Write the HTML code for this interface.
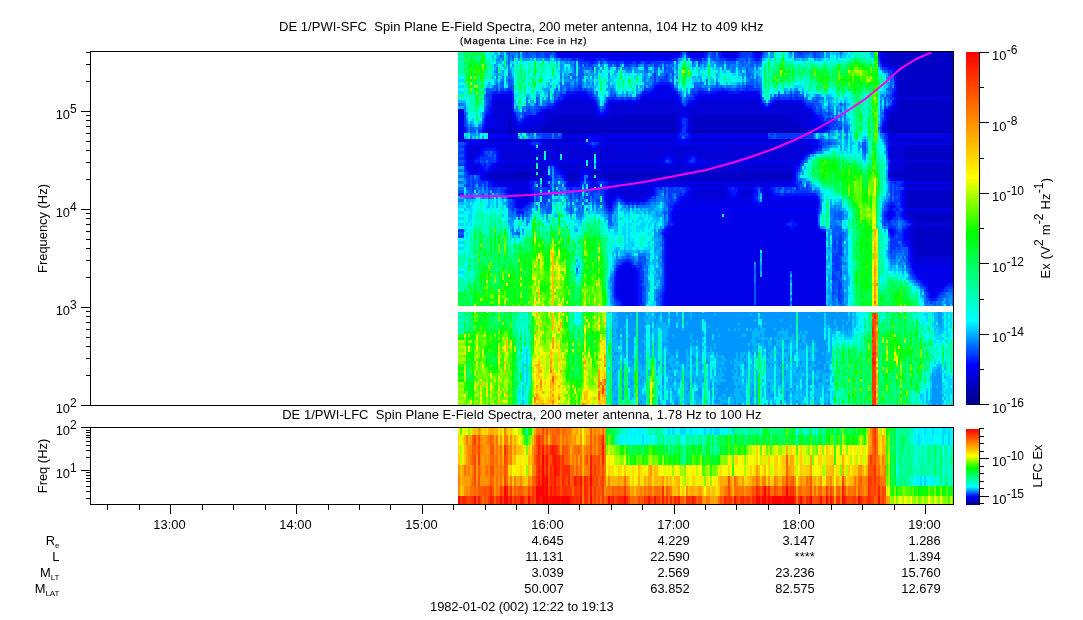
<!DOCTYPE html>
<html><head><meta charset="utf-8"><title>DE 1/PWI-SFC Spin Plane E-Field Spectra</title>
<style>
html,body{margin:0;padding:0;background:#fff;}
body{width:1083px;height:620px;overflow:hidden;}
svg{display:block;position:absolute;left:0;top:0;}
text{font-family:"Liberation Sans",sans-serif;fill:#000;}
</style></head><body>
<svg width="1083" height="620" viewBox="0 0 1083 620">
<rect width="1083" height="620" fill="#fff"/>
<g shape-rendering="crispEdges" fill="none">
<path stroke="#0000b4" stroke-width="1" d="M952.5 130v3"/>
<path stroke="#0000b4" stroke-width="2" d="M509 130v3M511 130v3M513 130v3M517 175v3M519 172v6M521 172v6M523 172v6M525 172v6M527 172v6M529 175v3M543 130v3M545 130v3M547 130v3M549 130v3M551 130v3M553 130v3M555 130v3M557 130v3M559 130v3M561 130v3M563 130v3M565 130v3M567 130v3M569 130v3M571 130v3M573 130v3M575 130v3M577 130v3M579 130v3M581 130v3M583 130v3M585 130v3M587 130v3M589 130v3M591 130v3M593 130v3M595 130v3M597 130v3M599 130v3M601 130v3M603 130v3M605 130v3M607 130v3M609 130v3M611 130v3M613 130v3M615 130v3M617 130v3M619 130v3M621 130v3M623 130v3M625 130v3M627 130v3M629 130v3M631 130v3M633 130v3M635 130v3M637 130v3M639 130v3M641 130v3M643 130v3M645 130v3M647 130v3M649 130v3M651 130v3M653 130v3M655 130v3M657 130v3M659 130v3M661 130v3M663 130v3M665 130v3M667 130v3M669 130v3M671 130v3M673 130v3M675 130v3M693 130v3M695 130v3M697 130v3M699 130v3M701 130v3M703 130v3M705 130v3M707 130v3M709 130v3M711 130v3M713 130v3M715 130v3M717 130v3M719 130v3M721 130v3M723 130v3M725 130v3M727 130v3M729 130v3M731 130v3M733 130v3M735 130v3M737 130v3M739 130v3M741 130v3M743 130v3M745 130v3M747 130v3M749 130v3M751 130v3M753 130v3M755 130v3M757 130v3M759 130v3M761 130v3M763 130v3M765 130v3M767 130v3M769 130v3M771 130v3M773 130v3M775 130v3M777 130v3M779 130v3M781 130v3M783 130v3M785 130v3M787 130v3M789 130v3M791 130v3M793 130v3M795 130v3M797 130v3M799 130v3M801 130v3M891 130v3M893 130v3M895 130v3M897 130v3M899 130v3M901 130v3M903 130v3M905 130v3M907 130v3M909 130v3M911 130v3M913 130v3M915 130v3M917 130v3M919 130v3M921 130v3M923 130v3M925 130v3M927 130v3M929 130v3M931 130v3M933 130v3M935 130v3M937 130v3M939 130v3M941 130v3M943 130v3M945 130v3M947 130v3M949 130v3M951 130v3"/>
<path stroke="#0000c6" stroke-width="1" d="M952.5 52v45M952.5 100v30M952.5 139v3M952.5 145v15M952.5 163v18M952.5 184v3M952.5 190v18M952.5 211v12M952.5 226v30"/>
<path stroke="#0000c6" stroke-width="2" d="M487 130v3M487 175v3M489 130v3M489 175v3M491 130v3M491 175v3M493 130v3M493 172v6M495 130v3M495 172v9M497 130v3M497 172v9M499 130v3M499 172v9M501 130v3M501 172v9M503 130v3M503 172v9M505 130v3M505 172v9M507 130v3M507 172v9M509 118v12M509 172v9M511 115v15M511 139v3M511 172v9M513 127v3M513 172v9M515 130v3M515 172v9M517 130v3M517 172v3M517 178v3M519 130v3M519 178v3M521 130v3M521 178v3M523 130v3M523 178v3M525 130v3M525 178v3M527 130v3M527 178v3M529 130v3M529 172v3M529 178v3M531 130v3M531 172v6M533 130v3M533 172v6M535 130v3M535 172v6M537 130v3M537 175v3M539 130v3M539 172v6M541 127v6M541 172v6M543 127v3M543 172v9M545 124v6M547 124v6M549 121v9M551 115v15M551 139v3M553 115v15M553 139v3M555 115v15M555 139v3M557 115v15M557 139v3M559 115v15M559 139v3M561 115v15M561 139v3M563 115v15M563 139v3M565 115v15M565 139v3M567 115v15M567 139v3M569 115v15M569 139v3M569 172v9M571 115v15M571 139v3M571 172v9M573 115v15M573 139v3M573 172v9M575 115v15M575 139v3M575 172v9M577 115v15M577 139v3M577 172v9M579 115v15M581 115v15M583 115v15M585 115v15M587 115v15M589 115v15M591 115v15M593 115v15M593 172v9M595 118v12M595 172v3M595 178v3M597 118v12M597 172v6M599 118v12M599 172v6M601 118v12M601 172v6M603 118v12M603 172v6M605 118v12M605 172v6M607 118v12M607 172v6M609 118v12M609 172v9M611 115v15M611 172v9M613 115v15M613 172v9M615 115v15M615 172v9M617 115v15M617 172v9M619 115v15M619 172v9M621 115v15M621 172v9M623 115v15M623 172v9M625 115v15M625 172v9M627 115v15M627 172v9M629 115v15M629 172v9M631 115v15M631 172v9M633 115v15M633 172v9M635 115v15M635 172v9M637 115v15M637 172v9M639 115v15M639 172v9M641 115v15M641 172v9M643 115v15M643 172v9M645 115v15M645 172v9M647 115v15M647 172v9M649 115v15M649 172v9M651 115v15M651 172v9M653 115v15M653 172v9M655 115v15M655 172v9M657 115v15M657 172v9M659 115v15M659 172v9M661 115v15M661 172v9M663 115v15M663 172v9M665 115v15M665 172v9M667 115v15M667 172v9M669 115v15M669 172v9M671 115v15M671 172v9M673 115v15M673 172v9M675 115v15M675 172v9M677 118v9M677 130v3M677 172v9M679 172v9M681 172v9M683 172v9M685 172v9M687 172v9M689 172v9M691 130v3M691 172v9M693 115v15M693 172v9M695 115v15M695 172v9M697 115v15M697 172v9M699 115v15M699 172v9M701 115v15M701 172v9M703 115v15M703 172v9M705 115v15M705 172v9M707 115v15M707 172v9M709 115v15M709 172v9M711 115v15M711 172v9M713 115v15M713 172v9M715 115v15M715 172v9M717 115v15M717 172v9M719 115v15M719 172v9M721 115v15M721 172v9M723 115v15M723 172v9M725 115v15M725 172v9M727 115v15M727 172v9M729 115v15M729 172v9M731 115v15M731 172v9M733 115v15M733 172v9M735 115v15M735 172v9M737 115v15M737 172v9M739 115v15M739 172v9M741 115v15M741 172v9M743 115v15M743 172v9M745 115v15M745 172v9M747 115v15M747 172v9M749 115v15M749 172v9M751 115v15M751 172v9M753 115v15M753 172v9M755 115v15M755 172v9M757 115v15M757 172v9M759 115v15M759 172v9M761 115v15M761 172v9M763 115v15M763 172v9M765 115v15M765 172v9M767 115v15M767 172v9M769 115v15M769 172v9M771 115v15M771 172v9M773 115v15M773 172v9M775 115v15M775 172v9M777 115v15M777 172v9M779 115v15M779 172v9M781 115v15M781 172v9M783 115v15M783 172v9M785 115v15M785 172v9M787 115v15M787 172v9M789 115v15M789 172v9M791 115v15M791 172v9M793 115v15M795 121v9M797 124v6M799 124v6M801 127v3M803 127v6M805 130v3M807 130v3M809 130v3M889 124v9M891 52v12M891 112v18M891 172v6M893 52v12M893 112v18M893 172v6M895 52v12M895 112v18M895 172v6M897 52v12M897 112v18M897 172v6M899 52v45M899 100v30M899 172v6M901 52v45M901 100v30M901 172v6M903 52v45M903 100v30M903 139v3M903 172v6M905 52v45M905 100v30M905 139v3M905 145v15M905 163v18M907 52v45M907 100v30M907 139v3M907 145v15M907 163v18M907 184v3M907 190v18M907 211v6M909 52v45M909 100v30M909 139v3M909 145v15M909 163v18M909 184v3M909 190v18M909 211v6M911 52v45M911 100v30M911 139v3M911 145v15M911 163v18M911 184v3M911 190v18M911 211v6M913 52v45M913 100v30M913 139v3M913 145v15M913 163v18M913 184v3M913 190v18M913 211v6M915 52v45M915 100v30M915 139v3M915 145v15M915 163v18M915 184v3M915 190v18M915 211v12M915 226v21M917 52v45M917 100v30M917 139v3M917 145v15M917 163v18M917 184v3M917 190v18M917 211v12M917 226v30M919 52v45M919 100v30M919 139v3M919 145v15M919 163v18M919 184v3M919 190v18M919 211v12M919 226v30M921 52v45M921 100v30M921 139v3M921 145v15M921 163v18M921 184v3M921 190v18M921 211v12M921 226v30M923 52v45M923 100v30M923 139v3M923 145v15M923 163v18M923 184v3M923 190v18M923 211v12M923 226v30M925 52v45M925 100v30M925 139v3M925 145v15M925 163v18M925 184v3M925 190v18M925 211v12M925 226v30M927 52v45M927 100v30M927 139v3M927 145v15M927 163v18M927 184v3M927 190v18M927 211v12M927 226v30M929 52v45M929 100v30M929 139v3M929 145v15M929 163v18M929 184v3M929 190v18M929 211v12M929 226v30M931 52v45M931 100v30M931 139v3M931 145v15M931 163v18M931 184v3M931 190v18M931 211v12M931 226v30M933 52v45M933 100v30M933 139v3M933 145v15M933 163v18M933 184v3M933 190v18M933 211v12M933 226v30M935 52v45M935 100v30M935 139v3M935 145v15M935 163v18M935 184v3M935 190v18M935 211v12M935 226v30M937 52v45M937 100v30M937 139v3M937 145v15M937 163v18M937 184v3M937 190v18M937 211v12M937 226v30M939 52v45M939 100v30M939 139v3M939 145v15M939 163v18M939 184v3M939 190v18M939 211v12M939 226v30M941 52v45M941 100v30M941 139v3M941 145v15M941 163v18M941 184v3M941 190v18M941 211v12M941 226v30M943 52v45M943 100v30M943 139v3M943 145v15M943 163v18M943 184v3M943 190v18M943 211v12M943 226v30M945 52v45M945 100v30M945 139v3M945 145v15M945 163v18M945 184v3M945 190v18M945 211v12M945 226v30M947 52v45M947 100v30M947 139v3M947 145v15M947 163v18M947 184v3M947 190v18M947 211v12M947 226v30M949 52v45M949 100v30M949 139v3M949 145v15M949 163v18M949 184v3M949 190v18M949 211v12M949 226v30M951 52v45M951 100v30M951 139v3M951 145v15M951 163v18M951 184v3M951 190v18M951 211v12M951 226v30"/>
<path stroke="#0000d7" stroke-width="1" d="M952.5 97v3M952.5 160v3M952.5 223v3M952.5 256v9"/>
<path stroke="#0000d7" stroke-width="2" d="M459 109v9M459 133v9M461 109v9M461 133v9M463 109v9M463 133v9M469 145v15M471 145v15M471 163v6M473 145v9M473 166v3M475 145v9M475 166v3M477 145v9M477 166v3M479 145v6M481 145v3M485 130v3M485 139v3M485 175v3M487 127v3M487 139v3M487 172v3M489 127v3M489 139v3M489 172v3M491 127v3M491 139v3M491 172v3M491 178v3M493 127v3M493 139v3M493 178v3M495 100v21M495 127v3M495 139v3M495 166v6M497 100v21M497 127v3M497 139v3M497 166v6M499 100v21M499 127v3M499 139v3M499 166v6M501 100v21M501 127v3M501 139v3M501 145v3M501 163v9M503 100v30M503 139v3M503 145v15M503 163v9M505 100v30M505 139v3M505 145v15M505 163v9M507 100v30M507 139v3M507 145v15M507 163v9M507 184v3M509 100v18M509 139v3M509 145v15M509 163v9M509 184v3M511 100v15M511 133v3M511 145v15M511 163v9M511 184v3M511 190v3M513 118v9M513 139v3M513 145v15M513 163v9M513 184v3M513 190v3M515 124v6M515 139v3M515 145v15M515 163v9M515 184v3M515 190v3M517 127v3M517 139v3M517 145v15M517 163v9M517 184v3M517 190v6M519 127v3M519 139v3M519 145v15M519 163v9M519 184v3M519 190v9M521 127v3M521 139v3M521 145v15M521 163v9M521 184v3M521 190v9M523 127v3M523 139v3M523 145v15M523 163v9M523 184v3M523 190v9M525 127v3M525 139v3M525 145v15M525 163v9M525 184v3M525 190v9M527 127v3M527 139v3M527 145v15M527 163v9M527 184v3M527 190v9M529 127v3M529 139v3M529 145v15M529 163v9M531 127v3M531 148v12M531 163v9M531 178v3M533 127v3M533 151v9M533 163v9M533 178v3M535 127v3M535 151v9M535 163v9M537 121v9M537 151v6M537 169v3M539 121v9M539 151v9M539 163v9M539 178v3M541 121v6M541 148v12M541 163v9M543 121v6M543 139v3M543 145v15M543 163v9M545 112v12M545 139v3M545 145v6M545 163v18M547 112v12M547 139v3M547 145v15M549 112v9M549 139v3M549 145v15M551 112v3M551 145v15M553 112v3M553 145v15M555 109v6M555 145v15M557 109v6M557 145v15M559 106v9M559 145v15M559 163v3M561 103v12M561 145v9M561 163v6M563 103v12M563 133v3M563 145v15M563 163v6M565 103v12M565 133v3M565 145v15M565 163v6M567 100v15M567 133v3M567 145v15M567 163v18M569 100v15M569 133v3M569 145v15M569 163v9M571 100v15M571 133v3M571 145v15M571 163v9M573 100v15M573 133v3M573 145v15M573 163v9M575 100v15M575 133v3M575 145v15M575 163v9M577 100v15M577 133v3M577 145v15M577 163v9M579 100v15M579 139v3M579 145v15M579 163v18M581 100v15M581 139v3M581 145v15M581 163v6M583 100v15M583 139v3M583 145v15M583 163v6M585 100v15M585 139v3M585 145v15M585 163v6M587 100v15M587 148v12M587 166v3M589 103v12M589 151v9M589 163v6M591 103v12M591 151v9M591 163v12M593 103v12M593 151v9M593 163v9M595 112v6M595 151v3M595 169v3M597 115v3M597 151v9M597 163v9M597 178v3M599 148v12M599 163v9M599 178v3M601 139v3M601 145v15M601 163v9M603 139v3M603 145v15M603 163v9M605 139v3M605 145v15M605 163v9M605 178v3M607 115v3M607 139v3M607 145v15M607 163v9M607 178v3M609 112v6M609 139v3M609 145v15M609 163v9M611 103v12M611 139v3M611 145v15M611 163v9M611 184v3M611 190v6M613 103v12M613 139v3M613 145v15M613 163v9M613 184v3M613 190v3M615 103v12M615 139v3M615 145v15M615 163v9M615 184v3M615 190v3M617 103v12M617 139v3M617 145v15M617 163v9M617 184v3M617 190v3M619 103v12M619 139v3M619 145v15M619 163v9M619 184v3M619 190v3M621 103v12M621 139v3M621 145v15M621 163v9M621 184v3M621 190v3M623 103v12M623 139v3M623 145v15M623 163v9M623 184v3M623 190v3M625 103v12M625 139v3M625 145v15M625 163v9M625 184v3M625 190v6M627 103v12M627 139v3M627 145v15M627 163v9M627 184v3M627 190v9M629 103v12M629 139v3M629 145v15M629 163v9M629 184v3M629 190v9M631 103v12M631 139v3M631 145v15M631 163v9M631 184v3M631 190v9M633 103v12M633 139v3M633 145v15M633 163v9M633 184v3M633 190v9M635 103v12M635 139v3M635 145v15M635 163v9M635 184v3M635 190v9M637 103v12M637 139v3M637 145v15M637 163v9M637 184v3M637 190v9M639 103v12M639 139v3M639 145v15M639 163v9M639 184v3M639 190v9M641 103v12M641 139v3M641 145v15M641 163v9M641 184v3M641 190v9M643 100v15M643 139v3M643 145v15M643 163v9M643 184v3M643 190v9M645 100v15M645 139v3M645 145v15M645 163v9M645 184v3M645 190v6M647 100v15M647 139v3M647 145v15M647 163v9M647 184v3M647 190v3M649 100v15M649 139v3M649 145v15M649 163v9M649 184v3M649 190v3M651 100v15M651 139v3M651 145v15M651 163v9M651 184v3M651 190v3M653 100v15M653 139v3M653 145v15M653 163v9M653 184v3M655 100v15M655 139v3M655 145v15M655 163v9M655 184v3M657 100v15M657 139v3M657 145v15M657 163v9M659 100v15M659 139v3M659 145v15M659 163v9M661 100v15M661 139v3M661 145v12M661 163v9M663 100v15M663 139v3M663 145v9M663 166v6M665 100v15M665 139v3M665 145v9M665 166v6M667 100v15M667 139v3M667 145v9M667 166v6M669 100v15M669 139v3M669 145v9M669 166v6M671 100v15M671 139v3M671 145v9M671 166v6M673 100v15M673 139v3M673 145v9M673 166v6M675 100v15M675 139v3M675 145v15M675 163v9M677 103v15M677 127v3M677 139v3M677 145v15M677 163v9M679 109v9M679 130v3M679 145v15M679 163v9M681 109v6M681 145v15M681 163v9M683 145v15M683 163v9M685 145v15M685 163v9M687 109v6M687 145v9M687 166v6M687 184v3M689 109v6M689 145v9M689 166v6M689 184v3M691 106v24M691 139v3M691 145v9M691 166v6M691 184v3M693 103v12M693 139v3M693 145v9M693 166v6M693 184v3M693 190v9M695 103v12M695 139v3M695 145v9M695 166v6M695 184v3M695 190v9M697 103v12M697 139v3M697 145v9M697 166v6M697 184v3M697 190v9M699 100v15M699 139v3M699 145v12M699 163v9M699 184v3M699 190v9M701 100v15M701 139v3M701 145v15M701 163v9M701 184v3M701 190v9M703 100v15M703 139v3M703 145v15M703 163v9M703 184v3M703 190v9M705 100v15M705 139v3M705 145v15M705 163v9M705 184v3M705 190v9M707 100v15M707 139v3M707 145v15M707 163v9M707 184v3M707 190v9M709 100v15M709 139v3M709 145v15M709 163v9M709 184v3M709 190v9M711 100v15M711 139v3M711 145v15M711 163v9M711 184v3M711 190v9M713 100v15M713 139v3M713 145v15M713 163v9M713 184v3M713 190v9M715 100v15M715 139v3M715 145v15M715 163v9M715 184v3M715 190v9M717 100v15M717 139v3M717 145v15M717 163v9M717 184v3M717 190v9M719 100v15M719 139v3M719 145v15M719 163v9M719 184v3M719 190v9M721 100v15M721 139v3M721 145v15M721 163v9M721 184v3M721 190v9M723 100v15M723 139v3M723 145v15M723 163v9M723 184v3M723 190v9M725 100v15M725 139v3M725 145v15M725 163v9M725 184v3M725 190v9M727 100v15M727 139v3M727 145v15M727 163v9M727 184v3M729 100v15M729 139v3M729 145v15M729 163v9M729 184v3M731 100v15M731 139v3M731 145v15M731 163v9M731 184v3M733 100v15M733 139v3M733 145v15M733 163v9M735 100v15M735 139v3M735 145v15M735 163v9M737 100v15M737 139v3M737 145v15M737 163v9M737 184v3M739 100v15M739 139v3M739 145v15M739 163v9M739 184v3M741 100v15M741 139v3M741 145v15M741 163v9M741 184v3M741 190v3M743 100v15M743 139v3M743 145v15M743 163v9M743 184v3M743 190v9M745 100v15M745 139v3M745 145v15M745 163v9M745 184v3M745 190v9M747 100v15M747 139v3M747 145v15M747 163v9M747 184v3M747 190v9M749 100v15M749 139v3M749 145v15M749 163v9M749 184v3M749 190v9M751 100v15M751 139v3M751 145v15M751 163v9M751 184v3M751 190v6M753 100v15M753 139v3M753 145v15M753 163v9M753 184v3M755 100v15M755 139v3M755 145v15M755 163v9M755 184v3M757 100v15M757 139v3M757 145v15M757 163v9M759 100v15M759 139v3M759 145v15M759 163v9M761 109v6M761 139v3M761 145v15M761 163v9M761 184v3M763 109v6M763 139v3M763 145v15M763 163v9M763 184v3M765 112v3M765 139v3M765 145v15M765 163v9M765 184v3M767 112v3M767 139v3M767 145v15M767 163v9M767 184v3M767 190v9M769 112v3M769 139v3M769 145v15M769 163v9M769 184v3M771 109v6M771 139v3M771 145v15M771 163v9M771 184v3M773 109v6M773 139v3M773 145v15M773 163v9M775 103v12M775 139v3M775 145v15M775 163v9M777 103v12M777 139v3M777 145v15M777 163v9M779 103v12M779 139v3M779 145v15M779 163v9M781 103v12M781 139v3M781 145v15M781 163v9M783 103v12M783 139v3M783 145v15M783 163v9M785 103v12M785 139v3M785 145v15M785 163v9M787 103v12M787 139v3M787 145v15M787 163v9M789 103v12M789 139v3M789 145v15M789 163v9M791 103v12M791 139v3M791 145v15M791 163v9M793 103v12M793 139v3M793 145v15M793 163v3M793 172v9M795 103v18M795 139v3M795 145v15M797 103v21M797 139v3M797 145v15M799 103v21M799 139v3M799 145v15M801 103v24M801 139v3M801 145v12M803 109v18M803 139v3M803 145v9M805 109v21M805 139v3M805 145v9M807 112v18M807 139v3M807 145v9M809 112v9M809 127v3M809 139v3M809 145v6M811 130v3M811 145v3M813 130v3M883 52v12M885 52v12M885 127v6M887 52v12M887 124v9M889 52v12M889 112v12M891 64v3M891 109v3M891 139v3M891 145v15M891 163v9M893 64v3M893 109v3M893 139v3M893 145v15M893 163v9M895 64v3M895 109v3M895 139v3M895 145v15M895 163v9M897 64v9M897 100v12M897 139v3M897 145v15M897 163v9M899 97v3M899 139v3M899 145v15M899 163v9M901 97v3M901 139v3M901 145v27M901 178v3M903 97v3M903 145v27M903 178v3M905 97v3M905 160v3M907 97v3M907 160v3M909 97v3M909 160v3M909 232v9M911 97v3M911 160v3M911 217v3M911 229v12M913 97v3M913 160v3M913 217v6M913 226v21M915 97v3M915 160v3M915 223v3M915 247v15M917 97v3M917 160v3M917 223v3M917 256v9M919 97v3M919 160v3M919 223v3M919 256v9M921 97v3M921 160v3M921 223v3M921 256v9M923 97v3M923 160v3M923 223v3M923 256v9M925 97v3M925 160v3M925 223v3M925 256v9M927 97v3M927 160v3M927 223v3M927 256v9M929 97v3M929 160v3M929 223v3M929 256v9M931 97v3M931 160v3M931 223v3M931 256v9M933 97v3M933 160v3M933 223v3M933 256v9M935 97v3M935 160v3M935 223v3M935 256v9M937 97v3M937 160v3M937 223v3M937 256v9M939 97v3M939 160v3M939 223v3M939 256v9M941 97v3M941 160v3M941 223v3M941 256v9M943 97v3M943 160v3M943 223v3M943 256v9M945 97v3M945 160v3M945 223v3M945 256v9M947 97v3M947 160v3M947 223v3M947 256v9M949 97v3M949 160v3M949 223v3M949 256v9M951 97v3M951 160v3M951 223v3M951 256v9"/>
<path stroke="#0000e8" stroke-width="1" d="M952.5 133v6M952.5 142v3M952.5 181v3M952.5 187v3M952.5 208v3M952.5 265v18"/>
<path stroke="#0000e8" stroke-width="2" d="M459 118v15M461 118v15M463 118v15M469 160v9M471 160v3M471 169v3M473 154v6M473 163v3M473 169v3M475 154v3M475 163v3M475 169v3M477 169v3M479 151v3M479 166v3M481 139v3M481 148v3M483 139v3M483 145v3M483 172v6M485 145v3M485 172v3M487 118v9M487 142v6M487 178v3M489 118v9M489 136v3M489 142v6M489 178v3M491 115v12M491 136v3M491 142v6M491 169v3M493 100v27M493 136v3M493 142v6M493 166v6M495 94v6M495 121v6M495 136v3M495 142v6M495 181v6M497 94v6M497 121v6M497 136v3M497 142v6M497 163v3M497 181v6M499 94v6M499 121v6M499 136v3M499 142v9M499 163v3M499 181v6M501 94v6M501 121v6M501 136v3M501 142v3M501 148v12M501 181v6M503 94v6M503 136v3M503 142v3M503 160v3M503 181v6M505 94v6M505 133v6M505 142v3M505 160v3M505 181v6M507 94v6M507 133v6M507 142v3M507 160v3M507 181v3M509 94v6M509 133v6M509 142v3M509 160v3M509 181v3M509 190v3M511 94v6M511 136v3M511 142v3M511 160v3M511 181v3M511 193v3M513 112v6M513 133v6M513 142v3M513 160v3M513 181v3M513 187v3M513 193v3M515 121v3M515 133v6M515 142v3M515 160v3M515 181v3M515 187v3M515 193v3M517 124v3M517 133v6M517 142v3M517 160v3M517 181v3M517 187v3M517 196v3M519 142v3M519 160v3M519 181v3M519 187v3M519 199v9M521 142v3M521 160v3M521 181v3M521 187v3M521 199v9M523 124v3M523 142v3M523 160v3M523 181v3M523 187v3M523 199v6M525 121v6M525 142v3M525 160v3M525 181v3M525 187v3M525 199v3M527 118v9M527 142v3M527 160v3M527 181v3M527 187v3M527 199v3M529 118v9M529 160v3M529 184v3M529 190v12M531 118v9M531 139v3M531 145v3M531 160v3M533 118v9M533 148v3M533 160v3M535 118v9M535 148v3M535 160v3M535 178v3M537 118v3M537 148v3M537 160v3M537 178v3M539 118v3M539 148v3M539 160v3M541 112v9M541 139v3M541 145v3M541 160v3M543 112v9M543 160v3M543 184v3M545 109v3M545 142v3M545 160v3M545 184v3M547 109v3M547 142v3M547 160v9M547 172v9M549 109v3M549 142v3M549 160v6M551 109v3M551 142v3M551 160v3M553 109v3M553 142v3M553 160v3M555 142v3M555 160v3M557 106v3M557 142v3M557 160v6M559 52v3M559 103v3M559 142v3M559 160v3M559 166v3M561 52v6M561 100v3M561 142v3M561 160v3M561 169v3M563 52v6M563 100v3M563 136v3M563 142v3M563 160v3M563 169v6M565 52v6M565 100v3M565 136v3M565 142v3M565 160v3M565 169v9M567 52v6M567 136v3M567 142v3M567 160v3M569 52v6M569 94v6M569 136v3M569 142v3M569 160v3M569 181v6M571 52v6M571 94v6M571 136v3M571 142v3M571 160v3M571 181v6M573 52v6M573 94v6M573 136v3M573 142v3M573 160v3M573 181v6M575 52v6M575 94v6M575 136v3M575 142v3M575 160v3M575 181v6M577 52v6M577 94v6M577 136v3M577 142v3M577 160v3M577 181v6M579 52v6M579 94v6M579 133v6M579 142v3M579 160v3M581 52v6M581 94v6M581 133v6M581 142v3M581 160v3M581 169v12M583 52v6M583 94v6M583 133v6M583 142v3M583 160v3M583 169v6M585 52v6M585 94v6M585 133v6M585 142v3M585 160v3M585 169v3M587 52v6M587 133v3M587 145v3M587 169v3M589 52v6M589 100v3M589 133v3M589 139v3M589 145v6M589 160v3M589 169v6M591 52v6M591 100v3M591 133v3M591 148v3M591 160v3M591 175v6M593 52v6M593 100v3M593 133v3M593 148v3M593 160v3M593 184v3M595 52v6M595 103v9M595 133v3M595 148v3M595 184v3M597 52v6M597 112v3M597 133v3M597 139v3M597 148v3M597 160v3M599 52v6M599 115v3M599 133v3M599 139v3M599 145v3M599 160v3M601 52v6M601 115v3M601 133v3M601 160v3M601 178v3M603 52v6M603 115v3M603 133v6M603 142v3M603 160v3M603 178v3M605 52v6M605 115v3M605 133v6M605 142v3M605 160v3M607 52v6M607 112v3M607 133v6M607 142v3M607 160v3M609 52v6M609 103v9M609 133v6M609 142v3M609 160v3M609 184v3M609 190v18M611 52v6M611 100v3M611 133v6M611 142v3M611 160v3M611 181v3M611 187v3M611 196v12M613 52v6M613 133v6M613 142v3M613 160v3M613 181v3M613 187v3M613 193v6M615 52v6M615 133v6M615 142v3M615 160v3M615 181v3M615 187v3M615 193v3M617 52v6M617 133v6M617 142v3M617 160v3M617 181v3M617 187v3M617 193v3M619 52v6M619 133v6M619 142v3M619 160v3M619 181v3M619 187v3M619 193v3M619 271v27M621 52v6M621 133v6M621 142v3M621 160v3M621 181v3M621 187v3M621 193v3M621 268v30M623 52v6M623 133v6M623 142v3M623 160v3M623 181v3M623 187v3M623 193v3M623 268v33M625 52v6M625 133v6M625 142v3M625 160v3M625 181v3M625 187v3M625 196v3M625 265v42M627 52v6M627 133v6M627 142v3M627 160v3M627 181v3M627 187v3M627 199v3M627 262v45M629 52v6M629 133v6M629 142v3M629 160v3M629 181v3M629 187v3M629 199v3M629 265v42M631 52v6M631 133v6M631 142v3M631 160v3M631 181v3M631 187v3M631 199v3M631 268v39M633 52v6M633 133v6M633 142v3M633 160v3M633 181v3M633 187v3M633 199v3M633 268v39M635 52v6M635 133v6M635 142v3M635 160v3M635 181v3M635 187v3M635 199v3M635 271v36M637 52v6M637 133v6M637 142v3M637 160v3M637 181v3M637 187v3M637 199v3M639 52v6M639 100v3M639 133v6M639 142v3M639 160v3M639 181v3M639 187v3M639 199v3M641 52v6M641 100v3M641 133v6M641 142v3M641 160v3M641 181v3M641 187v3M641 199v3M643 52v6M643 94v6M643 133v6M643 142v3M643 160v3M643 181v3M643 187v3M643 199v3M645 52v6M645 94v6M645 133v6M645 142v3M645 160v3M645 181v3M645 187v3M645 196v3M647 52v6M647 94v6M647 133v6M647 142v3M647 160v3M647 181v3M647 187v3M647 193v3M649 52v6M649 94v6M649 133v6M649 142v3M649 160v3M649 181v3M649 187v3M649 193v3M651 52v6M651 94v6M651 133v6M651 142v3M651 160v3M651 181v3M651 187v3M651 193v3M653 52v6M653 94v6M653 133v6M653 142v3M653 160v3M653 181v3M653 190v3M655 52v6M655 94v6M655 133v6M655 142v3M655 160v3M655 181v3M657 52v6M657 91v9M657 133v6M657 142v3M657 160v3M657 181v6M659 52v6M659 88v12M659 133v6M659 142v3M659 160v3M659 181v6M661 52v6M661 85v15M661 133v6M661 142v3M661 157v6M661 181v6M663 52v6M663 85v15M663 133v6M663 142v3M663 154v6M663 163v3M663 181v6M665 52v6M665 85v15M665 133v6M665 142v3M665 154v3M665 163v3M665 181v6M667 52v6M667 85v15M667 133v6M667 142v3M667 181v6M667 232v75M669 52v6M669 88v12M669 133v6M669 142v3M669 181v6M669 229v78M671 52v6M671 91v9M671 133v6M671 142v3M671 154v3M671 163v3M671 181v6M671 229v78M673 52v6M673 94v6M673 133v6M673 142v3M673 154v6M673 163v3M673 181v6M673 226v81M675 52v6M675 94v6M675 133v6M675 142v3M675 160v3M675 181v6M675 211v12M675 226v81M677 52v6M677 94v3M677 100v3M677 142v3M677 160v3M677 181v6M677 205v3M677 211v96M679 103v6M679 118v12M679 139v3M679 160v3M679 181v6M679 205v3M679 211v96M681 106v3M681 115v3M681 130v3M681 139v3M681 160v3M681 181v6M681 202v6M681 211v96M683 109v6M683 160v3M683 181v6M683 199v9M683 211v96M685 109v6M685 160v3M685 181v6M685 199v9M685 211v96M687 115v3M687 139v3M687 154v6M687 163v3M687 181v3M687 196v12M687 211v96M689 106v3M689 115v18M689 139v3M689 154v3M689 163v3M689 181v3M689 193v15M689 211v96M691 52v3M691 103v3M691 181v3M691 190v18M691 211v96M693 52v6M693 100v3M693 133v6M693 142v3M693 181v3M693 187v3M693 199v9M693 211v96M695 52v6M695 100v3M695 133v6M695 142v3M695 154v3M695 163v3M695 181v3M695 187v3M695 199v9M695 211v96M697 52v6M697 100v3M697 133v6M697 142v3M697 154v3M697 163v3M697 181v3M697 187v3M697 199v9M697 211v96M699 52v6M699 133v6M699 142v3M699 157v3M699 181v3M699 187v3M699 199v9M699 211v96M701 52v6M701 94v6M701 133v6M701 142v3M701 160v3M701 181v3M701 187v3M701 199v9M701 211v96M703 94v6M703 133v6M703 142v3M703 160v3M703 181v3M703 187v3M703 199v9M703 211v96M705 94v6M705 133v6M705 142v3M705 160v3M705 181v3M705 187v3M705 199v9M705 211v96M707 94v6M707 133v6M707 142v3M707 160v3M707 181v3M707 187v3M707 199v9M707 211v96M709 94v6M709 133v6M709 142v3M709 160v3M709 181v3M709 187v3M709 199v9M709 211v96M711 94v6M711 133v6M711 142v3M711 160v3M711 181v3M711 187v3M711 199v9M711 211v96M713 94v6M713 133v6M713 142v3M713 160v3M713 181v3M713 187v3M713 199v9M713 211v96M715 94v6M715 133v6M715 142v3M715 160v3M715 181v3M715 187v3M715 199v9M715 211v96M717 94v6M717 133v6M717 142v3M717 160v3M717 181v3M717 187v3M717 199v9M717 211v96M719 94v6M719 133v6M719 142v3M719 160v3M719 181v3M719 187v3M719 199v9M719 211v96M721 94v6M721 133v6M721 142v3M721 160v3M721 181v3M721 187v3M721 199v9M721 211v96M723 94v6M723 133v6M723 142v3M723 160v3M723 181v3M723 187v3M723 199v9M723 211v3M723 217v90M725 52v6M725 94v6M725 133v6M725 142v3M725 160v3M725 181v3M725 187v3M725 199v9M725 211v96M727 52v6M727 94v6M727 133v6M727 142v3M727 160v3M727 181v3M727 190v18M727 211v96M729 52v6M729 94v6M729 133v6M729 142v3M729 160v3M729 181v3M729 193v15M729 211v96M731 52v6M731 94v6M731 133v6M731 142v3M731 160v3M731 181v3M731 196v12M731 211v96M733 52v6M733 94v6M733 133v6M733 142v3M733 160v3M733 181v6M733 199v9M733 211v96M735 52v6M735 94v6M735 133v6M735 142v3M735 160v3M735 181v6M735 199v9M735 211v96M737 94v6M737 133v6M737 142v3M737 160v3M737 181v3M737 196v12M737 211v96M739 94v6M739 133v6M739 142v3M739 160v3M739 181v3M739 193v15M739 211v96M741 94v6M741 133v6M741 142v3M741 160v3M741 181v3M741 193v15M741 211v96M743 94v6M743 133v6M743 142v3M743 160v3M743 181v3M743 187v3M743 199v9M743 211v96M745 94v6M745 133v6M745 142v3M745 160v3M745 181v3M745 187v3M745 199v9M745 211v96M747 94v6M747 133v6M747 142v3M747 160v3M747 181v3M747 187v3M747 199v9M747 211v96M749 94v6M749 133v6M749 142v3M749 160v3M749 181v3M749 187v3M749 199v9M749 211v96M751 94v6M751 133v6M751 142v3M751 160v3M751 181v3M751 196v12M751 211v96M753 94v6M753 133v6M753 142v3M753 160v3M753 181v3M753 190v3M753 202v6M753 211v96M755 94v6M755 133v6M755 142v3M755 160v3M755 181v3M755 205v3M755 211v51M757 52v3M757 94v6M757 133v6M757 142v3M757 160v3M757 181v6M757 205v3M757 211v96M759 52v6M759 94v3M759 133v6M759 142v3M759 160v3M759 181v6M759 205v3M759 211v96M761 103v6M761 133v6M761 142v3M761 160v3M761 181v3M761 205v3M761 211v39M761 277v30M763 106v3M763 133v6M763 142v3M763 160v3M763 181v3M763 205v3M763 211v96M765 109v3M765 133v6M765 142v3M765 160v3M765 181v3M765 190v18M765 211v96M767 109v3M767 133v6M767 142v3M767 160v3M767 181v3M767 199v9M767 211v96M769 109v3M769 142v3M769 160v3M769 181v3M769 190v18M769 211v96M771 106v3M771 142v3M771 160v3M771 181v3M771 196v12M771 211v96M773 103v6M773 142v3M773 160v3M773 181v6M773 196v12M773 211v96M775 100v3M775 142v3M775 160v3M775 181v6M775 199v9M775 211v96M777 100v3M777 142v3M777 160v3M777 181v6M777 199v9M777 211v96M779 100v3M779 142v3M779 160v3M779 181v6M779 199v9M779 211v96M781 100v3M781 142v3M781 160v3M781 181v6M781 199v9M781 211v96M783 100v3M783 142v3M783 160v3M783 181v6M783 199v9M783 211v96M785 100v3M785 142v3M785 160v3M785 181v6M785 199v9M785 211v12M785 226v81M787 100v3M787 142v3M787 160v3M787 181v6M787 199v9M787 211v9M787 229v78M789 100v3M789 142v3M789 160v3M789 181v6M789 199v9M789 211v9M789 229v78M791 100v3M791 142v3M791 160v3M791 181v6M791 199v9M791 211v6M791 229v42M793 100v3M793 142v3M793 160v3M793 166v6M793 184v3M793 199v9M793 211v6M793 229v78M795 100v3M795 142v3M795 160v6M795 199v9M795 211v9M795 229v78M797 100v3M797 142v3M797 160v3M797 199v9M797 211v12M797 226v81M799 100v3M799 142v3M799 160v3M799 199v9M799 211v12M799 226v81M801 142v3M801 157v3M801 199v9M801 211v96M803 106v3M803 142v3M803 154v3M803 199v9M803 211v96M805 142v3M805 199v9M805 211v96M807 109v3M807 142v3M807 199v9M807 211v96M809 109v3M809 121v6M809 142v3M809 151v3M809 199v9M809 211v96M811 112v18M811 139v3M811 148v3M811 199v9M811 211v96M813 115v15M813 139v3M813 145v3M813 199v9M813 211v96M815 118v15M815 145v3M815 199v9M815 211v96M817 118v15M817 199v9M817 211v3M817 226v81M819 121v9M819 229v78M821 124v6M821 232v75M823 127v3M823 232v75M825 127v3M825 232v75M883 127v6M885 64v3M885 124v3M887 64v3M887 115v9M889 64v3M889 109v3M889 139v3M889 214v3M891 133v6M891 142v3M891 160v3M891 178v3M891 205v3M891 211v6M891 229v6M893 67v3M893 106v3M893 133v6M893 142v3M893 160v3M893 178v3M895 67v3M895 106v3M895 133v6M895 142v3M895 160v3M895 178v3M897 73v27M897 133v6M897 142v3M897 160v3M897 178v3M899 133v6M899 142v3M899 160v3M899 178v3M901 133v6M901 142v3M903 133v6M903 142v3M905 133v6M905 142v3M905 184v3M905 190v18M905 211v6M907 133v6M907 142v3M907 181v3M907 187v3M907 208v3M907 217v3M907 229v12M909 133v6M909 142v3M909 181v3M909 187v3M909 208v3M909 217v3M909 229v3M909 241v3M911 133v6M911 142v3M911 181v3M911 187v3M911 208v3M911 220v3M911 226v3M911 241v6M913 133v6M913 142v3M913 181v3M913 187v3M913 208v3M913 247v15M915 133v6M915 142v3M915 181v3M915 187v3M915 208v3M915 262v12M917 133v6M917 142v3M917 181v3M917 187v3M917 208v3M917 265v9M919 133v6M919 142v3M919 181v3M919 187v3M919 208v3M919 265v9M921 133v6M921 142v3M921 181v3M921 187v3M921 208v3M921 265v12M923 133v6M923 142v3M923 181v3M923 187v3M923 208v3M923 265v15M925 133v6M925 142v3M925 181v3M925 187v3M925 208v3M925 265v18M927 133v6M927 142v3M927 181v3M927 187v3M927 208v3M927 265v18M929 133v6M929 142v3M929 181v3M929 187v3M929 208v3M929 265v21M931 133v6M931 142v3M931 181v3M931 187v3M931 208v3M931 265v33M933 133v6M933 142v3M933 181v3M933 187v3M933 208v3M933 265v33M935 133v6M935 142v3M935 181v3M935 187v3M935 208v3M935 265v27M937 133v6M937 142v3M937 181v3M937 187v3M937 208v3M937 265v27M939 133v6M939 142v3M939 181v3M939 187v3M939 208v3M939 265v24M941 133v6M941 142v3M941 181v3M941 187v3M941 208v3M941 265v24M943 133v6M943 142v3M943 181v3M943 187v3M943 208v3M943 265v21M945 133v6M945 142v3M945 181v3M945 187v3M945 208v3M945 265v18M947 133v6M947 142v3M947 181v3M947 187v3M947 208v3M947 265v18M949 133v6M949 142v3M949 181v3M949 187v3M949 208v3M949 265v18M951 133v6M951 142v3M951 181v3M951 187v3M951 208v3M951 265v18"/>
<path stroke="#0000fa" stroke-width="2" d="M465 130v3M465 139v3M467 139v3M467 145v24M469 139v6M469 169v3M471 139v6M471 172v3M473 139v6M473 160v3M473 172v3M475 139v6M475 157v3M475 172v3M477 139v6M477 154v3M477 163v3M477 172v3M479 139v6M479 154v3M479 163v3M479 169v6M481 142v3M481 151v3M481 166v12M483 130v3M483 142v3M483 148v3M483 169v3M483 178v3M485 124v6M485 142v3M485 178v3M487 115v3M489 115v3M489 133v3M489 169v3M491 109v6M491 133v3M491 166v3M493 94v6M493 133v3M493 163v3M493 181v6M495 133v3M495 163v3M497 133v3M497 148v3M499 133v3M499 151v12M501 133v3M501 160v3M503 133v3M507 190v3M509 187v3M509 193v3M511 91v3M511 187v3M513 109v3M513 196v3M515 115v6M515 196v3M517 121v3M517 199v9M519 124v3M521 124v3M523 121v3M523 205v3M525 118v3M525 202v3M527 202v3M529 115v3M529 142v3M529 181v3M529 187v3M531 115v3M531 184v3M531 190v12M533 115v3M533 139v3M533 145v3M535 115v3M535 139v3M537 115v3M537 139v3M539 112v6M539 139v3M539 145v3M543 109v3M543 142v3M543 181v3M545 181v3M547 169v3M547 184v3M549 175v6M551 163v3M553 106v3M553 163v3M555 106v3M555 163v3M557 52v3M557 103v3M557 166v3M559 55v3M559 100v3M559 169v3M561 172v3M565 97v3M565 178v3M567 94v6M567 184v3M577 91v3M579 91v3M579 181v6M581 91v3M583 91v3M583 175v6M585 58v3M585 91v3M585 172v3M587 58v3M587 94v6M587 136v3M587 142v3M587 172v3M589 58v3M589 97v3M589 136v3M589 175v6M591 58v3M591 136v6M591 145v3M591 184v3M593 58v3M593 136v6M593 181v3M595 58v3M595 100v3M595 136v6M595 181v3M597 106v6M597 136v3M597 145v3M597 184v3M599 112v3M599 136v3M601 136v3M601 142v3M605 112v3M607 106v6M607 184v3M607 190v15M609 58v3M609 100v3M609 181v3M609 187v3M611 58v3M613 58v3M613 100v3M613 199v3M615 58v3M615 100v3M615 196v3M617 58v3M617 100v3M617 271v27M619 58v3M619 100v3M619 268v3M619 298v3M621 58v3M621 100v3M621 196v3M621 265v3M621 298v3M623 58v3M623 100v3M623 196v3M623 265v3M623 301v6M625 58v3M625 100v3M625 199v3M625 262v3M627 58v3M627 100v3M629 58v3M629 100v3M629 262v3M631 58v3M631 100v3M631 265v3M633 58v3M633 100v3M635 58v3M635 100v3M635 268v3M637 58v3M637 100v3M637 271v36M639 58v3M641 58v3M641 97v3M643 58v3M645 58v3M645 199v3M647 58v3M647 196v3M649 58v3M649 196v3M651 58v3M651 91v3M653 58v3M653 91v3M653 187v3M653 193v3M655 58v3M655 88v6M657 58v3M657 85v6M659 58v3M659 85v3M661 58v3M663 58v3M663 160v3M665 58v3M665 157v3M665 232v6M665 292v15M667 58v3M667 154v3M667 163v3M667 229v3M669 58v3M669 85v3M669 154v3M669 163v3M669 226v3M671 88v3M671 157v3M671 226v3M673 91v3M673 160v3M673 211v12M675 91v3M675 205v6M675 223v3M677 97v3M677 133v6M677 208v3M679 52v3M679 100v3M679 142v3M679 202v3M679 208v3M681 103v3M681 118v12M681 142v3M681 199v3M681 208v3M683 106v3M683 115v3M683 139v6M683 196v3M683 208v3M685 106v3M685 115v3M685 139v6M685 196v3M685 208v3M687 106v3M687 130v3M687 142v3M687 160v3M687 193v3M687 208v3M689 52v3M689 103v3M689 142v3M689 157v3M689 190v3M689 208v3M691 55v3M691 100v3M691 133v6M691 142v3M691 154v3M691 163v3M691 187v3M691 208v3M693 154v3M693 163v3M693 208v3M695 208v3M697 97v3M697 157v6M697 208v3M699 94v6M699 160v3M699 208v3M701 91v3M701 208v3M703 52v6M703 208v3M705 208v3M707 208v3M709 208v3M711 208v3M713 208v3M715 208v3M717 91v3M717 208v3M719 91v3M719 208v3M721 91v3M721 208v3M723 52v6M723 91v3M723 208v3M725 91v3M725 208v3M727 91v3M727 187v3M727 208v3M729 190v3M729 208v3M731 193v3M731 208v3M733 196v3M733 208v3M735 196v3M735 208v3M737 52v6M737 193v3M737 208v3M739 187v6M739 208v3M741 91v3M741 187v3M741 208v3M743 91v3M743 208v3M745 91v3M745 208v3M747 91v3M747 208v3M749 91v3M749 208v3M751 91v3M751 187v3M751 208v3M753 91v3M753 187v3M753 193v9M753 208v3M755 52v3M755 91v3M755 190v3M755 202v3M755 208v3M757 55v3M757 91v3M757 202v3M757 208v3M759 97v3M759 208v3M761 52v3M761 100v3M761 202v3M761 208v3M763 103v3M763 190v15M763 208v3M765 106v3M765 187v3M765 208v3M767 106v3M767 187v3M767 208v3M769 106v3M769 187v3M769 208v3M771 103v3M771 190v6M771 208v3M773 193v3M773 208v3M775 196v3M775 208v3M777 196v3M777 208v3M779 196v3M779 208v3M781 196v3M781 208v3M783 196v3M783 208v3M785 196v3M785 208v3M785 223v3M787 196v3M787 208v3M787 220v3M787 226v3M789 196v3M789 208v3M789 220v3M789 226v3M791 196v3M791 208v3M791 217v3M793 181v3M793 196v3M793 208v3M793 217v3M793 226v3M795 166v15M795 184v3M795 196v3M795 208v3M795 220v3M795 226v3M797 163v3M797 196v3M797 208v3M799 163v3M799 196v3M799 208v3M799 223v3M801 100v3M801 196v3M801 208v3M803 103v3M803 157v3M803 196v3M803 208v3M805 106v3M805 154v3M805 196v3M805 208v3M807 106v3M807 196v3M807 208v3M809 196v3M809 208v3M811 109v3M811 142v3M811 151v3M811 196v3M811 208v3M813 112v3M813 142v3M813 148v3M813 196v3M813 208v3M815 115v3M815 139v6M815 196v3M815 208v3M817 115v3M817 139v9M817 196v3M817 214v12M819 118v3M819 130v3M821 121v3M821 130v3M821 229v3M823 124v3M823 130v3M825 124v3M827 127v3M881 52v9M883 64v3M883 124v3M885 121v3M887 109v6M887 214v3M889 133v6M889 145v12M889 172v6M889 211v3M889 217v3M891 67v3M891 106v3M891 208v3M891 217v3M893 205v3M893 211v6M893 229v6M895 70v6M895 91v6M895 100v6M903 184v3M903 190v18M903 211v6M905 181v3M905 187v3M905 208v3M905 217v3M905 229v12M907 241v3M909 220v3M909 226v3M909 244v3M911 247v15M913 223v3M913 262v9M917 274v3M919 274v6M921 277v3M923 280v3M925 283v3M927 283v3M929 286v6M935 292v6M937 292v3M939 289v3M941 289v3M943 286v3M945 283v3M947 283v3"/>
<path stroke="#0016ff" stroke-width="1" d="M952.5 283v3"/>
<path stroke="#0016ff" stroke-width="2" d="M465 127v3M465 145v15M465 163v3M467 142v3M467 169v3M469 172v3M475 160v3M477 157v3M479 157v6M481 154v3M481 163v3M481 178v3M483 127v3M483 151v6M483 166v3M485 118v6M485 148v3M485 163v9M487 112v3M487 148v3M487 169v3M489 106v9M489 148v3M489 166v3M489 181v6M491 100v9M491 148v3M491 163v3M491 181v6M493 148v3M495 91v3M495 148v3M497 91v3M497 151v12M501 91v3M503 91v3M505 91v3M505 190v3M507 91v3M507 187v3M507 193v3M509 91v3M509 196v3M511 196v3M513 94v15M515 112v3M515 199v9M517 118v3M517 211v3M519 121v3M519 208v6M521 121v3M521 208v6M523 118v3M523 211v3M525 115v3M525 205v3M527 115v3M529 202v3M531 142v3M531 181v3M531 187v3M533 181v6M533 190v12M535 145v3M537 112v3M539 181v6M541 109v3M541 142v3M547 106v3M547 181v3M549 106v3M549 184v6M551 106v3M551 178v3M555 103v3M555 166v6M557 55v3M557 100v3M557 169v6M559 97v3M559 172v3M563 94v6M563 175v3M565 94v3M567 91v3M567 181v3M569 91v3M571 91v3M571 187v3M573 58v3M573 91v3M575 58v3M575 91v3M579 58v3M581 58v3M581 88v3M581 181v6M583 58v3M587 91v3M587 178v3M589 94v3M589 142v3M589 181v9M591 61v3M591 94v6M591 181v3M593 61v3M593 97v3M593 145v3M593 187v3M595 145v3M597 58v3M597 103v3M597 181v3M599 58v3M599 109v3M599 142v3M599 184v3M601 58v3M601 112v3M603 112v3M603 184v3M605 58v3M605 109v3M605 181v6M605 190v12M607 58v3M607 103v3M607 181v3M607 205v3M609 208v3M611 208v3M613 97v3M613 202v3M615 199v3M615 277v21M617 61v3M617 196v3M617 268v3M617 298v3M619 196v3M619 265v3M621 301v6M623 199v3M623 262v3M625 61v3M627 61v3M627 202v3M627 259v3M629 61v3M629 202v3M631 61v3M631 262v3M633 202v3M633 265v3M635 265v3M637 61v3M637 97v3M637 202v3M637 268v3M639 61v3M639 202v3M639 268v39M641 94v3M641 280v3M641 286v18M643 91v3M643 202v3M645 91v3M647 61v3M647 91v3M647 199v3M649 61v3M649 91v3M651 196v3M653 88v3M655 85v3M655 187v9M659 82v3M661 82v3M661 187v3M663 82v3M663 232v3M663 292v15M665 82v3M665 160v3M665 229v3M665 238v54M667 82v3M667 157v3M667 226v3M669 82v3M669 157v3M669 223v3M671 58v3M671 85v3M671 160v3M671 205v3M671 211v12M673 58v3M673 85v6M673 205v6M673 223v3M675 58v3M675 202v3M677 91v3M677 199v6M679 55v3M679 94v6M679 133v6M679 196v6M681 52v3M681 97v6M681 136v3M681 193v6M683 124v3M685 193v3M687 52v3M687 103v3M687 118v12M687 136v3M687 187v6M689 55v3M689 100v3M689 133v6M689 160v3M689 187v3M691 157v3M693 58v3M695 58v3M695 94v6M695 157v6M697 58v3M697 94v3M699 58v3M699 91v3M701 58v3M703 91v3M705 52v6M705 91v3M707 52v3M707 91v3M711 91v3M713 91v3M715 91v3M719 52v3M721 52v6M723 88v3M727 58v3M729 58v3M729 91v3M729 187v3M731 58v3M731 91v3M731 187v6M733 58v3M733 91v3M733 190v6M735 58v3M735 91v3M735 187v9M737 91v3M737 187v6M739 52v6M739 91v3M747 88v3M753 52v6M755 55v6M755 187v3M755 193v9M757 58v3M757 187v9M757 199v3M759 58v3M759 91v3M759 202v3M761 55v3M761 97v3M761 187v6M763 187v3M765 103v3M769 103v3M771 187v3M773 100v3M773 187v6M775 193v3M777 193v3M779 97v3M779 193v3M785 193v3M787 193v3M787 223v3M789 193v3M791 97v3M791 193v3M791 220v3M791 226v3M793 193v3M793 220v6M795 181v3M795 193v3M795 223v3M797 97v3M797 166v6M797 184v6M797 193v3M797 223v3M799 166v3M799 193v3M801 160v3M801 193v3M803 100v3M803 193v3M805 103v3M805 193v3M807 154v3M807 193v3M809 106v3M809 193v3M811 106v3M811 193v3M813 109v3M813 151v3M813 193v3M815 112v3M815 148v3M815 193v3M817 148v3M817 208v3M819 115v3M819 139v9M819 199v9M819 226v3M821 115v6M821 145v3M823 118v6M823 229v3M825 121v3M825 130v3M825 229v3M827 124v3M829 124v6M879 52v6M881 61v3M883 121v3M885 109v12M885 214v3M887 67v3M887 133v3M887 139v3M887 211v3M887 217v3M889 67v3M889 106v3M889 142v3M889 157v3M889 163v9M889 205v6M889 220v3M889 229v3M891 202v3M891 226v3M891 235v3M893 70v3M893 94v3M893 100v6M893 202v3M893 208v3M893 217v3M893 235v3M895 76v15M895 97v3M895 181v3M895 205v3M895 211v6M895 229v6M897 208v3M901 184v3M901 190v18M901 211v6M903 181v3M903 208v3M903 217v3M903 229v15M905 241v6M907 220v3M907 226v3M907 244v3M909 247v15M911 223v3M911 262v6M913 271v3M915 274v3M917 277v3M921 280v3M923 283v3M927 286v6M929 292v6M931 298v3M933 298v3M935 298v3M937 295v3M939 292v3M943 289v3M945 286v3M949 283v3M951 283v3"/>
<path stroke="#0036ff" stroke-width="1" d="M952.5 286v3"/>
<path stroke="#0036ff" stroke-width="2" d="M459 145v3M459 151v3M459 157v3M459 163v3M459 193v3M459 229v3M459 235v3M461 145v3M461 151v3M461 157v3M461 163v3M461 193v3M461 229v3M461 235v3M463 145v3M463 151v3M463 157v3M463 163v3M463 193v3M463 229v3M463 235v3M465 115v12M465 142v3M465 160v3M465 166v6M467 127v6M467 172v6M467 184v3M469 175v12M473 175v18M475 181v3M477 160v3M479 130v3M479 175v12M481 130v3M481 157v3M481 181v6M483 124v3M483 157v9M483 181v3M485 115v3M485 151v12M485 181v9M487 94v3M487 106v6M487 154v6M487 163v6M489 94v12M489 151v3M489 157v9M489 187v3M489 193v3M491 91v9M491 157v6M491 187v3M493 91v3M493 151v12M493 187v6M495 151v3M495 160v3M495 187v6M497 88v3M497 187v3M499 91v3M501 88v3M501 187v6M503 88v3M503 187v6M505 187v3M505 193v3M507 88v3M509 88v3M511 85v6M511 202v3M513 91v3M513 199v12M517 115v3M517 208v3M519 214v3M521 118v3M523 112v3M523 208v3M523 214v3M525 112v3M525 208v3M527 52v3M527 112v3M527 205v6M529 109v6M529 205v3M531 112v3M531 202v3M533 142v3M533 187v3M535 142v3M535 187v6M537 52v6M537 103v3M537 109v3M537 142v3M537 181v3M537 187v15M539 52v3M539 106v6M539 133v3M539 142v3M539 187v9M541 106v3M541 193v3M541 202v3M543 106v3M543 133v6M543 187v15M545 52v6M545 106v3M545 133v6M545 187v18M547 52v6M547 133v6M547 187v15M549 52v6M549 103v3M549 133v6M549 193v6M551 52v3M551 103v3M551 133v6M551 166v12M551 181v3M551 187v6M553 103v3M555 52v6M555 100v3M555 133v6M555 172v6M555 184v3M557 133v6M557 175v3M559 136v3M561 91v9M561 136v3M561 175v3M563 58v3M563 178v3M565 184v3M567 58v3M567 187v3M569 88v3M569 187v3M571 58v3M571 190v9M573 187v3M575 88v3M575 187v9M577 58v3M577 88v3M577 187v6M579 61v3M579 85v6M579 187v12M581 61v6M581 85v3M581 187v9M583 61v3M583 181v3M585 61v6M585 88v3M585 184v3M585 196v3M587 61v3M587 181v3M587 190v3M587 196v3M589 61v6M589 91v3M589 196v6M591 64v3M591 91v3M591 142v3M591 187v9M593 67v3M593 94v3M593 190v9M595 61v3M595 97v3M595 142v3M595 190v3M597 61v3M597 100v3M597 142v3M597 187v6M597 199v3M599 106v3M599 181v3M599 199v3M601 61v3M601 181v3M601 187v9M603 58v3M603 109v3M603 181v3M603 187v12M605 103v6M605 187v3M605 202v6M607 97v6M607 187v3M607 208v3M609 61v3M609 97v3M609 211v3M611 61v3M611 97v3M611 211v3M613 61v3M613 205v6M615 61v3M615 94v6M615 202v3M615 271v6M615 298v3M617 64v3M617 97v3M617 199v3M617 265v3M617 301v9M619 61v6M619 301v6M621 61v3M621 97v3M621 199v3M621 262v3M623 97v3M623 259v3M625 64v3M625 202v3M625 259v3M627 64v3M627 97v3M629 64v3M629 97v3M629 259v3M631 97v3M631 202v3M631 259v3M633 61v3M633 262v3M635 61v3M635 202v3M637 64v3M637 265v3M639 94v6M639 262v6M641 61v3M641 202v3M641 262v18M641 283v3M641 304v3M643 271v12M643 286v6M643 295v3M643 301v6M645 61v6M645 88v3M645 202v3M647 67v3M647 88v3M649 88v3M649 199v3M651 61v3M651 88v3M653 61v3M653 85v3M655 61v6M655 73v12M655 196v3M657 61v6M657 82v3M657 187v9M659 61v3M659 187v3M661 61v3M661 79v3M661 295v3M661 301v6M663 79v3M663 229v3M663 235v6M663 244v3M663 250v12M663 286v6M665 61v9M665 76v6M665 187v9M665 226v3M667 61v3M667 73v9M669 61v3M669 160v3M669 187v12M669 202v21M671 61v3M671 82v3M671 187v18M671 208v3M671 223v3M673 73v3M673 82v3M673 187v6M673 199v6M675 88v3M675 190v3M677 58v3M677 187v12M679 187v9M681 55v3M681 133v3M681 190v3M683 103v3M683 118v6M683 127v9M683 187v3M683 193v3M685 118v21M685 187v6M687 55v3M687 100v3M687 133v3M689 97v3M691 97v3M691 160v3M693 91v9M693 157v6M695 91v3M697 91v3M699 61v3M699 88v3M701 88v3M703 88v3M705 58v3M707 55v3M709 91v3M713 52v6M713 88v3M715 52v6M715 88v3M717 88v3M719 55v3M719 88v3M721 58v3M721 88v3M723 58v3M725 58v3M725 88v3M727 88v3M729 88v3M733 187v3M737 58v3M737 88v3M739 88v3M741 52v6M743 52v6M743 88v3M745 52v6M745 88v3M745 307v3M747 52v9M747 85v3M749 52v3M749 85v6M751 52v6M751 85v6M753 58v3M753 85v6M755 88v3M755 304v3M757 61v3M757 88v3M757 196v3M759 88v3M761 58v3M761 94v3M763 52v3M769 136v3M771 100v3M771 133v6M773 133v3M775 97v3M775 187v6M777 97v3M777 133v6M779 94v3M779 133v6M779 187v6M781 97v3M781 133v6M781 187v3M781 193v3M783 97v3M783 133v6M783 193v3M785 97v3M785 133v6M785 187v6M787 97v3M787 133v6M787 187v3M789 97v3M789 133v6M789 187v3M789 223v3M791 94v3M791 133v6M791 187v6M791 223v3M793 97v3M793 133v6M795 94v6M795 133v6M795 190v3M797 94v3M797 133v6M797 172v12M797 190v3M799 52v3M799 97v3M799 133v6M799 169v3M799 181v12M801 52v3M801 97v3M801 133v6M801 163v3M801 181v3M801 190v3M803 97v3M803 133v6M803 160v3M803 187v6M805 100v3M805 133v6M805 157v3M805 190v3M807 103v3M807 133v6M807 184v9M809 103v3M809 133v6M809 154v3M809 190v3M811 103v3M811 133v6M813 103v6M813 133v6M815 52v6M815 106v6M815 151v3M817 112v3M817 193v3M819 112v3M819 148v3M819 196v3M819 208v6M821 109v6M821 139v6M821 148v3M823 115v3M823 142v3M827 118v6M827 130v3M829 112v12M829 130v3M829 142v3M829 307v3M831 118v12M831 307v3M833 118v9M833 244v3M833 253v9M833 265v3M833 271v9M833 286v3M833 292v3M835 121v3M835 127v3M835 238v12M835 256v15M835 274v9M837 124v3M837 253v18M837 277v3M839 127v3M839 238v33M839 280v21M841 127v3M841 235v21M841 262v3M841 268v9M841 283v6M841 295v3M841 301v3M879 58v3M881 64v3M881 127v6M883 67v3M883 118v3M885 67v3M885 106v3M885 133v6M885 211v3M885 217v9M887 136v3M887 142v9M887 205v6M887 220v3M889 70v3M889 160v3M889 178v3M889 202v3M889 223v6M889 232v3M891 70v6M891 94v6M891 103v3M891 181v21M891 220v6M891 238v15M893 73v3M893 88v6M893 97v3M893 181v3M893 226v3M893 238v12M895 184v21M895 208v3M895 217v6M895 226v3M895 235v15M897 181v6M897 190v6M897 199v9M897 211v9M897 229v6M897 238v9M899 181v21M899 205v12M899 232v9M899 244v6M901 181v3M901 217v3M901 232v9M903 187v3M903 226v3M903 244v3M905 220v3M905 226v3M907 223v3M907 256v3M907 262v3M909 223v3M909 262v6M911 268v6M913 274v3M915 277v3M917 280v3M919 280v3M921 283v3M925 286v6M927 292v6M929 298v3M931 301v3M937 298v3M939 295v3M941 292v3M943 292v3M945 289v3M947 286v6M949 286v3M951 286v3"/>
<path stroke="#0056ff" stroke-width="1" d="M952.5 289v6"/>
<path stroke="#0056ff" stroke-width="2" d="M459 142v3M459 148v3M459 154v3M459 160v3M459 190v3M459 232v3M461 142v3M461 148v3M461 154v3M461 160v3M461 190v3M461 232v3M463 142v3M463 148v3M463 154v3M463 160v3M463 190v3M463 232v3M465 112v3M465 172v6M465 184v3M467 124v3M467 178v6M467 187v3M467 193v3M469 187v6M471 127v6M471 175v21M473 127v6M473 196v3M475 130v3M475 178v3M475 184v6M477 175v9M477 190v3M479 127v3M481 127v3M481 160v3M481 187v3M483 118v6M483 193v3M485 109v6M487 88v6M487 97v9M487 151v3M487 181v6M489 88v6M489 154v3M489 190v3M489 196v3M491 154v3M493 88v3M495 85v3M495 154v6M497 85v3M497 190v3M499 187v6M501 55v3M501 82v3M501 193v3M503 82v6M503 193v3M507 196v3M509 52v12M509 73v3M509 79v9M509 199v9M511 79v6M511 199v3M511 205v6M513 55v6M513 85v6M513 211v3M515 208v3M517 112v3M517 214v3M517 232v3M519 52v6M519 112v9M519 217v3M519 232v3M523 52v3M523 109v3M523 115v3M523 217v3M525 52v6M525 211v3M527 55v3M527 106v6M527 211v6M529 52v6M529 106v3M529 133v3M529 208v3M531 52v6M531 106v6M531 205v3M533 52v3M533 109v6M533 133v3M533 202v3M535 52v3M535 106v9M535 181v3M535 193v3M535 199v3M537 97v6M537 106v3M537 133v3M537 205v3M539 55v3M539 199v3M541 52v6M541 133v6M541 187v3M541 205v3M543 52v6M543 202v6M545 205v3M547 103v3M547 208v6M549 97v6M549 202v12M551 184v3M551 193v18M553 52v3M555 91v9M555 178v6M555 187v9M557 88v3M557 97v3M557 178v9M557 190v6M559 94v3M559 175v6M561 58v3M561 82v9M561 133v3M561 178v3M561 184v3M561 190v3M565 58v3M565 91v3M565 181v3M567 82v9M567 190v6M569 58v3M569 82v6M569 190v9M571 73v3M571 88v3M571 199v15M573 76v3M573 88v3M575 61v12M575 76v3M575 82v6M575 196v3M577 85v3M577 193v6M577 202v3M577 268v3M579 64v3M579 70v15M579 199v6M579 208v3M581 67v18M581 196v3M581 202v3M583 67v3M583 73v3M583 88v3M583 199v3M583 205v3M585 187v3M585 193v3M585 202v3M587 64v6M587 88v3M587 202v3M589 67v3M589 190v6M591 88v3M593 64v3M593 91v3M593 142v3M593 199v6M595 193v9M597 97v3M597 193v6M597 202v3M599 187v12M599 202v3M601 109v3M601 202v3M603 61v3M603 106v3M603 199v6M605 208v3M607 61v3M607 211v3M609 64v3M609 214v9M611 64v3M611 91v6M611 214v12M613 94v3M613 211v3M613 283v15M615 64v3M615 205v3M615 268v3M615 301v9M617 202v3M617 262v3M619 97v3M619 199v3M619 259v6M621 202v3M621 259v3M623 61v3M623 202v3M623 307v3M625 97v3M627 256v3M629 67v3M629 205v3M629 256v3M629 307v3M631 64v3M631 307v3M633 64v3M633 97v3M633 205v3M633 259v3M635 64v3M635 97v3M637 94v3M637 205v3M637 262v3M639 256v6M641 256v6M643 61v3M643 256v15M643 283v3M643 292v3M643 298v3M645 67v3M645 85v3M645 256v9M645 286v21M647 64v3M647 70v3M647 202v3M649 202v3M651 64v3M651 76v3M651 85v3M651 199v3M653 73v3M653 82v3M653 196v6M655 67v6M655 199v3M657 67v3M657 298v3M657 307v3M659 64v3M659 76v6M659 190v6M659 292v12M661 64v6M661 76v3M661 190v3M661 232v3M661 289v6M661 298v3M663 61v3M663 76v3M663 187v3M663 241v3M663 247v3M663 262v24M665 70v6M665 196v6M665 211v9M667 67v3M667 160v3M667 190v3M667 199v6M667 211v3M667 223v3M669 64v18M669 199v3M671 67v6M673 61v6M673 70v3M673 76v6M673 193v6M673 307v3M675 187v3M675 199v3M677 61v3M677 88v3M679 91v3M681 94v3M681 187v3M683 52v3M683 190v3M685 100v6M687 94v6M691 58v3M691 91v6M693 61v3M693 88v3M695 85v6M695 307v3M697 85v6M699 64v3M699 85v3M701 61v3M701 82v6M703 58v3M705 88v3M707 58v3M707 88v3M709 52v3M711 52v6M711 88v3M713 58v3M713 307v3M715 58v3M717 58v3M717 82v6M719 58v6M721 61v3M721 85v3M721 307v3M723 61v3M723 307v3M727 61v3M727 307v3M729 61v6M731 61v3M731 88v3M733 61v3M733 88v3M733 307v3M735 61v3M735 88v3M735 307v3M739 58v3M739 85v3M741 58v6M741 88v3M741 307v3M743 58v9M743 85v3M745 58v3M745 85v3M747 61v3M747 67v6M747 82v3M747 307v3M749 55v3M749 73v6M749 82v3M751 58v9M751 79v6M753 61v6M753 79v6M755 61v3M755 271v3M755 283v21M757 64v3M757 82v6M757 307v3M759 61v3M759 85v3M759 187v3M759 193v3M759 199v3M761 61v3M761 88v6M761 307v3M763 55v3M763 100v3M763 307v3M769 133v3M771 97v3M771 307v3M773 97v3M773 136v3M775 94v3M775 133v6M777 187v6M779 307v3M781 94v3M783 94v3M785 94v3M787 94v3M787 190v3M787 307v3M789 94v3M791 91v3M791 271v3M791 301v3M793 94v3M793 187v6M795 52v6M795 91v3M797 52v6M797 91v3M799 55v3M799 91v6M801 55v3M801 94v3M801 166v6M801 184v6M803 52v6M803 94v3M803 163v3M803 184v3M805 52v3M805 160v3M805 187v3M805 307v3M807 52v3M807 100v3M807 157v3M809 52v3M809 100v3M809 184v6M811 187v6M813 52v6M813 100v3M815 100v6M815 190v3M817 52v6M817 97v9M817 109v3M817 307v3M819 52v6M819 97v3M819 103v9M819 223v3M821 106v3M821 205v6M823 52v3M823 112v3M823 139v3M823 145v3M823 307v3M825 112v9M825 139v9M827 112v3M827 142v3M829 106v6M829 139v3M831 112v3M831 142v3M831 226v3M833 115v3M833 127v3M833 229v15M833 247v6M833 262v3M833 268v3M833 280v6M833 289v3M833 295v6M835 118v3M835 124v3M835 142v3M835 211v9M835 226v12M835 250v6M835 271v3M835 283v12M837 115v9M837 214v3M837 226v6M837 235v6M837 244v9M837 271v6M837 280v9M837 292v6M839 121v6M839 211v9M839 226v12M839 271v9M839 301v3M841 52v3M841 103v3M841 109v3M841 121v6M841 211v9M841 226v9M841 256v6M841 265v3M841 277v6M841 289v6M841 298v3M841 304v3M843 232v3M843 238v3M843 247v3M843 253v3M843 292v9M843 304v3M845 124v9M847 127v6M851 307v3M863 142v9M865 142v12M879 61v3M881 124v3M883 112v3M883 211v15M885 70v3M885 97v9M885 139v3M885 205v6M887 70v3M887 94v3M887 106v3M887 151v6M887 202v3M887 223v3M889 73v3M889 88v3M889 94v9M889 199v3M889 235v3M891 76v18M891 253v6M893 76v3M893 184v12M893 199v3M893 220v6M893 250v9M895 223v3M895 250v9M897 187v3M897 196v3M897 220v9M897 235v3M897 247v6M899 202v3M899 217v3M899 229v3M899 250v3M901 187v3M901 208v3M901 229v3M901 241v12M903 220v6M903 247v3M903 256v3M905 223v3M905 247v9M905 259v3M907 247v9M907 259v3M907 265v3M909 268v6M911 274v3M913 277v3M919 283v3M921 286v3M923 286v3M925 292v3M927 298v6M933 301v3M935 301v6M939 298v3M939 307v3M941 295v6M941 307v3M943 295v3M945 292v6M949 289v3M951 289v3"/>
<path stroke="#0076ff" stroke-width="1" d="M952.5 295v12"/>
<path stroke="#0076ff" stroke-width="2" d="M459 103v3M459 169v3M459 175v3M459 181v3M459 187v3M459 199v3M461 103v3M461 169v3M461 175v3M461 181v3M461 187v3M461 199v3M463 103v3M463 169v3M463 175v3M463 181v3M463 187v3M463 199v3M465 106v6M465 178v3M467 112v3M467 118v6M467 196v3M469 127v6M469 196v3M471 124v3M471 136v3M471 196v3M473 193v3M475 127v3M477 127v3M477 187v3M479 124v3M479 187v3M481 124v3M481 190v6M483 112v3M483 184v3M483 196v3M485 94v6M485 106v3M485 190v3M487 160v3M487 187v6M491 88v3M491 151v3M491 193v3M495 88v3M495 193v3M497 67v6M497 76v3M497 82v3M497 196v3M499 58v3M499 193v3M501 85v3M503 55v6M503 76v6M503 196v3M505 88v3M507 52v3M507 79v3M509 64v9M509 76v3M509 208v9M511 52v6M511 73v6M511 211v6M513 52v3M513 79v6M513 214v6M513 229v6M515 52v3M515 109v3M515 211v6M515 232v3M517 106v6M521 112v3M521 214v3M523 55v3M523 106v3M525 106v3M525 214v3M527 97v9M527 133v3M527 220v3M529 103v3M529 211v6M531 133v6M531 208v6M533 55v3M533 106v3M533 136v3M533 205v3M535 55v3M535 103v3M535 184v3M535 196v3M537 136v3M539 97v9M539 136v3M539 196v3M543 100v6M543 208v6M545 100v6M545 208v3M547 58v3M547 100v3M547 202v6M549 58v3M549 91v6M551 211v3M553 55v3M553 133v6M553 166v3M557 58v3M557 91v6M559 91v3M559 133v3M559 184v6M561 73v6M561 181v3M561 187v3M561 193v3M563 85v9M563 181v3M563 190v3M565 76v3M565 82v6M567 61v3M567 199v3M567 205v6M569 76v3M569 199v3M569 208v3M571 61v3M571 79v3M571 85v3M573 64v3M573 73v3M573 85v3M573 190v12M573 208v6M575 73v3M575 79v3M575 199v6M577 82v3M577 205v3M577 211v6M579 67v3M579 205v3M579 211v3M581 199v3M581 208v9M583 70v3M583 76v3M583 82v3M583 208v6M585 67v3M585 175v6M585 190v3M587 73v3M587 79v3M587 175v3M587 208v3M589 82v3M589 88v3M591 67v6M591 196v6M593 70v3M593 76v3M593 82v3M593 88v3M593 205v3M595 64v3M595 94v3M597 64v9M597 91v6M597 205v6M599 100v6M599 205v3M601 64v3M601 106v3M603 205v6M605 211v3M609 67v3M609 223v3M611 88v3M611 277v6M611 286v3M613 88v6M613 223v3M613 274v9M613 298v6M615 91v3M615 208v3M615 265v3M617 67v3M617 205v3M617 256v6M623 67v3M623 256v3M625 67v3M625 205v3M625 256v3M625 307v3M627 67v6M627 94v3M627 253v3M629 208v3M629 253v3M631 67v6M631 256v3M633 256v3M635 259v6M639 64v3M639 205v3M639 253v3M641 91v3M641 205v3M641 253v3M641 307v3M643 205v3M643 253v3M643 307v3M645 70v3M645 76v9M645 205v3M645 253v3M645 265v3M645 271v15M645 307v3M647 82v3M647 205v3M647 259v3M647 265v9M647 277v9M649 64v3M649 82v6M649 205v3M651 79v3M651 202v3M653 64v3M653 76v6M655 202v3M657 70v12M657 196v6M657 289v9M657 301v6M659 196v6M659 229v9M659 259v3M659 271v3M659 289v3M659 304v3M661 73v3M661 193v6M661 229v3M661 241v6M661 256v3M661 262v6M661 277v12M663 73v3M663 190v3M663 196v6M663 211v3M665 202v9M665 220v6M665 307v3M667 64v3M667 70v3M667 187v3M667 193v6M667 205v3M667 220v3M669 307v3M671 64v3M671 76v3M675 193v3M677 64v6M677 76v3M677 82v3M679 307v3M681 91v3M683 55v3M683 100v3M683 136v3M685 52v3M685 97v3M685 307v3M687 58v3M687 307v3M689 94v3M689 307v3M691 88v3M693 64v3M695 82v3M697 82v3M699 82v3M701 307v3M703 61v3M703 82v3M705 61v6M705 85v3M707 79v9M707 307v3M711 58v3M711 85v3M713 85v3M715 85v3M717 52v6M717 61v6M719 64v3M719 85v3M719 307v3M721 64v3M723 64v6M723 85v3M725 307v3M727 64v6M727 85v3M729 67v3M729 85v3M731 64v3M731 85v3M733 64v9M735 64v6M737 85v3M739 61v9M739 307v3M741 64v9M741 85v3M743 73v3M743 82v3M743 307v3M745 61v6M747 64v3M747 73v6M749 58v3M749 64v9M749 79v3M749 307v3M751 67v9M751 307v3M753 67v3M753 73v6M755 79v9M755 265v6M755 274v9M757 67v3M757 76v6M759 64v3M759 82v3M759 190v3M759 196v3M761 64v3M761 82v6M763 97v3M765 52v6M765 100v3M765 307v3M767 52v3M767 103v3M775 307v3M779 91v3M781 190v3M781 307v3M783 187v6M785 91v3M785 307v3M789 190v3M791 52v3M791 277v3M791 295v3M791 307v3M793 307v3M795 187v3M797 88v3M799 172v3M799 178v3M801 178v3M805 55v3M805 97v3M807 55v3M807 97v3M807 160v3M807 181v3M807 307v3M809 181v3M811 52v3M811 100v3M813 97v3M813 190v3M813 307v3M815 97v3M815 307v3M817 94v3M817 106v3M817 151v3M817 190v3M819 100v3M819 151v3M819 190v6M819 214v9M819 307v3M821 52v6M821 97v3M821 103v3M821 136v3M821 151v3M821 199v6M823 55v3M823 97v3M823 109v3M823 136v3M825 109v3M827 115v3M827 139v3M827 145v3M827 307v3M829 103v3M829 133v3M829 145v3M831 109v3M831 115v3M831 130v3M831 139v3M831 208v9M831 220v6M833 109v6M833 130v3M833 139v6M833 208v21M833 301v9M835 205v6M835 220v6M835 295v15M837 106v9M837 127v3M837 211v3M837 217v3M837 223v3M837 232v3M837 241v3M837 289v3M839 115v3M839 130v3M839 208v3M839 304v3M841 115v6M841 220v3M841 307v3M843 211v9M843 235v3M843 241v3M843 250v3M843 262v3M843 280v3M843 286v6M843 301v3M845 103v6M845 112v12M845 232v6M845 262v3M845 271v3M845 307v3M847 124v3M847 133v6M847 307v3M849 127v3M853 307v3M859 142v3M863 151v3M865 139v3M865 154v3M867 148v3M879 64v3M879 127v3M881 67v3M881 100v3M881 106v18M881 133v3M883 94v3M883 115v3M883 133v6M883 208v3M885 142v3M885 202v3M885 226v3M887 88v3M887 97v3M887 157v3M887 226v3M889 76v3M889 85v3M889 91v3M889 103v3M889 181v12M889 196v3M889 241v18M891 100v3M891 259v6M893 79v6M893 196v3M893 259v3M895 259v6M897 253v3M899 220v3M899 226v3M899 241v3M899 253v6M899 262v3M901 220v9M901 253v3M901 259v6M903 250v6M903 259v3M903 265v3M907 268v3M911 277v3M915 280v3M925 295v9M927 304v3M929 301v6M931 304v3M933 304v3M937 301v9M939 301v6M941 301v6M943 298v3M947 292v15M949 292v6M949 304v3M951 292v3"/>
<path stroke="#0096ff" stroke-width="1" d="M952.5 307v3"/>
<path stroke="#0096ff" stroke-width="2" d="M465 103v3M465 181v3M465 196v3M467 190v3M467 199v3M469 124v3M469 193v3M471 121v3M471 133v3M473 124v3M473 133v3M475 133v3M475 175v3M475 193v6M479 133v3M479 190v6M483 115v3M483 136v3M483 187v6M485 100v6M485 193v6M487 193v3M491 196v3M493 85v3M493 196v3M495 64v3M495 70v3M497 58v6M497 73v3M497 79v3M497 193v3M499 55v3M499 85v6M501 52v3M501 79v3M503 52v3M503 70v3M505 196v3M505 202v3M507 61v3M507 76v3M507 199v9M509 220v3M511 58v3M511 70v3M511 217v9M511 229v3M513 64v3M513 76v3M513 220v3M513 226v3M515 55v3M515 217v3M517 52v3M517 229v3M519 58v3M519 136v3M519 235v3M521 115v3M523 58v3M523 136v3M523 229v3M525 58v3M525 109v3M527 58v3M527 217v3M527 223v3M529 58v3M529 136v3M529 217v6M533 58v3M533 100v3M537 58v3M537 94v3M537 208v3M539 94v3M541 58v3M541 184v3M541 208v6M545 58v3M545 88v3M545 211v3M547 88v3M547 97v3M547 214v6M549 88v3M551 55v3M551 100v3M553 94v3M553 100v3M553 169v12M553 184v3M553 190v3M555 58v3M555 88v3M555 199v3M557 85v3M557 199v3M559 58v3M561 61v12M561 79v3M563 64v6M563 187v3M565 61v3M565 73v3M565 79v3M565 88v3M565 187v12M567 76v6M567 202v3M569 61v3M569 73v3M569 79v3M569 205v3M569 211v3M571 64v3M571 82v3M571 214v3M573 61v3M573 67v6M573 79v3M573 205v3M577 76v3M577 229v3M577 271v3M579 214v6M581 205v3M581 217v3M583 64v3M583 85v3M583 184v3M583 196v3M583 214v3M585 73v3M585 181v3M585 199v3M587 82v6M589 76v3M589 202v3M591 73v3M591 85v3M593 73v3M593 85v3M593 208v3M595 202v3M597 73v3M599 61v3M599 67v3M599 211v3M601 70v3M601 208v3M603 64v6M605 61v3M605 100v3M605 214v3M607 88v3M607 214v6M609 73v6M609 82v9M609 94v3M609 226v3M611 226v3M611 274v3M611 289v3M611 295v9M613 64v3M613 85v3M613 271v3M613 304v3M613 328v3M613 334v3M613 349v3M613 358v3M613 373v6M613 385v6M615 214v9M615 259v6M615 319v3M615 352v3M615 370v3M615 382v3M615 397v3M617 70v3M617 94v3M617 208v6M617 223v3M617 250v6M617 313v3M617 328v6M617 337v3M617 352v3M617 367v3M617 391v3M617 397v3M617 403v2M619 67v3M619 310v30M619 343v3M621 64v3M621 94v3M621 256v3M621 310v18M621 331v3M623 94v3M623 205v3M623 310v42M623 364v6M623 373v6M623 385v3M623 391v3M623 397v3M625 250v6M625 310v15M625 328v30M627 91v3M627 205v6M627 307v9M629 70v3M629 310v24M629 337v24M629 385v3M631 94v3M631 205v3M631 253v3M631 310v3M631 316v45M631 364v3M631 379v6M633 208v3M633 310v45M633 358v6M633 382v3M633 394v3M635 67v6M635 256v3M635 307v21M635 331v6M637 67v6M637 85v9M637 259v3M639 70v3M639 250v3M639 310v51M639 373v3M639 391v3M639 403v2M641 64v3M641 70v3M641 85v3M641 208v3M641 310v45M641 358v6M641 379v6M641 400v3M643 64v3M643 70v3M643 76v6M643 88v3M643 310v30M643 343v27M643 376v3M645 73v3M645 211v3M645 250v3M645 268v3M645 313v3M645 322v3M645 328v6M645 346v3M645 361v3M645 397v3M647 73v6M647 253v3M647 262v3M647 274v3M647 286v15M647 316v3M649 70v3M649 79v3M649 208v6M649 253v12M649 283v9M651 70v3M651 82v3M651 205v6M651 322v3M651 328v6M651 346v3M653 202v9M655 205v3M655 229v9M655 247v6M655 283v3M655 289v12M655 313v3M655 319v9M655 343v3M657 202v3M657 211v6M657 232v6M657 241v9M657 268v6M657 277v3M657 313v9M659 202v3M659 214v3M659 238v12M659 253v6M659 262v3M659 268v3M659 274v6M659 286v3M659 310v6M659 322v3M659 361v3M659 400v3M661 199v3M661 211v6M661 226v3M661 235v6M661 250v6M661 274v3M663 208v3M663 310v12M663 343v6M663 364v3M663 376v9M663 391v3M665 310v12M665 343v3M667 208v3M667 214v6M667 307v18M667 337v3M667 343v3M667 355v12M667 370v3M667 400v5M669 328v24M669 355v3M669 364v6M669 379v3M669 394v3M669 403v2M671 73v3M671 307v48M671 367v3M671 373v3M671 382v3M673 67v3M673 310v24M673 337v18M673 361v3M673 373v3M673 379v3M673 388v3M675 85v3M675 196v3M675 310v48M675 367v3M675 376v3M675 391v3M675 400v5M677 70v6M677 85v3M677 307v3M677 316v6M677 328v21M677 358v3M677 379v3M677 397v8M679 58v3M679 310v9M679 322v39M679 367v3M679 379v3M681 58v3M681 310v54M683 97v3M683 307v3M683 331v33M685 310v57M685 376v3M687 91v3M687 310v12M687 325v24M687 379v3M687 391v3M689 310v45M689 361v3M689 367v3M689 379v12M689 403v2M691 319v15M691 340v3M693 310v30M693 343v3M693 355v9M693 376v6M695 61v6M695 310v36M695 358v3M695 367v3M697 307v33M697 343v3M697 379v3M697 391v3M699 76v3M699 310v39M699 358v3M699 382v3M699 388v9M701 64v3M701 79v3M701 310v51M701 364v6M701 388v9M703 85v3M703 313v6M703 334v3M703 379v3M705 310v9M707 61v3M707 310v36M707 349v3M707 358v6M709 55v3M709 85v3M709 310v15M709 328v24M709 361v3M711 61v3M711 307v39M711 382v6M711 391v6M713 64v3M713 310v24M713 340v12M715 61v3M715 310v3M715 316v27M715 349v6M715 382v3M715 391v3M715 400v3M717 73v3M717 79v3M717 307v21M717 331v21M717 367v3M717 373v3M717 385v3M717 394v9M719 82v3M719 310v24M719 337v18M719 358v3M719 364v3M719 370v3M719 385v12M719 400v3M721 310v45M721 358v3M721 364v3M721 382v15M723 310v45M723 367v6M723 376v3M723 382v12M723 397v3M723 403v2M725 61v3M725 85v3M725 310v48M725 361v6M725 370v9M725 382v12M725 403v2M727 310v78M727 391v9M727 403v2M729 307v21M729 331v66M731 67v6M731 310v51M731 364v30M733 85v3M733 310v60M733 373v3M733 379v18M735 70v3M735 85v3M735 310v18M735 331v27M735 370v3M735 385v3M735 397v8M737 64v3M737 307v45M737 379v3M739 82v3M739 310v12M739 325v3M739 331v30M739 367v9M739 385v3M739 403v2M741 310v42M741 391v3M741 403v2M743 67v3M743 76v3M743 310v24M743 337v15M743 358v3M743 394v3M745 67v3M745 73v3M745 310v24M745 337v15M745 355v3M745 361v9M745 379v3M745 397v3M747 79v3M747 310v18M747 331v24M747 364v3M749 61v3M749 310v33M749 346v3M751 76v3M751 310v3M751 316v12M751 331v9M751 343v9M751 397v6M753 70v3M753 307v24M753 346v3M753 352v3M753 361v3M753 385v3M753 391v6M753 403v2M755 64v3M755 262v3M755 310v9M755 322v6M757 73v3M757 310v18M757 337v6M757 346v3M757 352v3M757 394v3M759 76v6M759 310v3M759 325v6M759 340v3M761 79v3M761 265v6M761 310v9M761 334v3M761 340v3M763 310v18M765 310v12M765 325v3M765 331v6M765 340v6M767 55v3M767 310v27M767 340v18M767 361v3M769 100v3M769 310v30M769 349v3M769 355v3M769 364v3M769 382v3M769 388v6M769 403v2M771 52v6M771 94v3M771 310v27M771 346v3M771 376v3M771 394v3M773 52v6M773 307v42M773 364v3M773 394v3M775 310v18M775 331v6M775 340v6M777 94v3M777 307v30M777 346v3M777 355v3M777 376v3M779 310v21M779 337v3M779 349v3M779 355v12M781 310v9M781 322v9M781 334v3M781 349v6M781 361v3M781 367v3M781 373v12M781 400v3M783 310v18M785 310v21M785 340v3M785 349v3M785 358v3M785 364v3M785 370v6M785 397v3M787 310v18M787 340v6M787 349v3M787 382v6M787 391v12M789 91v3M789 307v30M789 340v3M789 355v6M789 391v3M789 400v3M791 88v3M791 280v3M791 304v3M791 310v15M791 328v9M791 388v3M793 91v3M793 310v24M793 352v6M793 391v3M795 58v3M795 88v3M795 310v30M795 349v3M795 361v3M795 376v6M795 385v6M797 307v3M797 370v3M797 400v3M799 175v3M799 307v27M799 340v9M799 367v3M799 403v2M801 310v21M801 334v9M801 346v3M801 361v3M803 58v3M803 91v3M803 172v3M803 178v6M803 310v24M803 343v6M803 367v3M803 379v6M803 388v3M805 178v3M805 310v21M805 346v3M805 370v3M805 376v3M805 385v3M807 94v3M807 310v21M807 334v9M809 55v3M809 307v9M809 319v27M809 352v6M809 361v6M809 370v3M809 379v6M809 388v3M809 394v3M811 55v3M811 184v3M811 307v39M811 361v3M811 370v3M811 379v6M813 154v3M813 310v30M813 367v3M815 58v3M815 94v3M815 133v6M815 187v3M815 310v33M815 352v3M815 361v3M815 367v6M815 379v6M815 397v3M817 187v3M817 313v36M817 352v18M817 382v6M819 58v3M819 94v3M819 136v3M819 310v51M819 364v6M819 379v3M819 403v2M821 133v3M821 193v6M821 211v3M821 226v3M821 307v63M821 373v9M823 100v6M823 148v3M823 226v3M823 310v42M823 355v18M825 148v3M825 310v3M825 340v24M825 370v3M825 388v6M825 403v2M827 52v6M827 97v3M827 106v3M827 148v3M827 310v15M827 331v3M827 337v3M827 346v3M827 364v9M827 376v3M827 382v3M829 52v6M829 97v6M829 136v3M829 229v21M829 256v6M829 274v9M829 286v9M829 301v6M829 310v15M829 355v6M829 370v3M829 382v3M829 391v3M829 400v5M831 97v3M831 103v6M831 145v3M831 202v6M831 217v3M831 232v3M831 277v3M831 292v12M831 310v18M833 106v3M833 133v3M833 310v21M835 115v3M835 139v3M835 310v9M835 325v3M837 139v6M837 205v6M837 220v3M837 298v12M837 313v12M839 103v3M839 109v3M839 136v3M839 142v3M839 205v3M839 220v6M839 307v24M841 55v3M841 106v3M841 112v3M841 130v9M841 145v3M841 202v9M841 223v3M841 310v21M843 103v3M843 124v3M843 229v3M843 244v3M843 256v6M843 271v3M843 283v3M843 307v12M843 322v3M845 100v3M845 109v3M845 136v3M845 214v3M845 238v3M845 244v3M845 256v3M845 265v6M845 280v9M845 292v6M845 301v6M845 310v21M847 121v3M847 139v6M847 214v3M847 229v9M847 241v15M847 262v3M847 268v36M847 310v12M847 325v9M849 124v3M849 322v6M851 310v21M859 145v6M861 145v3M863 154v3M865 157v3M867 142v6M867 151v3M881 94v6M881 103v3M881 136v3M883 70v3M883 109v3M883 139v3M883 202v6M883 226v3M885 151v3M885 199v3M887 76v3M887 91v3M887 100v3M887 160v6M887 169v12M887 193v9M889 82v3M891 265v3M893 85v3M893 262v3M897 256v6M899 223v3M899 265v3M901 256v3M901 265v3M903 262v3M903 268v6M905 256v3M905 262v3M909 274v6M913 280v3M915 283v3M917 283v3M921 289v6M923 289v3M923 295v3M925 304v3M931 400v3M933 373v32M935 376v29M937 370v15M937 388v15M939 310v15M939 367v38M941 310v18M941 373v18M941 394v11M945 301v3M947 307v3M949 298v6M949 307v3M951 295v9"/>
<path stroke="#00b6ff" stroke-width="2" d="M459 100v3M459 106v3M459 166v3M459 172v3M459 178v3M459 184v3M459 196v3M459 202v3M461 100v3M461 106v3M461 166v3M461 172v3M461 178v3M461 184v3M461 196v3M461 202v3M463 100v3M463 106v3M463 166v3M463 172v3M463 178v3M463 184v3M463 196v3M463 202v3M465 100v3M465 136v3M465 208v3M465 229v3M467 115v3M467 205v3M469 199v9M471 199v3M473 121v3M473 199v3M475 136v3M477 130v6M477 184v3M477 193v3M479 136v3M481 121v3M481 196v3M485 88v3M487 85v3M487 196v3M489 82v6M489 199v9M491 190v3M493 55v3M493 76v3M495 52v3M495 67v3M495 73v3M495 79v6M497 52v6M497 64v3M497 199v9M499 61v3M499 73v3M499 82v3M501 58v6M501 73v3M501 196v3M503 64v3M503 73v3M503 199v6M503 214v3M505 67v3M507 55v6M507 64v3M507 82v3M509 217v3M509 223v3M511 67v3M511 226v3M513 223v3M513 235v3M515 100v3M517 55v3M519 109v3M519 226v6M521 55v3M521 133v3M523 220v3M523 232v3M523 391v3M523 400v5M527 94v3M529 94v6M531 100v6M531 214v3M535 136v3M535 202v6M537 91v3M539 58v3M543 88v3M543 97v3M543 214v3M545 91v3M547 91v3M549 82v6M549 166v3M549 181v3M549 220v3M551 79v3M551 85v3M553 97v3M553 181v3M553 187v3M553 199v3M555 214v3M557 61v3M557 214v3M559 82v3M559 190v12M561 199v3M563 61v3M563 70v3M563 193v3M563 202v3M565 208v3M567 67v9M567 196v3M567 211v3M571 67v3M573 82v3M575 205v3M575 211v3M575 229v3M577 79v3M577 199v3M577 208v3M577 217v3M577 259v3M577 307v3M579 265v3M581 220v3M583 79v3M585 70v3M585 82v6M589 70v6M589 79v3M589 85v3M589 208v6M591 79v6M591 202v3M593 79v3M595 73v3M595 85v3M595 91v3M595 163v3M597 76v3M597 82v3M597 211v3M599 97v3M599 208v3M601 211v3M603 211v6M605 94v6M605 217v3M607 82v3M607 307v3M609 79v3M609 91v3M609 280v9M609 310v3M609 367v3M611 79v3M611 85v3M611 271v3M611 283v3M611 292v3M611 304v3M613 214v9M613 226v3M613 253v3M613 265v3M613 307v21M613 331v3M613 337v12M613 352v6M613 361v12M613 379v6M613 391v14M615 70v6M615 88v3M615 211v3M615 223v9M615 250v3M615 310v9M615 322v30M615 355v15M615 373v9M615 385v12M615 400v5M617 91v3M617 214v9M617 226v6M617 247v3M617 310v3M617 316v12M617 334v3M617 340v12M617 355v12M617 370v21M617 394v3M617 400v3M619 94v3M619 247v3M619 256v3M619 340v3M619 352v9M619 364v6M621 208v3M621 250v6M621 328v3M621 337v3M621 352v3M623 91v3M623 208v3M623 250v6M623 352v12M623 370v3M623 379v6M623 388v3M623 394v3M625 94v3M625 208v6M625 247v3M625 325v3M627 250v3M627 316v3M629 94v3M629 211v3M629 238v3M629 250v3M629 334v3M629 361v6M629 373v9M631 250v3M631 313v3M631 361v3M631 367v12M631 385v15M633 67v3M633 91v3M633 244v3M633 250v6M633 355v3M633 364v18M633 385v9M635 205v3M635 250v3M635 328v3M637 208v6M637 250v3M637 256v3M639 91v3M639 211v3M639 307v3M639 361v12M639 376v15M639 394v9M641 355v3M641 364v15M641 385v15M641 403v2M643 73v3M643 85v3M643 208v3M643 250v3M643 340v3M643 370v6M643 379v9M643 394v11M645 208v3M645 310v3M645 316v6M645 325v3M645 334v12M645 349v12M645 364v18M645 394v3M645 400v5M647 79v3M647 85v3M647 208v3M647 250v3M647 256v3M647 301v3M647 307v3M647 319v6M649 76v3M649 250v3M649 265v3M649 271v3M649 280v3M649 310v15M649 370v6M651 211v3M651 310v12M651 325v3M651 334v12M651 349v9M653 67v3M653 214v3M653 238v3M653 259v6M653 310v3M653 316v6M653 328v3M655 208v12M655 223v6M655 238v9M655 253v18M655 274v9M655 310v3M655 316v3M655 328v15M655 346v12M657 205v6M657 217v6M657 238v3M657 250v6M657 259v3M657 274v3M657 280v3M657 286v3M657 310v3M657 322v48M657 373v3M659 208v6M659 217v3M659 250v3M659 265v3M659 283v3M659 316v6M659 325v3M659 385v3M659 397v3M659 403v2M661 247v3M661 259v3M661 268v6M661 310v3M661 322v6M661 403v2M663 64v3M663 70v3M663 193v3M663 202v6M663 214v15M663 322v21M663 349v15M663 367v9M663 385v6M663 394v6M665 322v21M667 325v12M667 340v3M667 346v9M667 367v3M667 373v3M667 382v6M669 316v3M669 325v3M669 352v3M669 358v6M669 370v9M669 382v12M669 397v6M671 79v3M671 355v12M671 370v3M671 376v6M671 385v3M671 403v2M673 334v3M673 355v6M673 364v9M673 376v3M673 382v6M673 391v9M675 64v6M675 73v3M675 358v9M675 394v6M677 349v3M677 364v6M677 373v6M677 382v15M679 61v3M679 319v3M679 361v6M679 370v9M679 382v6M679 397v8M681 88v3M681 364v15M683 91v6M683 328v3M685 367v9M685 379v26M687 88v3M687 322v3M687 349v30M687 382v9M687 394v11M689 355v6M689 364v3M689 370v9M689 391v12M691 310v9M691 334v6M691 343v3M693 67v3M693 76v3M693 82v3M693 307v3M693 340v3M693 346v9M693 364v12M693 382v6M695 76v6M695 346v12M695 361v6M695 370v12M695 391v9M697 79v3M697 340v3M697 376v3M697 382v3M697 394v11M699 70v3M699 307v3M699 349v9M699 361v21M699 385v3M699 397v6M701 67v3M701 76v3M701 361v3M701 370v18M701 397v8M703 64v3M703 331v3M703 340v3M703 346v3M703 364v3M703 373v6M705 67v3M705 307v3M705 319v3M707 64v3M707 346v3M707 352v6M709 325v3M709 352v9M709 364v27M711 64v3M711 79v6M711 346v9M711 379v3M711 388v3M711 397v8M713 61v3M713 79v6M713 370v6M715 313v3M715 343v6M715 355v3M715 376v3M715 385v6M715 394v6M715 403v2M717 67v3M717 76v3M717 328v3M717 352v15M717 370v3M717 376v9M717 388v6M717 403v2M719 67v6M719 334v3M719 355v3M719 361v3M719 367v3M719 373v12M719 397v3M719 403v2M721 355v3M721 361v3M721 367v15M721 397v8M723 355v12M723 373v3M723 379v3M723 394v3M723 400v3M725 70v3M725 358v3M725 367v3M725 379v3M725 394v9M727 82v3M727 388v3M727 400v3M729 328v3M731 361v3M731 394v11M733 370v3M733 376v3M733 397v8M735 328v3M735 358v12M735 373v12M735 388v9M737 61v3M737 82v3M737 352v27M737 382v23M739 70v6M739 322v3M739 328v3M739 361v6M739 376v9M739 388v15M741 73v3M741 82v3M741 352v12M741 370v3M741 376v15M741 394v9M743 79v3M743 334v3M743 352v6M743 361v3M743 376v3M743 385v9M743 397v6M745 82v3M745 334v3M745 352v3M745 358v3M745 370v9M745 382v15M745 400v5M747 355v9M747 367v12M749 349v3M751 313v3M751 328v3M751 340v3M751 352v6M751 364v3M751 370v9M751 382v15M751 403v2M753 331v15M753 349v3M753 355v6M753 364v21M753 388v3M753 397v6M755 70v3M755 307v3M755 319v3M755 328v24M757 70v3M757 328v9M757 343v3M757 349v3M757 355v3M757 370v24M757 397v8M759 70v6M759 331v9M761 76v3M761 193v3M761 199v3M761 253v6M761 262v3M761 271v6M761 328v6M761 337v3M761 343v3M763 58v3M763 328v27M763 379v3M763 388v9M765 322v3M765 328v3M765 337v3M765 346v3M765 403v2M767 337v3M767 358v3M767 364v36M769 340v9M769 352v3M769 358v6M769 367v15M769 385v3M769 394v9M771 340v6M771 349v6M771 358v18M771 382v12M771 397v3M773 349v15M773 367v18M773 391v3M773 397v8M775 328v3M775 337v3M775 361v3M775 403v2M777 337v9M777 349v6M777 358v18M777 379v18M779 331v6M779 340v9M779 352v3M779 367v18M781 319v3M781 331v3M781 337v12M781 355v6M781 364v3M781 370v3M781 385v3M781 391v3M781 403v2M783 328v12M785 88v3M785 331v9M785 343v6M785 352v6M785 361v3M785 367v3M785 376v21M787 88v6M787 328v12M787 346v3M787 352v12M787 370v12M787 388v3M787 403v2M789 52v6M789 337v3M789 343v12M789 361v30M789 394v6M789 403v2M791 55v3M791 274v3M791 286v6M791 298v3M791 325v3M791 337v3M793 334v18M793 358v33M793 394v11M795 307v3M795 340v9M795 352v3M795 364v6M795 373v3M795 382v3M795 391v14M797 58v3M797 367v3M797 373v12M797 391v3M799 58v3M799 334v6M799 349v9M799 361v6M799 370v33M801 172v3M801 331v3M801 343v3M801 349v12M801 364v15M801 391v3M801 397v8M803 88v3M803 169v3M803 334v9M803 349v18M803 370v3M803 376v3M803 385v3M803 391v9M805 58v3M805 166v3M805 181v3M805 331v15M805 349v21M805 373v3M805 379v6M805 388v9M805 403v2M807 58v3M807 331v3M807 343v3M809 94v3M809 157v3M809 316v3M809 346v6M809 358v3M809 367v3M809 373v6M809 385v3M809 391v3M809 397v8M811 154v3M811 181v3M811 346v15M811 364v6M811 373v6M811 388v3M813 184v3M813 361v6M815 343v9M815 355v6M815 364v3M815 373v6M815 385v12M815 400v5M817 58v3M817 310v3M817 349v3M817 370v6M817 379v3M817 388v17M819 133v3M819 187v3M819 361v3M819 370v9M819 382v21M821 58v3M821 94v3M821 100v3M821 370v3M821 382v15M823 106v3M823 133v3M823 151v3M823 199v3M823 352v3M823 373v12M825 136v3M825 226v3M825 364v6M825 373v15M825 394v9M827 94v3M827 109v3M827 229v3M827 238v3M827 247v6M827 259v6M827 268v3M827 289v6M827 298v3M827 304v3M827 325v6M827 334v3M827 340v6M827 349v15M827 373v3M827 385v9M827 397v8M829 94v3M829 148v3M829 250v6M829 262v3M829 268v6M829 283v3M829 295v6M829 325v3M829 352v3M829 361v9M829 373v9M829 385v3M829 394v6M831 100v3M831 133v6M831 199v3M831 229v3M831 247v6M831 265v12M831 283v3M831 289v3M831 304v3M831 328v30M831 361v3M831 370v3M833 52v3M833 97v3M833 103v3M833 145v3M833 205v3M833 331v3M833 379v3M835 103v3M835 130v6M835 145v3M835 202v3M835 319v6M835 328v6M837 52v6M837 145v3M837 202v3M837 310v3M837 325v6M839 52v3M839 106v3M839 202v3M841 100v3M841 139v6M841 148v3M841 199v3M841 331v3M843 52v3M843 106v3M843 112v6M843 121v3M843 127v3M843 208v3M843 265v6M843 274v6M843 319v3M843 325v9M845 55v3M845 139v12M845 208v6M845 217v3M845 229v3M845 247v3M845 253v3M845 259v3M845 274v3M845 298v3M845 331v6M847 103v3M847 109v3M847 118v3M847 145v3M847 211v3M847 217v3M847 238v3M847 256v6M847 265v3M847 304v3M847 322v3M847 334v3M849 103v3M849 118v3M849 130v3M849 277v9M849 316v6M849 328v9M851 136v15M851 331v6M853 142v3M853 310v3M853 316v3M855 307v21M863 139v3M863 157v3M865 136v3M867 139v3M871 52v3M873 52v6M879 124v3M879 130v3M881 214v3M881 220v3M883 97v3M885 91v6M885 145v3M885 229v3M887 73v3M887 79v6M887 103v3M887 181v3M887 190v3M887 250v6M889 193v3M889 238v3M889 259v3M891 268v3M893 265v3M895 265v6M897 262v3M899 259v3M899 268v3M901 268v3M905 268v3M907 271v3M907 277v3M911 280v3M919 286v3M921 295v3M921 394v3M925 307v3M927 391v12M929 403v2M931 376v6M931 388v12M931 403v2M933 370v3M935 313v12M935 328v3M935 367v9M937 310v12M937 325v3M937 367v3M937 385v3M937 403v2M939 325v9M939 364v3M941 328v6M941 364v9M941 391v3M943 301v9M943 313v3M943 319v12M943 394v3M943 400v3M945 298v3M945 367v3M945 376v3M945 397v3"/>
<path stroke="#00d6ff" stroke-width="1" d="M952.5 310v3M952.5 376v29"/>
<path stroke="#00d6ff" stroke-width="2" d="M459 79v3M459 85v3M459 91v3M459 205v3M459 211v3M459 217v3M459 223v3M459 241v3M459 247v3M459 271v3M461 79v3M461 85v3M461 91v3M461 205v3M461 211v3M461 217v3M461 223v3M461 241v3M461 247v3M461 271v3M463 79v3M463 85v3M463 91v3M463 205v3M463 211v3M463 217v3M463 223v3M463 241v3M463 247v3M463 271v3M465 193v3M465 202v3M467 106v6M467 133v6M467 202v3M467 223v3M467 232v6M469 121v3M469 208v3M469 214v9M471 205v15M471 223v3M473 118v3M473 136v3M473 202v3M475 124v3M475 199v3M479 121v3M481 112v6M481 199v3M485 91v3M487 205v3M491 82v6M491 199v6M493 58v3M493 64v3M493 70v6M493 193v3M493 199v9M501 70v3M501 76v3M501 199v3M503 205v6M507 220v3M509 226v3M511 61v3M511 232v6M513 61v3M513 67v9M515 94v6M515 103v6M515 235v3M517 61v3M517 94v3M517 103v3M517 235v3M519 391v3M521 52v3M521 106v3M521 217v3M523 355v3M523 361v21M523 385v6M523 394v3M525 217v3M527 136v3M527 349v36M531 58v3M531 97v3M531 217v3M533 103v3M533 211v3M535 208v3M539 91v3M541 103v3M541 190v3M541 214v3M543 58v3M543 85v3M543 217v3M545 94v3M547 82v6M547 94v3M547 220v3M549 61v3M551 58v3M553 193v3M555 76v3M555 196v3M555 202v3M555 211v3M557 64v6M559 70v3M559 88v3M561 157v3M563 76v3M563 184v3M565 70v3M567 214v3M569 70v3M569 202v3M571 70v3M571 217v3M575 220v3M575 226v3M577 220v3M577 226v3M577 265v3M577 274v3M579 220v6M579 262v3M579 271v3M581 223v3M583 193v3M583 217v3M585 214v3M587 70v3M587 76v3M587 193v3M589 205v3M591 211v3M593 211v3M595 76v3M595 88v3M595 205v9M597 79v3M597 85v3M599 70v3M601 214v3M603 100v6M605 220v3M607 64v3M607 223v3M607 328v18M609 70v3M609 229v3M609 277v3M609 289v9M609 307v3M611 67v3M611 76v3M611 268v3M613 73v12M613 250v3M613 256v9M613 268v3M615 76v3M615 82v6M615 232v3M615 247v3M615 256v3M617 73v6M617 232v3M619 202v3M619 250v3M619 349v3M619 361v3M621 205v3M621 217v3M621 340v6M621 349v3M623 70v3M623 226v9M625 70v6M625 214v3M625 223v24M627 211v3M627 244v3M629 73v3M629 91v3M629 214v6M629 223v15M629 241v9M629 382v3M631 91v3M631 223v3M631 229v3M631 241v9M633 211v3M633 220v3M633 238v6M633 397v3M635 76v3M635 208v6M635 343v3M637 73v3M637 220v3M637 226v6M637 247v3M639 73v3M639 88v3M639 208v3M639 217v3M639 226v6M641 88v3M641 211v9M641 223v6M641 250v3M643 211v3M643 217v15M645 214v3M645 223v3M645 247v3M645 382v3M645 391v3M647 211v3M647 220v3M647 247v3M647 310v6M649 67v3M649 214v6M649 223v6M649 232v3M649 241v9M649 268v3M649 274v3M649 295v6M651 73v3M651 214v3M651 220v6M651 247v3M651 253v3M651 262v3M651 268v3M651 304v3M653 70v3M653 211v3M653 217v6M653 229v3M653 235v3M653 244v3M653 271v3M653 301v6M653 331v3M655 220v3M655 271v3M655 301v6M657 223v9M657 262v3M657 283v3M657 370v3M659 67v3M659 205v3M659 220v3M659 226v3M659 280v3M659 364v3M659 388v3M659 394v3M661 70v3M661 208v3M661 307v3M661 313v3M661 319v3M661 328v3M661 388v3M663 67v3M665 346v3M667 388v3M669 313v3M669 322v3M671 388v3M673 400v3M675 379v3M675 385v6M677 79v3M677 313v3M677 322v3M677 352v3M677 361v3M677 370v3M679 88v3M679 394v3M681 379v3M683 58v3M683 400v3M685 55v3M691 64v3M691 346v3M691 355v3M693 79v3M695 382v3M695 400v5M697 61v3M697 76v3M697 349v3M697 385v3M699 67v3M699 73v3M699 79v3M699 403v2M701 73v3M703 67v3M703 337v3M703 349v3M703 367v3M703 382v6M705 79v3M705 334v3M705 343v3M707 76v3M707 376v3M707 400v5M709 88v3M709 307v3M711 76v3M711 358v3M713 67v3M713 334v6M713 352v3M713 358v3M713 367v3M713 376v6M713 385v3M715 67v3M715 82v3M715 379v3M719 73v6M723 70v3M729 403v2M731 82v3M731 307v3M733 73v3M733 82v3M735 73v3M735 82v3M739 76v3M741 364v6M741 373v3M743 382v3M745 70v3M747 328v3M747 379v6M749 343v3M751 358v3M751 367v3M751 379v3M755 67v3M755 73v6M759 67v3M759 307v3M759 316v3M759 343v3M761 70v6M761 196v3M761 259v3M761 325v3M763 91v3M763 355v3M763 385v3M765 58v3M765 352v3M767 307v3M769 55v3M771 58v3M771 337v3M771 355v3M771 379v3M773 94v3M773 385v6M775 400v3M779 385v3M781 388v3M785 400v3M787 367v3M791 283v3M791 292v3M791 340v3M791 367v3M791 391v3M791 397v3M793 52v3M793 88v3M795 85v3M795 370v3M797 85v3M797 349v3M797 388v3M797 394v6M799 85v3M799 358v3M801 58v3M801 85v3M801 91v3M801 388v3M801 394v3M803 307v3M803 373v3M803 400v5M807 91v3M807 178v3M809 178v3M811 97v3M811 157v3M811 397v3M813 187v3M813 340v3M813 394v3M815 154v3M815 184v3M817 376v3M821 190v3M821 214v3M823 58v3M823 193v6M823 385v3M825 55v3M825 100v3M825 106v3M825 313v15M827 100v3M827 235v3M827 253v3M827 265v3M827 271v6M827 280v9M827 295v3M827 301v3M827 379v3M827 394v3M829 58v3M829 388v3M831 52v3M831 94v3M831 244v3M831 253v12M831 286v3M831 358v3M831 373v3M831 385v3M831 403v2M833 100v3M833 136v3M833 334v3M833 376v3M833 391v9M835 52v3M835 199v3M835 334v6M837 58v3M837 97v9M837 130v3M839 55v3M839 112v3M839 118v3M839 133v3M839 139v3M839 199v3M839 334v3M841 151v3M841 334v3M843 55v3M843 109v3M843 151v3M845 52v3M845 97v3M845 133v3M845 223v3M845 250v3M845 289v3M845 337v3M847 52v3M847 97v6M847 106v3M847 115v3M847 148v6M847 226v3M847 337v3M849 55v3M849 121v3M849 136v3M849 274v3M849 292v3M849 310v6M849 337v3M851 52v3M851 124v3M851 130v6M851 151v3M851 337v3M853 313v3M853 319v18M855 142v3M857 316v9M857 328v3M859 151v3M859 307v3M861 142v3M861 325v3M863 136v3M865 160v3M867 136v3M871 55v3M879 67v3M879 115v3M879 121v3M879 133v3M881 91v3M881 208v6M883 91v3M883 106v3M883 142v3M883 196v6M885 73v3M885 85v6M885 148v3M885 196v3M887 85v3M887 166v3M887 184v6M887 244v3M887 256v3M889 79v3M889 262v9M893 268v3M895 271v3M897 268v3M899 271v3M903 274v3M905 265v3M909 280v3M913 283v3M917 286v3M921 397v3M923 298v3M923 307v3M923 394v11M925 313v3M927 307v3M927 313v9M927 388v3M927 403v2M929 400v3M931 373v3M931 382v6M933 310v6M933 322v6M933 367v3M935 307v6M935 325v3M935 331v6M935 340v3M935 361v3M937 328v12M937 364v3M939 334v6M939 361v3M941 334v9M943 310v3M943 316v3M943 331v3M943 337v3M943 370v3M943 382v12M943 403v2M945 328v3M945 361v6M945 373v3M945 385v3M945 391v3M947 310v27M947 340v3M947 376v6M947 388v9M947 400v5M949 310v3M949 319v3M949 334v3M949 376v27M951 304v3M951 313v15M951 379v6M951 388v6M951 403v2"/>
<path stroke="#00f6ff" stroke-width="1" d="M952.5 334v3M952.5 340v3M952.5 373v3"/>
<path stroke="#00f6ff" stroke-width="2" d="M465 133v3M465 187v6M465 214v3M465 235v3M467 103v3M467 208v6M467 226v6M467 238v3M467 244v3M469 118v3M469 211v3M471 118v3M471 202v3M471 220v3M473 205v15M475 190v3M477 121v6M477 196v6M481 133v3M483 199v3M485 133v6M485 199v12M487 82v3M487 202v3M487 208v3M489 55v3M489 79v3M489 208v3M491 205v3M493 67v3M493 208v3M495 55v3M495 196v3M495 202v3M497 208v3M499 64v3M499 79v3M499 196v9M499 211v3M501 67v3M501 202v3M505 52v3M505 76v3M505 199v3M505 208v6M507 67v3M507 85v3M507 223v3M513 238v3M515 229v3M517 223v6M519 238v3M519 394v11M521 229v3M523 61v3M523 100v3M523 223v6M523 346v9M523 358v3M523 382v3M523 397v3M525 220v3M525 232v3M525 349v3M525 373v3M525 400v5M527 61v3M527 226v3M527 346v3M527 385v6M529 223v3M535 91v3M537 211v3M539 88v3M539 202v6M545 157v3M545 217v3M547 223v3M549 223v3M551 82v3M553 79v3M553 88v6M555 79v3M557 70v3M557 82v3M557 220v3M559 61v3M559 79v3M559 202v3M563 79v3M563 196v3M565 64v3M569 67v3M571 76v3M571 220v3M571 226v6M575 223v3M577 61v3M577 223v3M577 262v3M577 310v12M579 229v3M579 268v3M579 310v3M581 226v3M585 205v3M585 217v3M591 205v3M595 82v3M595 157v3M595 166v3M597 88v3M601 73v3M601 100v3M603 73v6M607 67v3M607 85v3M607 220v3M609 232v3M609 298v9M609 328v9M611 229v3M611 265v3M613 67v3M613 232v3M613 244v6M615 79v3M615 235v3M615 241v6M615 253v3M619 91v3M619 214v3M619 223v3M619 253v3M619 307v3M619 370v3M621 91v3M621 211v3M621 220v6M623 64v3M623 235v3M623 244v6M625 217v6M627 73v3M627 88v3M627 214v9M627 229v12M627 247v3M627 319v3M627 346v3M627 358v3M629 220v3M629 391v3M631 73v3M631 208v3M631 214v3M631 226v3M631 235v6M633 94v3M633 217v3M633 223v3M633 229v6M633 247v3M635 73v3M635 79v3M635 91v6M635 223v3M635 235v3M635 244v3M635 253v3M635 337v3M637 217v3M637 223v3M637 235v6M637 253v3M637 307v3M639 67v3M639 82v6M639 214v3M639 220v6M639 232v3M639 247v3M641 67v3M641 220v3M641 229v3M643 67v3M643 82v3M643 388v6M645 217v6M645 226v6M645 385v6M647 223v6M647 232v3M647 244v3M647 304v3M647 328v6M647 340v3M649 229v3M649 235v3M649 349v3M651 217v3M651 226v6M651 241v3M651 250v3M651 259v3M651 265v3M651 271v6M651 301v3M651 307v3M653 241v3M653 265v3M653 286v3M653 292v3M653 298v3M653 322v6M655 286v3M657 256v3M657 265v3M659 70v3M659 307v3M661 217v6M661 316v3M661 340v6M661 382v6M661 400v3M663 307v3M663 400v3M665 379v6M665 403v2M667 376v6M669 310v3M671 391v3M673 403v2M675 61v3M675 70v3M675 82v3M675 307v3M675 370v3M675 382v3M677 310v3M677 325v3M677 355v3M681 61v3M681 85v3M687 85v3M689 82v3M691 85v3M691 349v3M693 85v3M695 73v3M697 64v3M697 346v3M697 352v3M697 370v3M701 70v3M703 70v3M703 79v3M703 310v3M703 319v3M703 343v3M703 352v3M703 370v3M705 70v3M705 82v3M705 322v3M705 331v3M705 346v9M707 67v3M707 373v3M707 379v3M709 397v8M711 355v3M711 364v3M711 370v9M713 70v3M713 364v3M713 382v3M713 400v5M717 70v3M719 79v3M721 67v3M721 82v3M723 82v3M725 64v6M725 73v3M725 82v3M727 70v6M729 70v6M729 82v3M735 76v3M737 67v6M739 79v3M741 76v6M743 403v2M745 76v6M749 367v3M751 361v3M761 250v3M761 319v3M761 391v3M763 85v3M763 397v3M765 61v3M765 379v6M767 58v3M767 100v3M769 307v3M771 91v3M773 58v3M775 346v3M775 358v3M775 394v3M777 52v3M777 91v3M777 397v3M777 403v2M779 88v3M779 394v6M779 403v2M781 88v6M785 403v2M787 55v3M787 364v3M791 376v6M791 385v3M791 400v3M797 355v3M797 364v3M797 385v3M799 88v3M801 88v3M801 175v3M801 379v3M803 85v3M803 175v3M805 91v3M805 163v3M805 169v3M805 184v3M805 397v3M807 361v3M807 376v3M807 385v3M811 58v3M811 385v3M811 391v3M811 400v3M813 94v3M813 355v6M813 370v3M817 61v3M817 91v3M817 133v3M817 184v3M821 91v3M823 190v3M823 391v3M825 52v3M825 97v3M825 151v3M825 190v3M825 202v9M825 337v3M827 58v3M827 103v3M827 133v3M827 232v3M827 241v3M827 256v3M829 193v3M829 265v3M829 331v3M829 349v3M831 91v3M831 196v3M831 280v3M831 367v3M831 388v3M831 394v6M833 55v3M833 199v6M833 340v3M833 385v6M833 400v3M835 94v3M835 112v3M835 136v3M835 340v6M837 148v3M837 340v3M839 100v3M839 331v3M841 58v3M841 97v3M841 337v6M843 118v3M843 220v9M843 337v3M845 205v3M845 220v3M845 277v3M847 55v3M847 112v3M847 208v3M847 220v3M847 340v3M849 100v3M849 133v3M849 151v3M849 244v3M849 253v3M849 262v6M849 271v3M849 289v3M849 295v3M851 97v3M851 106v9M851 118v3M851 127v3M851 232v3M851 262v6M851 274v9M851 292v15M853 136v6M853 148v6M853 337v3M855 328v3M855 334v3M857 310v6M857 325v3M859 310v24M861 148v3M861 313v3M861 328v3M863 313v3M863 319v3M863 325v3M865 133v3M867 157v3M873 58v3M879 109v6M879 118v3M879 136v3M881 70v3M881 139v6M881 205v3M881 217v3M883 73v3M883 88v3M883 148v3M883 277v3M885 169v3M885 193v3M885 232v6M887 229v3M889 271v3M893 271v3M901 271v3M903 277v3M905 271v3M919 289v3M919 307v3M919 313v3M921 298v6M921 307v3M921 319v3M921 391v3M921 400v3M923 292v3M923 301v6M923 313v9M923 391v3M925 310v3M925 319v6M925 400v3M927 325v3M927 385v3M929 313v3M929 382v3M929 391v3M931 367v6M933 307v3M933 316v3M933 328v3M933 364v3M935 337v3M935 343v3M935 364v3M937 322v3M937 340v3M939 340v3M939 358v3M941 343v3M941 355v6M943 397v3M945 310v6M945 325v3M945 358v3M945 370v3M945 379v6M945 403v2M947 337v3M947 382v3M947 397v3M949 328v6M949 337v3M949 370v6M949 403v2M951 307v6M951 331v3M951 376v3M951 385v3"/>
<path stroke="#00fff4" stroke-width="1" d="M952.5 370v3"/>
<path stroke="#00fff4" stroke-width="2" d="M459 76v3M459 82v3M459 88v3M459 208v3M459 214v3M459 220v3M459 226v3M459 238v3M459 244v3M459 250v3M459 268v3M459 274v3M461 76v3M461 82v3M461 88v3M461 208v3M461 214v3M461 220v3M461 226v3M461 238v3M461 244v3M461 250v3M461 268v3M461 274v3M463 76v3M463 82v3M463 88v3M463 208v3M463 214v3M463 220v3M463 226v3M463 238v3M463 244v3M463 250v3M463 268v3M463 274v3M465 205v3M465 211v3M465 223v3M465 238v3M465 265v3M467 100v3M467 214v3M467 220v3M467 247v6M469 103v3M469 115v3M469 223v9M469 235v3M473 115v3M473 220v6M475 115v3M475 121v3M475 202v3M475 208v3M479 196v9M481 118v3M481 136v3M483 100v3M483 205v6M487 55v3M487 199v3M489 52v3M489 76v3M489 211v3M493 52v3M493 61v3M493 79v6M495 61v3M495 199v3M497 211v3M499 52v3M501 64v3M503 211v3M503 217v3M505 82v3M505 214v6M507 73v3M507 208v3M511 64v3M513 241v3M515 61v3M515 76v6M515 220v9M517 100v3M517 217v6M517 238v3M519 61v3M521 226v3M521 238v3M521 310v3M521 394v3M523 103v3M523 133v3M523 235v3M523 334v9M525 133v3M525 226v3M525 355v3M525 361v3M525 376v6M527 67v3M527 403v2M529 91v3M529 358v3M529 379v3M531 220v6M533 61v3M533 94v3M537 88v3M541 178v3M543 91v3M545 61v3M545 76v6M545 223v3M547 76v3M549 64v3M549 73v9M549 199v3M551 73v3M551 97v3M551 214v3M553 211v3M555 73v3M555 208v3M557 76v3M559 67v3M563 82v3M563 199v3M563 208v3M565 211v3M565 217v3M567 64v3M567 217v3M569 217v6M571 223v3M571 232v3M573 202v3M573 214v3M573 223v3M575 214v6M575 307v6M575 319v3M577 277v3M577 322v3M579 274v3M579 307v3M579 313v3M579 319v3M583 220v3M585 79v3M587 205v3M589 214v3M593 214v3M597 214v6M599 85v12M599 214v3M601 67v3M601 97v3M601 103v3M601 184v3M601 217v3M603 70v3M603 97v3M603 217v3M605 91v3M605 223v3M607 73v3M607 91v6M607 310v3M607 316v6M607 349v3M609 235v6M609 247v3M609 253v9M609 265v6M609 274v3M609 325v3M609 361v6M611 70v3M611 241v3M611 256v6M611 307v3M613 229v3M613 235v3M615 67v3M615 238v3M617 85v6M617 235v3M617 244v3M619 73v3M619 208v6M619 226v3M619 232v3M619 244v3M619 346v3M619 373v6M621 88v3M621 214v3M621 307v3M621 334v3M623 223v3M625 91v3M625 358v3M627 76v3M627 241v3M629 367v6M629 388v3M631 88v3M631 220v3M631 232v3M633 235v3M635 85v3M635 238v3M635 247v3M635 346v3M635 400v5M637 214v3M637 232v3M637 241v6M639 76v3M639 238v3M641 76v3M641 247v3M643 232v3M645 244v3M647 217v3M647 235v3M647 241v3M647 325v3M647 337v3M647 343v3M649 73v3M649 238v3M649 292v3M649 325v12M649 340v6M649 367v3M651 67v3M651 277v3M653 223v6M653 232v3M653 253v6M653 283v3M655 307v3M659 223v3M659 328v3M659 367v3M659 382v3M661 202v6M661 376v6M661 391v3M661 397v3M663 403v2M665 349v6M665 376v3M665 385v3M667 397v3M669 319v3M671 397v6M675 373v3M679 391v3M683 310v3M683 364v3M685 94v3M689 85v9M691 61v3M691 307v3M691 352v3M691 358v3M691 364v3M693 73v3M693 394v3M695 67v6M695 385v6M697 373v3M697 388v3M703 307v3M703 325v6M703 358v6M703 388v12M705 337v6M707 73v3M707 364v3M709 58v3M709 391v6M713 73v3M713 355v3M713 361v3M713 397v3M715 64v3M715 76v3M715 361v3M715 373v3M721 79v3M723 73v3M729 397v3M731 73v6M733 76v3M737 73v3M743 373v3M747 385v3M747 391v6M749 352v3M749 358v3M755 364v3M759 313v3M759 322v3M761 67v3M763 64v3M763 73v12M763 88v3M763 94v3M763 376v3M763 400v5M765 349v3M765 376v3M767 400v3M771 88v3M771 403v2M775 367v3M775 379v3M775 397v3M777 55v3M785 55v3M787 52v3M791 58v3M791 343v6M791 364v3M791 370v6M791 394v3M791 403v2M795 61v3M795 355v3M797 61v3M797 82v3M797 358v3M799 82v3M801 61v3M801 307v3M803 82v3M805 94v3M805 175v3M807 88v3M807 166v3M807 358v3M807 373v3M807 382v3M807 388v3M807 394v3M809 58v3M809 91v3M809 97v3M809 160v3M819 184v3M821 61v3M821 187v3M821 223v3M821 397v3M823 94v3M823 388v3M823 397v3M827 151v3M827 190v6M827 277v3M829 61v3M829 91v3M829 190v3M829 337v6M829 346v3M831 55v6M831 148v3M831 235v3M831 364v3M831 376v9M833 91v6M833 337v3M833 373v3M833 403v2M835 55v6M835 91v3M835 106v3M835 196v3M837 331v6M839 340v3M843 145v3M845 226v3M845 241v3M847 94v3M847 223v3M849 52v3M849 148v3M849 238v6M849 256v3M849 268v3M849 286v3M849 298v3M851 100v3M851 115v3M851 121v3M851 229v3M851 235v15M851 253v9M851 268v6M851 283v9M851 340v3M853 55v3M853 154v3M855 151v3M855 340v3M857 331v3M859 139v3M861 139v3M861 316v6M863 307v3M863 316v3M863 322v3M863 328v3M867 133v3M867 160v3M869 52v3M879 97v3M879 106v3M881 88v3M881 145v3M881 151v3M881 199v3M881 223v3M881 280v3M883 85v3M883 100v6M883 145v3M883 229v3M885 79v6M885 154v9M885 181v3M885 187v6M885 238v6M885 250v3M885 262v3M887 232v3M887 247v3M887 259v3M887 265v3M891 271v3M897 265v3M899 274v3M905 277v3M907 274v3M913 286v3M915 289v3M919 292v3M919 316v6M921 304v3M921 322v3M923 310v3M925 316v3M925 394v3M927 322v3M927 331v9M927 373v3M927 382v3M929 322v3M929 385v3M929 394v6M935 346v3M937 343v3M937 358v6M941 346v3M943 334v3M943 367v3M943 376v6M945 304v3M945 322v3M945 343v3M945 352v6M945 400v3M947 385v3M951 337v3M951 373v3M951 394v6"/>
<path stroke="#00ffe4" stroke-width="1" d="M952.5 316v9M952.5 349v3"/>
<path stroke="#00ffe4" stroke-width="2" d="M465 97v3M465 199v3M465 232v3M465 268v3M465 277v3M467 97v3M467 217v3M467 241v3M467 253v3M467 265v3M469 100v3M469 241v3M471 112v3M471 226v3M475 205v3M475 211v6M477 202v6M479 115v3M479 205v3M481 106v6M483 106v6M485 82v6M485 211v3M487 52v3M487 133v6M487 211v3M497 214v3M501 217v3M503 61v3M503 67v3M503 220v3M505 85v3M505 205v3M507 211v3M515 73v3M515 82v3M515 91v3M517 88v3M517 97v3M521 235v3M521 361v3M521 382v6M523 97v3M523 325v6M523 343v3M525 64v3M525 97v6M525 229v3M525 346v3M525 367v3M525 397v3M527 64v3M527 70v15M527 88v6M527 307v3M527 313v6M527 331v3M527 343v3M527 391v6M527 400v3M529 85v3M529 226v6M529 355v3M529 361v3M531 73v3M531 88v3M531 94v3M533 64v3M533 208v3M535 100v3M537 61v3M537 85v3M539 76v3M541 61v3M541 67v3M541 94v3M541 196v6M541 217v3M543 73v3M543 94v3M543 220v3M545 85v3M547 61v15M549 70v3M549 172v3M549 190v3M551 67v3M553 196v3M555 61v3M555 70v3M555 82v6M557 79v3M559 73v6M559 85v3M559 181v3M559 208v3M561 154v3M561 196v3M561 211v3M563 205v3M563 217v3M565 202v3M567 220v6M569 64v3M573 220v3M575 208v3M575 235v3M575 313v3M577 232v3M579 226v3M579 259v3M581 229v3M585 208v3M587 184v6M591 76v3M591 208v3M601 94v3M603 88v3M603 94v3M605 70v9M605 226v3M607 76v6M607 229v3M607 322v3M609 244v3M609 262v3M609 271v3M609 313v3M609 319v6M609 337v3M609 370v3M611 73v3M611 82v3M613 238v3M617 241v3M619 70v3M619 205v3M619 220v3M619 382v3M621 244v3M621 346v3M623 73v6M623 214v3M623 241v3M627 79v9M627 223v3M627 325v3M627 331v6M627 355v3M627 361v3M629 76v3M629 394v3M631 211v3M631 217v3M633 70v6M635 214v3M635 226v6M635 241v3M635 340v3M635 349v3M639 241v6M641 82v3M641 232v6M643 214v3M643 235v3M643 241v6M645 232v3M645 241v3M647 214v3M647 229v3M647 238v3M647 334v3M647 349v3M649 220v3M649 277v3M649 301v6M649 346v3M651 256v3M651 289v3M653 268v3M653 274v9M653 313v3M653 334v6M657 376v3M659 73v3M659 358v3M659 370v3M659 391v3M661 334v6M661 346v3M667 391v3M675 79v3M679 64v3M679 85v3M679 388v3M681 82v3M683 88v3M683 325v3M683 403v2M687 82v3M689 61v3M691 79v6M691 361v3M691 370v3M691 403v2M693 70v3M693 397v8M697 73v3M697 355v3M703 322v3M703 355v3M703 400v3M705 73v6M705 328v3M707 70v3M707 388v3M709 61v3M711 67v9M711 361v3M715 358v3M721 73v3M723 76v6M723 214v3M727 76v3M729 400v3M733 79v3M735 79v3M737 76v6M743 70v3M743 367v6M747 400v3M749 364v3M755 397v6M759 319v3M761 322v3M761 346v3M761 385v3M761 397v6M763 61v3M763 67v6M763 358v3M763 382v3M765 94v6M765 388v6M765 400v3M767 61v3M767 403v2M769 91v3M771 61v3M771 400v3M773 88v3M775 355v3M775 364v3M775 370v6M777 400v3M779 52v6M779 388v3M779 400v3M781 52v3M781 85v3M781 397v3M783 91v3M783 349v3M787 58v3M787 85v3M789 58v3M791 85v3M791 349v6M791 382v3M793 55v3M795 82v3M795 358v3M797 343v6M797 403v2M799 61v3M801 382v6M803 61v3M805 400v3M807 61v3M807 163v3M807 172v6M807 349v3M807 391v3M807 400v3M809 166v3M811 91v6M811 160v3M811 178v3M811 394v3M811 403v2M813 61v3M813 157v3M813 373v3M813 391v3M813 397v3M815 91v3M815 181v3M817 154v3M819 61v3M819 91v3M819 154v3M821 217v3M823 61v3M823 202v12M823 394v3M823 403v2M825 103v3M825 133v3M825 193v9M825 211v3M825 307v3M825 328v3M829 151v3M829 328v3M829 334v3M829 343v3M831 193v3M831 391v3M831 400v3M833 148v3M833 196v3M833 343v3M833 382v3M835 61v3M835 148v3M837 61v3M837 394v3M839 58v3M839 145v3M839 337v3M841 196v3M841 343v3M843 58v3M843 130v3M843 139v6M845 58v3M845 94v3M845 151v3M845 202v3M847 58v3M847 154v3M847 205v3M849 94v3M849 106v3M849 115v3M849 139v3M849 214v3M849 235v3M849 247v3M849 259v3M849 307v3M851 55v3M851 154v3M851 214v6M851 250v3M851 343v3M853 145v3M855 148v3M855 331v3M857 142v6M857 151v6M859 154v3M859 337v3M861 151v3M861 157v3M861 310v3M861 322v3M863 133v3M863 160v3M863 310v3M865 163v3M865 313v3M867 130v3M867 154v3M867 313v15M879 70v3M879 88v3M879 94v3M879 100v6M879 139v3M879 223v3M881 73v3M881 85v3M881 148v3M881 226v3M881 277v3M883 76v3M883 151v6M883 193v3M883 274v3M885 166v3M885 184v3M885 247v3M885 253v9M885 265v12M887 241v3M887 262v3M895 274v3M905 274v3M907 280v3M915 400v3M919 295v3M921 310v3M921 316v3M921 403v2M923 376v3M923 385v3M925 328v3M925 334v3M925 388v6M925 397v3M929 316v3M929 331v3M931 310v3M931 364v3M935 352v6M937 349v3M939 346v6M939 355v3M941 352v3M941 361v3M943 340v3M943 373v3M945 337v3M945 346v6M949 313v3M949 322v3M949 340v3M949 352v3M949 358v3M949 364v6M951 328v3"/>
<path stroke="#00ffd4" stroke-width="1" d="M952.5 337v3M952.5 343v3M952.5 358v9"/>
<path stroke="#00ffd4" stroke-width="2" d="M465 88v9M465 217v3M465 247v6M465 259v6M465 271v3M465 280v3M467 91v3M467 256v9M467 268v3M469 97v3M469 106v3M469 112v3M469 136v3M469 232v3M469 238v3M469 247v3M471 109v3M471 115v3M471 229v6M471 274v3M473 112v3M473 226v6M475 112v3M475 118v3M475 220v3M477 208v3M477 220v3M479 112v3M479 208v3M485 79v3M485 229v3M487 79v3M487 229v3M489 73v3M491 55v6M491 73v3M491 79v3M491 211v3M493 211v3M495 76v3M495 205v9M497 220v3M499 208v3M505 79v3M505 220v3M507 70v3M507 214v6M507 229v3M509 232v3M511 241v3M513 244v3M515 64v3M517 67v3M517 91v3M517 241v3M519 64v3M519 94v3M519 241v3M519 319v3M521 94v3M521 109v3M521 220v3M521 307v3M521 388v3M521 397v6M523 91v6M523 313v6M523 322v3M525 61v3M525 67v3M525 322v3M525 358v3M525 394v3M527 85v3M527 229v3M527 319v6M527 334v6M527 397v3M529 61v3M529 88v3M529 349v6M531 64v3M531 79v3M531 91v3M531 226v3M533 67v6M535 97v3M535 211v3M537 64v3M537 73v9M539 73v3M539 82v3M541 70v3M541 85v6M541 97v6M543 82v3M545 67v3M545 82v3M545 220v3M547 79v3M549 67v3M549 226v3M551 70v3M551 88v3M551 217v6M553 64v3M553 208v3M559 205v3M561 217v3M563 211v3M563 223v3M565 67v3M565 205v3M565 214v3M569 214v3M571 235v3M573 229v6M575 265v3M575 316v3M577 73v3M577 256v3M579 232v3M579 316v3M579 322v3M581 262v6M581 319v3M585 220v3M587 139v3M587 199v3M587 214v6M591 217v3M595 79v3M595 160v3M599 64v3M599 82v3M599 217v3M603 79v3M603 85v3M603 220v3M603 226v3M605 64v3M605 82v3M605 229v6M607 232v3M607 346v3M607 385v9M609 250v3M609 316v3M609 403v2M611 238v3M611 250v3M611 262v3M617 79v6M617 238v3M619 76v3M619 235v3M619 379v3M621 79v3M621 226v12M621 241v3M621 355v3M623 238v3M625 79v12M627 226v3M627 322v3M627 349v3M629 85v6M631 76v3M633 76v3M633 85v3M633 226v3M633 403v2M635 82v3M635 88v3M635 217v6M635 232v3M639 235v3M641 73v3M643 247v3M645 235v6M647 346v3M649 337v3M649 364v3M651 235v3M651 280v3M651 286v3M653 247v6M653 295v3M659 349v9M659 379v3M661 223v3M661 331v3M661 373v3M661 394v3M665 355v3M665 361v3M665 373v3M665 388v3M665 394v3M665 400v3M667 394v3M675 76v3M679 67v3M679 73v3M681 64v3M681 307v3M681 382v6M683 316v3M683 397v3M687 61v3M689 58v3M691 67v3M693 388v6M697 367v3M705 355v3M707 370v3M713 76v3M713 388v3M715 79v3M715 364v3M715 370v3M721 70v3M727 79v3M729 76v3M743 364v3M743 379v3M747 388v3M749 355v3M749 370v3M749 397v3M755 352v6M759 346v3M761 349v3M761 388v3M763 361v12M769 52v3M769 94v3M771 64v3M771 85v3M773 61v3M775 91v3M775 376v3M775 382v6M777 58v3M779 85v3M779 391v3M781 55v3M781 394v3M783 352v3M783 382v3M785 52v3M785 85v3M789 88v3M793 58v3M793 85v3M797 352v3M797 361v3M799 79v3M801 82v3M803 166v3M805 88v3M805 172v3M807 79v3M807 85v3M807 352v6M807 364v6M807 379v3M807 397v3M807 403v2M809 61v3M809 82v3M813 343v3M813 385v3M815 61v3M815 88v3M821 400v3M825 58v3M825 214v3M825 223v3M825 331v6M831 88v3M831 151v3M831 238v3M833 58v3M833 193v3M835 109v3M835 346v3M837 94v3M837 151v3M837 199v3M837 337v3M837 400v5M839 196v3M839 346v3M839 391v3M841 94v3M841 154v3M841 403v2M843 61v3M843 97v6M843 334v3M845 154v3M845 199v3M845 340v3M849 58v3M849 91v3M849 142v6M849 154v3M849 211v3M849 250v3M849 301v6M849 340v3M851 94v3M851 103v3M851 211v3M851 220v3M853 52v3M853 118v3M853 127v9M853 157v3M853 298v3M853 340v6M855 145v3M857 307v3M859 157v3M859 340v6M861 52v6M861 136v3M861 331v3M863 52v6M863 130v3M863 163v3M863 331v3M865 52v6M865 94v3M865 103v3M865 118v3M865 307v6M867 52v6M867 112v3M867 307v3M869 55v3M873 61v3M879 91v3M879 142v9M879 220v3M881 82v3M881 154v3M881 202v3M881 283v3M881 316v3M883 172v3M883 181v3M883 241v3M883 250v9M883 316v3M885 76v3M885 277v6M887 235v3M887 268v3M893 274v3M897 271v3M899 277v3M901 274v3M903 280v3M911 283v3M913 289v3M913 391v3M913 397v3M915 286v3M915 307v3M915 313v9M915 397v3M915 403v2M917 289v3M917 394v3M919 298v6M919 310v3M919 394v11M921 388v3M923 379v6M923 388v3M925 325v3M925 385v3M925 403v2M927 310v3M927 376v6M931 313v6M931 334v3M931 361v3M933 319v3M933 337v3M933 358v3M935 349v3M941 349v3M945 316v6M945 331v3M945 388v3M945 394v3M947 358v3M947 370v3M949 316v3M949 349v3M949 355v3M949 361v3M951 334v3"/>
<path stroke="#00ffc4" stroke-width="1" d="M952.5 313v3M952.5 325v3M952.5 331v3M952.5 355v3M952.5 367v3"/>
<path stroke="#00ffc4" stroke-width="2" d="M459 55v3M459 61v3M459 67v3M459 73v3M459 97v3M459 253v3M459 259v3M459 265v3M459 277v3M459 283v3M459 289v3M459 313v3M459 319v3M459 325v3M459 331v3M461 55v3M461 61v3M461 67v3M461 73v3M461 97v3M461 253v3M461 259v3M461 265v3M461 277v3M461 283v3M461 289v3M461 313v3M461 319v3M461 325v3M461 331v3M463 55v3M463 61v3M463 67v3M463 73v3M463 97v3M463 253v3M463 259v3M463 265v3M463 277v3M463 283v3M463 289v3M463 313v3M463 319v3M463 325v3M463 331v3M465 85v3M465 226v3M467 274v3M469 244v3M469 250v6M469 271v3M471 97v3M471 244v3M471 253v3M471 262v3M471 271v3M471 277v3M473 94v6M473 106v3M473 238v3M473 256v3M473 262v3M473 271v3M473 277v3M475 217v3M477 112v3M477 211v3M477 223v3M479 109v3M479 211v12M481 202v3M481 217v3M483 211v3M485 52v3M485 214v6M485 223v6M487 58v3M487 76v3M487 217v9M489 67v6M489 214v3M489 220v3M489 229v3M491 61v3M491 70v3M497 223v3M499 205v3M503 223v3M503 229v3M505 55v3M505 70v6M509 229v3M509 235v3M509 241v3M511 244v3M513 247v3M515 70v3M515 241v3M517 58v3M517 76v3M517 82v3M517 322v3M519 97v3M519 313v3M519 322v3M519 328v9M519 346v9M519 361v3M519 370v3M519 376v6M519 385v6M521 61v3M521 136v3M521 313v6M521 325v6M521 364v3M521 391v3M523 331v3M525 235v3M525 316v6M525 325v3M527 310v3M527 325v6M529 67v3M529 79v3M529 100v3M529 331v3M529 364v3M529 370v9M529 382v6M531 70v3M531 76v3M531 82v3M531 229v3M533 88v3M533 214v3M535 58v3M537 67v3M537 82v3M537 214v6M539 61v3M539 85v3M539 214v3M541 82v3M541 226v6M543 76v3M545 73v3M545 151v3M547 226v3M549 169v3M549 229v3M551 61v3M551 76v3M553 58v6M553 76v3M553 82v3M553 214v3M555 67v3M555 205v3M555 217v6M557 73v3M561 223v3M563 73v3M569 226v3M573 235v3M575 232v3M575 238v3M575 268v6M575 322v3M577 64v9M577 238v6M577 250v3M577 280v3M579 235v3M579 256v3M579 277v3M581 232v3M581 268v3M581 310v3M583 202v3M585 76v3M587 160v3M589 220v3M593 217v3M595 154v3M595 187v3M597 220v3M601 76v3M601 91v3M601 220v3M601 226v3M603 82v3M603 91v3M603 223v3M603 232v3M605 67v3M605 85v6M607 70v3M607 226v3M607 241v3M607 277v3M607 283v3M607 325v3M607 367v3M607 394v3M611 232v3M611 253v3M611 319v3M619 241v3M621 82v3M621 247v3M621 358v3M623 88v3M623 211v3M623 220v3M625 76v3M625 361v3M627 328v3M627 340v6M627 352v3M631 82v3M633 79v3M633 214v3M633 307v3M633 400v3M635 352v6M637 82v3M639 79v3M641 241v6M643 238v3M647 352v3M649 358v6M651 283v3M651 292v9M653 289v3M653 340v3M659 376v3M661 352v3M665 358v3M665 370v3M665 391v3M665 397v3M679 70v3M681 79v3M683 313v3M685 58v3M685 91v3M687 79v3M689 76v3M691 367v3M691 373v3M697 70v3M703 76v3M703 403v2M705 325v3M707 382v3M707 397v3M709 82v3M711 367v3M715 70v3M715 307v3M721 76v3M731 79v3M747 403v2M749 361v3M749 373v6M755 358v3M755 382v9M761 358v3M765 355v6M765 373v3M765 385v3M765 394v6M767 67v6M767 88v3M775 391v3M783 307v3M783 343v6M783 355v3M783 361v3M785 58v3M789 61v3M789 85v3M791 355v3M793 61v3M797 64v3M797 79v3M797 328v3M801 64v3M801 79v3M803 79v3M805 64v3M805 82v3M807 76v3M807 82v3M807 346v3M807 370v3M809 64v3M809 163v3M811 163v6M811 175v3M813 88v6M813 352v3M813 376v3M813 388v3M817 181v3M819 181v3M821 184v3M821 220v3M821 403v2M823 154v3M823 187v3M823 400v3M825 61v3M825 94v3M825 187v3M825 217v6M827 244v3M829 64v3M829 88v3M829 196v15M829 226v3M831 190v3M831 241v3M833 61v3M833 88v3M835 88v3M835 100v3M835 355v3M837 196v3M839 97v3M839 148v3M839 343v3M841 61v3M841 346v3M841 394v3M843 133v3M843 148v3M843 340v3M845 343v3M847 91v3M847 202v3M847 343v6M849 208v3M849 217v3M851 157v3M851 223v6M853 94v3M853 103v3M853 109v3M853 115v3M853 124v3M853 244v3M853 268v3M853 277v3M853 289v3M853 295v3M853 304v3M855 154v3M857 52v3M857 148v3M857 157v3M859 52v3M859 334v3M861 334v3M865 97v6M865 106v3M865 112v3M865 121v3M865 127v6M867 94v6M867 103v9M867 115v6M867 127v3M867 163v3M867 310v3M867 328v3M871 142v12M879 151v3M879 217v3M879 226v3M879 280v3M881 157v3M881 196v3M881 319v3M883 157v9M883 178v3M883 232v9M883 280v3M883 310v6M885 172v3M885 244v3M885 316v3M887 238v3M887 271v3M889 274v3M891 274v3M897 274v3M909 283v3M913 292v3M913 313v6M913 394v3M913 400v5M917 313v6M917 391v3M919 304v3M921 325v3M923 331v6M923 373v3M925 337v3M929 334v3M929 346v3M929 388v3M931 322v12M931 337v3M931 349v3M931 355v3M933 352v3M937 352v6M939 343v3M947 343v3M949 346v3"/>
<path stroke="#00ffb4" stroke-width="1" d="M952.5 346v3M952.5 352v3"/>
<path stroke="#00ffb4" stroke-width="2" d="M465 76v3M465 220v3M465 244v3M465 274v3M465 307v3M467 88v3M467 94v3M467 271v3M467 277v6M469 94v3M469 109v3M469 133v3M469 274v6M471 106v3M471 235v3M471 250v3M471 256v3M473 100v6M473 109v3M473 235v3M473 241v6M473 268v3M475 223v3M477 217v3M479 118v3M481 103v3M481 208v3M481 220v6M483 133v3M483 202v3M483 220v9M485 220v3M487 232v3M489 58v9M489 217v3M489 223v3M491 208v3M493 214v3M495 214v6M497 217v3M497 226v6M499 214v3M499 223v3M501 205v6M503 226v3M503 232v3M505 226v3M509 244v3M515 67v3M517 70v3M517 79v3M517 325v3M519 67v3M519 103v3M519 133v3M519 220v3M519 316v3M519 325v3M519 355v3M519 364v6M519 373v3M521 103v3M521 319v3M521 352v3M521 370v3M523 64v9M523 88v3M523 238v3M525 79v6M525 331v3M525 370v3M525 391v3M527 232v3M527 340v3M529 64v3M529 73v6M529 232v3M529 334v9M529 388v3M531 61v3M533 73v6M533 97v3M535 88v3M539 64v3M543 79v3M545 64v3M545 70v3M545 229v6M549 214v3M551 94v3M553 202v6M557 226v3M561 220v3M565 220v3M565 226v3M573 238v3M573 262v3M575 256v3M577 235v3M577 244v3M577 253v3M577 331v3M579 244v3M579 280v3M579 325v3M581 259v3M581 307v3M581 313v3M581 322v3M583 226v9M585 223v6M587 163v3M587 211v3M591 214v3M591 220v3M595 67v3M595 175v3M599 73v3M599 79v3M601 79v3M601 223v3M603 229v3M605 235v3M607 244v3M607 253v3M607 286v3M607 313v3M607 382v3M609 241v3M609 358v3M611 235v3M611 244v6M611 310v9M611 322v3M613 70v3M619 88v3M619 217v3M619 229v3M619 238v3M619 385v3M619 403v2M621 67v3M623 217v3M623 400v3M627 364v3M633 82v3M635 364v3M635 397v3M637 310v3M641 238v3M647 355v3M649 352v6M649 376v3M651 232v3M651 238v3M651 244v3M659 331v9M659 373v3M661 349v3M661 355v3M661 361v3M665 367v3M671 394v3M681 67v6M681 394v3M683 61v3M683 322v3M691 70v3M691 376v6M705 358v3M707 385v3M707 391v3M715 73v3M715 367v3M729 79v3M747 397v3M749 394v3M755 361v3M755 370v3M757 364v3M759 349v3M761 352v6M761 361v3M761 367v3M761 376v3M761 394v3M761 403v2M763 373v3M767 64v3M767 76v3M767 82v3M767 94v6M769 88v3M769 97v3M771 67v3M771 82v3M773 64v3M773 91v3M775 349v3M775 388v3M779 58v3M783 340v3M783 358v3M783 379v3M783 385v3M783 400v3M787 61v3M787 82v3M795 64v3M797 310v3M797 331v6M797 340v3M803 64v3M805 76v6M807 64v3M807 169v3M809 85v3M809 169v9M811 88v3M811 169v3M813 58v3M813 82v6M813 346v3M813 379v6M813 400v3M815 85v3M819 64v3M821 64v3M821 154v3M823 64v3M823 220v6M827 64v3M827 136v3M827 196v3M827 223v6M829 211v15M831 64v3M833 64v3M833 85v3M833 190v3M833 367v6M835 97v3M835 193v3M835 358v9M837 193v3M837 349v3M837 391v3M837 397v3M839 151v6M839 394v3M843 199v3M843 205v3M843 388v6M845 61v3M845 403v2M847 157v3M849 97v3M849 109v3M849 157v3M849 232v3M851 208v3M853 58v3M853 100v3M853 112v3M853 250v3M853 262v6M853 271v6M853 283v6M853 292v3M853 301v3M855 52v3M855 139v3M855 343v3M857 55v3M857 337v9M859 55v3M859 136v3M859 160v3M859 346v3M861 154v3M861 160v3M861 307v3M861 337v6M863 94v9M863 106v24M863 343v3M865 109v3M865 115v3M865 124v3M865 316v3M865 328v3M867 58v3M867 100v3M867 124v3M869 58v3M869 142v3M869 160v3M869 313v3M869 322v3M871 58v3M871 133v9M879 73v3M879 154v3M879 199v6M879 277v3M879 307v6M881 160v3M881 193v3M881 229v3M881 241v9M881 253v3M881 274v3M881 313v3M883 82v3M883 169v3M883 184v9M883 244v6M883 259v3M883 319v3M885 175v3M885 307v3M885 313v3M887 274v6M895 277v3M897 277v3M901 277v3M911 286v3M913 310v3M915 292v3M915 391v6M917 307v3M919 328v3M919 334v3M921 313v3M921 328v6M921 382v3M923 325v3M927 340v3M927 370v3M929 337v3M929 373v3M931 319v3M931 346v3M933 343v3M935 358v3M939 352v3M943 343v3M945 334v3M945 340v3M947 346v3M947 373v3M951 400v3"/>
<path stroke="#00ffa4" stroke-width="1" d="M952.5 328v3"/>
<path stroke="#00ffa4" stroke-width="2" d="M465 82v3M465 253v6M465 283v3M465 316v3M467 283v3M467 322v6M469 256v3M471 100v6M471 241v3M471 247v3M471 268v3M473 91v3M473 232v3M473 259v3M473 265v3M473 274v3M473 280v3M475 103v6M475 226v3M475 274v3M477 109v3M477 226v3M479 106v3M479 223v3M481 94v3M481 205v3M481 211v6M483 88v3M483 103v3M483 214v6M483 229v3M485 232v3M487 61v3M487 214v3M487 226v3M489 232v3M491 223v3M493 220v3M499 226v3M501 211v6M501 226v3M509 238v3M513 250v3M515 88v3M517 73v3M517 85v3M517 244v3M517 316v6M517 403v2M519 88v6M519 358v3M521 97v3M521 223v3M521 232v3M521 322v3M521 340v3M521 358v3M523 76v3M523 85v3M523 307v6M525 94v3M525 223v3M529 322v3M529 328v3M529 346v3M531 85v3M531 232v3M533 85v3M533 217v3M535 94v3M535 133v3M537 145v3M537 157v3M537 166v3M537 172v3M537 202v3M539 67v3M539 208v3M539 217v3M541 223v3M541 232v3M543 67v6M545 97v3M545 154v3M545 235v3M547 229v3M549 217v3M549 232v3M551 91v3M555 223v6M557 202v3M557 217v3M561 205v6M563 226v3M569 223v3M571 238v6M571 310v15M573 226v3M573 247v3M573 268v3M573 319v3M575 241v3M575 250v3M575 331v3M577 283v3M577 337v3M581 271v3M581 316v3M583 187v3M585 211v3M587 220v3M589 217v3M593 220v3M595 214v3M597 226v3M601 85v3M601 196v3M601 229v3M607 235v3M607 247v6M607 274v3M607 292v3M607 379v3M607 403v2M609 376v9M611 340v3M613 241v3M619 85v3M619 397v3M621 85v3M627 337v3M629 397v3M631 400v5M635 394v3M637 319v3M641 79v3M655 361v9M657 382v6M657 391v6M659 340v3M661 364v3M679 82v3M681 76v3M681 391v3M681 400v3M683 85v3M683 319v3M683 367v3M685 88v3M687 76v3M691 76v3M697 358v3M697 364v3M707 367v3M713 391v6M749 403v2M755 376v6M755 403v2M757 358v3M757 367v3M759 370v3M761 364v3M761 379v6M765 88v6M765 370v3M767 85v3M767 91v3M769 73v3M771 70v6M771 79v3M773 85v3M775 52v3M775 61v3M775 88v3M777 61v3M777 85v3M781 58v3M783 394v6M785 82v3M791 61v3M791 82v3M791 361v3M797 67v3M797 76v3M797 313v3M797 325v3M799 76v3M803 76v3M805 85v3M809 67v3M809 76v6M813 181v3M813 349v3M815 64v3M815 82v3M815 157v3M815 178v3M817 64v3M817 136v3M823 214v3M825 91v3M825 154v3M827 61v3M827 154v3M827 187v3M827 220v3M829 154v3M829 187v3M831 61v3M831 154v3M831 187v3M833 346v3M835 85v3M835 349v6M835 367v3M837 64v3M837 133v6M839 61v3M839 193v3M839 358v3M841 91v3M841 193v3M841 388v3M841 400v3M843 136v3M843 154v3M843 202v3M843 394v3M845 91v3M845 157v3M845 397v3M847 61v3M847 199v3M847 397v8M849 160v3M849 229v3M849 343v3M851 91v3M851 346v3M853 214v3M853 229v6M853 280v3M855 55v3M855 100v3M855 106v3M855 121v3M855 127v3M855 337v3M857 160v3M857 334v3M861 163v3M861 343v6M863 103v3M863 166v3M863 334v3M863 340v3M865 58v3M865 91v3M865 322v3M865 331v3M867 91v3M867 121v3M867 166v3M867 331v3M869 145v9M869 307v3M869 328v3M871 154v3M877 145v3M877 151v6M877 307v3M879 76v3M879 85v3M879 205v12M879 229v18M879 259v12M879 283v3M881 76v6M881 163v6M881 172v6M881 232v9M881 250v3M881 262v12M881 286v3M881 310v3M881 322v3M883 175v3M883 262v3M883 286v3M885 163v3M885 178v3M885 283v3M887 280v6M899 280v3M909 307v3M911 289v3M911 313v3M911 319v3M911 394v9M913 295v3M913 388v3M917 310v3M917 400v3M921 334v3M923 322v3M923 337v3M925 340v3M927 328v3M927 343v6M929 310v3M929 325v3M929 361v3M929 367v3M929 379v3M931 352v3M933 331v3M933 340v3M933 346v3M933 361v3M943 364v3M947 352v3M947 367v3M951 346v3M951 355v3M951 367v3"/>
<path stroke="#00ff94" stroke-width="2" d="M459 52v3M459 58v3M459 64v3M459 70v3M459 94v3M459 256v3M459 262v3M459 280v3M459 286v3M459 310v3M459 316v3M459 322v3M459 328v3M461 52v3M461 58v3M461 64v3M461 70v3M461 94v3M461 256v3M461 262v3M461 280v3M461 286v3M461 310v3M461 316v3M461 322v3M461 328v3M463 52v3M463 58v3M463 64v3M463 70v3M463 94v3M463 256v3M463 262v3M463 280v3M463 286v3M463 310v3M463 316v3M463 322v3M463 328v3M465 73v3M467 82v6M467 286v3M467 310v3M467 316v6M469 262v3M469 322v3M471 94v3M471 265v3M471 280v3M473 88v3M473 247v9M475 100v3M475 109v3M475 253v3M475 268v6M475 277v3M477 214v3M477 238v9M477 253v6M479 226v3M481 226v6M483 94v3M483 232v3M485 235v3M487 73v3M489 226v3M489 235v3M491 52v3M491 64v3M491 214v6M493 217v3M493 223v6M493 232v3M495 58v3M495 220v3M499 76v3M499 217v3M499 229v3M501 220v3M505 58v3M505 223v3M507 226v3M507 241v3M509 247v6M511 238v3M511 247v6M513 316v3M513 322v6M515 58v3M515 310v3M515 322v3M515 328v3M517 64v3M517 328v12M517 343v3M517 394v6M519 70v12M519 337v6M519 382v3M521 64v3M521 331v3M521 346v3M521 367v3M523 82v3M523 241v6M523 319v3M525 70v3M525 85v3M525 91v3M525 136v3M525 238v3M525 307v3M525 313v3M525 328v3M525 352v3M525 388v3M529 235v3M529 343v3M529 391v3M531 358v6M535 76v6M535 214v3M537 70v3M537 220v3M539 70v3M541 73v3M541 91v3M549 235v3M553 85v3M553 223v6M557 205v9M557 229v3M561 202v3M565 223v3M567 232v3M571 244v3M571 325v6M573 265v3M573 307v9M573 322v3M575 334v3M579 238v3M579 247v6M579 283v3M581 235v3M581 253v3M581 274v3M581 325v3M581 331v3M583 190v3M583 223v3M583 235v3M585 229v3M587 226v3M595 220v3M597 223v3M597 229v3M599 223v3M601 205v3M601 232v3M603 235v3M605 79v3M605 247v6M607 268v3M607 280v3M607 289v3M607 304v3M607 352v15M607 370v3M609 340v3M609 355v3M609 373v3M609 388v6M611 325v3M619 82v3M619 391v3M619 400v3M623 82v6M623 403v2M627 367v3M627 397v3M629 403v2M635 367v3M637 316v3M637 322v6M647 358v6M647 367v6M647 397v6M649 379v3M651 358v3M655 358v3M655 373v3M657 388v3M657 397v8M659 343v6M661 358v3M665 364v3M679 76v3M681 73v3M681 388v3M683 388v3M683 394v3M687 64v3M689 64v3M689 79v3M697 67v3M697 361v3M703 73v3M705 382v3M709 76v3M725 76v3M749 379v12M749 400v3M755 367v3M755 373v3M757 361v3M759 355v3M761 370v6M765 64v3M767 73v3M771 76v3M773 67v3M775 67v3M777 88v3M779 82v3M781 82v3M783 52v3M783 88v3M783 370v3M783 391v3M785 61v3M791 358v3M793 64v3M793 82v3M795 79v3M797 73v3M797 316v3M797 337v3M801 67v3M805 67v3M807 67v3M807 73v3M811 61v3M813 79v3M813 403v2M817 178v3M823 88v3M823 217v3M827 211v3M829 67v3M831 67v3M831 82v6M833 151v3M833 187v3M833 349v3M835 151v3M835 190v3M835 385v6M835 403v2M837 154v3M837 355v3M839 91v3M839 352v6M839 361v3M839 388v3M839 400v3M841 349v3M841 391v3M841 397v3M843 397v3M845 64v3M845 196v3M845 346v3M845 391v6M847 88v3M847 349v3M847 361v3M849 205v3M849 223v3M851 58v3M851 160v3M851 205v3M853 121v3M853 160v3M853 241v3M853 253v3M855 103v3M855 112v9M855 124v3M855 157v3M855 235v3M855 289v3M855 301v6M857 346v3M859 349v3M861 58v3M861 97v6M861 106v6M861 133v3M863 58v3M863 91v3M863 337v3M863 346v3M865 166v3M865 319v3M869 61v3M869 97v3M869 103v3M869 154v3M869 310v3M869 325v3M871 100v3M871 106v3M871 118v3M871 319v3M871 328v3M873 64v3M877 142v3M877 148v3M877 157v3M877 310v3M879 157v6M879 247v12M879 274v3M879 286v6M879 313v6M879 322v3M881 169v3M881 178v3M881 184v9M881 256v6M881 289v3M883 166v3M883 271v3M883 283v3M885 286v3M885 310v3M885 319v9M889 277v3M889 307v3M889 316v3M889 322v3M893 277v3M895 394v3M901 280v3M903 283v3M909 310v3M909 391v3M911 295v3M911 310v3M911 316v3M911 403v2M913 319v3M915 295v3M915 310v3M915 322v6M917 292v3M917 397v3M919 331v3M919 337v3M919 382v3M921 385v3M923 340v3M923 370v3M925 364v3M925 373v3M927 361v6M929 319v3M929 340v3M929 349v6M929 370v3M929 376v3M933 334v3M933 349v3M945 307v3M947 361v3M949 325v3M949 343v3M951 358v9"/>
<path stroke="#00ff84" stroke-width="2" d="M465 64v3M465 79v3M465 241v3M465 286v3M465 310v3M465 319v3M467 289v3M467 307v3M467 328v3M469 55v3M469 280v3M469 310v6M469 319v3M469 325v3M471 238v3M471 259v3M471 283v3M473 286v3M475 97v3M475 256v3M477 106v3M477 235v3M477 247v3M477 262v6M477 271v3M477 283v3M479 55v6M479 85v3M479 229v6M481 82v3M481 88v3M481 97v3M485 73v3M485 238v3M485 244v3M487 67v3M487 247v3M487 262v3M489 238v12M491 220v3M493 229v3M493 235v3M495 223v3M497 232v3M497 262v3M497 268v3M497 277v3M497 310v6M497 319v3M499 67v3M501 223v3M501 250v3M503 250v3M503 310v3M507 244v3M509 253v3M509 259v3M511 253v3M513 253v9M513 307v3M513 313v3M513 319v3M513 328v3M515 85v3M515 238v3M515 250v3M515 316v6M515 325v3M515 331v3M517 250v3M517 259v6M517 352v6M517 361v3M517 388v6M519 223v3M519 310v3M519 343v3M521 73v3M521 79v9M521 91v3M521 100v3M521 241v3M523 73v3M525 76v3M525 310v3M525 334v3M525 340v3M525 382v6M527 244v3M529 319v3M531 67v3M531 235v3M531 313v9M531 349v6M531 373v3M537 226v3M537 232v3M541 64v3M541 181v3M541 220v3M543 229v3M545 214v3M545 238v3M547 238v3M549 238v3M551 64v3M551 223v3M555 64v3M557 187v3M557 196v3M559 64v3M559 211v3M561 226v6M563 220v3M563 232v3M571 247v3M571 331v3M573 217v3M573 277v3M575 259v3M575 280v3M577 247v3M577 325v6M577 334v3M579 328v3M581 250v3M581 256v3M581 277v6M581 328v3M581 334v3M587 223v3M587 229v3M591 223v6M593 223v3M595 70v3M595 229v3M599 76v3M605 238v3M607 259v3M607 271v3M607 295v3M607 301v3M607 373v3M609 385v3M609 397v6M611 328v3M611 367v3M619 79v3M619 394v3M621 238v3M621 361v6M623 79v3M625 364v3M625 382v3M625 397v8M627 379v6M631 79v3M635 361v3M637 334v3M637 346v3M647 364v3M647 391v3M647 403v2M649 382v9M653 349v3M655 379v3M661 367v6M679 79v3M681 397v3M683 370v3M685 85v3M687 67v3M691 382v12M691 400v3M705 361v3M705 367v6M705 376v3M705 385v3M705 391v3M707 394v3M709 79v3M725 79v3M755 391v3M759 367v3M765 361v9M769 79v3M769 85v3M773 70v3M773 82v3M775 55v3M775 64v3M775 352v3M779 61v3M783 85v3M783 373v3M783 388v3M787 64v3M789 64v3M793 79v3M795 67v3M795 73v6M797 70v3M797 319v3M799 64v6M803 73v3M805 61v3M805 73v3M809 73v3M811 64v3M811 82v6M811 172v3M813 175v6M815 160v3M817 82v3M819 178v3M821 67v3M825 184v3M827 91v3M827 184v3M827 199v6M827 208v3M827 217v3M831 70v3M833 67v3M833 82v3M833 154v3M833 355v3M835 391v3M837 88v3M839 94v3M839 364v3M839 379v3M839 397v3M841 157v3M841 367v12M843 64v6M843 343v3M845 88v3M845 349v3M845 376v3M845 388v3M845 400v3M847 355v3M847 364v3M847 370v3M847 376v3M847 388v3M847 394v3M849 112v3M849 226v3M849 346v3M851 367v3M851 376v6M851 385v3M851 397v8M853 97v3M853 106v3M853 217v3M853 223v3M853 238v3M853 259v3M855 94v3M855 109v3M855 133v3M855 238v3M855 244v3M855 259v6M855 268v3M855 292v3M857 118v3M857 139v3M857 349v3M857 355v3M859 94v6M859 112v3M859 121v3M859 130v6M859 361v3M859 394v11M861 94v3M861 103v3M861 130v3M863 169v3M863 349v3M863 358v3M863 376v9M865 61v3M865 88v3M865 169v3M865 334v3M865 346v6M865 355v6M867 334v3M867 403v2M869 91v3M869 106v6M869 139v3M869 157v3M871 94v6M871 112v6M871 124v6M871 160v3M873 130v3M873 136v3M873 310v3M877 160v3M877 223v3M879 79v3M879 196v3M879 319v3M879 325v3M879 343v3M879 364v6M879 385v3M879 391v3M879 397v3M881 181v3M881 325v3M881 355v6M881 373v9M883 265v6M883 289v3M883 382v3M883 391v3M885 289v3M887 286v6M887 313v3M887 319v3M887 325v3M887 394v6M887 403v2M889 313v3M889 319v3M889 325v3M891 277v3M891 307v3M891 313v6M893 307v6M893 376v3M893 385v6M895 310v3M895 319v3M895 328v3M895 382v12M895 397v8M897 328v3M899 388v6M903 310v3M903 322v3M903 328v3M903 334v3M905 283v3M907 310v9M907 364v15M909 286v3M909 292v3M909 313v12M909 394v6M911 292v3M911 307v3M911 322v3M911 391v3M913 298v3M913 325v3M913 337v3M915 298v3M915 367v6M915 379v3M919 325v3M919 388v3M923 328v3M923 346v3M925 331v3M925 346v6M925 355v3M925 361v3M925 367v3M925 376v3M929 355v3M929 364v3M931 358v3M937 346v3M943 361v3M947 349v3M947 364v3M951 340v6M951 349v3"/>
<path stroke="#00ff74" stroke-width="2" d="M465 55v3M465 67v3M467 58v3M467 70v3M467 313v3M469 58v3M469 88v6M469 268v3M469 289v3M469 307v3M469 373v3M471 298v6M473 85v3M473 283v3M475 55v3M475 259v3M477 58v3M477 82v3M477 94v3M477 115v3M477 136v3M477 229v6M477 259v3M477 268v3M479 76v9M479 88v6M479 97v3M479 250v3M481 256v3M483 97v3M483 238v3M483 256v6M485 70v3M485 76v3M485 241v3M485 247v3M487 64v3M487 70v3M487 235v6M487 244v3M489 256v3M491 226v3M491 259v3M493 238v12M493 256v3M493 268v3M493 283v3M495 253v3M495 307v6M495 319v6M497 235v9M497 253v3M497 259v3M497 265v3M497 280v6M497 307v3M497 322v6M499 232v3M501 232v6M501 259v3M503 244v6M503 253v9M503 307v3M507 238v3M509 307v6M511 256v3M513 262v3M513 310v3M515 388v3M517 346v6M517 358v3M517 364v3M517 376v6M517 400v3M519 85v3M521 67v3M521 88v3M521 355v3M521 379v3M521 403v2M525 88v3M525 103v3M525 244v3M529 70v3M529 82v3M529 247v3M529 316v3M529 397v3M531 310v3M531 322v3M531 337v3M531 346v3M531 355v3M531 364v3M531 370v3M531 379v9M537 163v3M537 184v3M537 229v3M539 211v3M539 226v6M543 64v3M543 226v3M543 232v6M545 226v3M547 235v3M549 241v3M553 217v3M555 229v3M557 223v3M557 232v9M565 241v3M567 229v3M569 229v6M569 307v3M571 265v6M571 307v3M573 274v3M573 325v3M575 277v3M575 337v3M577 286v6M577 295v3M577 370v3M579 253v3M581 241v9M583 262v3M583 307v3M583 316v3M583 322v3M589 223v3M593 226v3M593 232v3M595 217v3M595 226v3M597 232v3M599 226v6M601 199v3M603 238v3M603 244v6M605 241v3M605 253v9M605 265v3M605 274v3M605 280v3M607 238v3M607 256v3M607 397v3M609 394v3M611 337v3M611 349v3M611 355v3M621 403v2M625 373v3M627 376v3M629 82v3M631 85v3M633 88v3M635 358v3M637 313v3M637 331v3M637 352v3M647 379v3M647 388v3M649 307v3M649 400v3M653 352v6M655 370v3M655 376v3M655 382v6M655 400v3M657 379v3M683 373v3M683 385v3M683 391v3M687 73v3M689 67v3M705 373v3M705 388v3M705 394v3M709 64v3M755 394v3M759 364v3M765 79v3M769 58v3M769 76v3M773 73v6M775 85v3M777 64v6M779 64v3M779 79v3M781 61v3M783 82v3M783 367v3M783 376v3M783 403v2M785 64v3M789 82v3M791 67v3M791 76v6M797 322v3M799 70v3M801 70v6M803 70v3M807 70v3M809 70v3M811 79v3M813 67v3M813 160v6M813 172v3M815 79v3M815 163v6M817 157v3M819 67v3M819 157v3M821 181v3M823 85v3M823 91v3M829 85v3M829 184v3M831 73v3M833 352v3M835 64v3M835 154v3M835 187v3M835 370v3M835 379v3M837 157v3M837 343v3M837 352v3M837 373v3M839 376v3M839 382v6M841 88v3M841 358v3M841 364v3M841 379v3M841 385v3M843 94v3M843 367v3M843 379v3M845 160v3M845 355v6M845 364v3M845 382v3M847 160v3M847 352v3M847 358v3M847 379v3M849 61v3M849 199v3M849 220v3M851 202v3M851 349v6M851 364v3M851 370v3M851 382v3M851 388v9M853 211v3M853 235v3M853 247v3M853 355v3M853 403v2M855 97v3M855 136v3M855 226v9M855 241v3M855 265v3M855 274v3M855 283v3M855 298v3M855 346v3M857 100v12M857 115v3M857 121v6M857 163v3M857 352v3M857 382v9M857 397v3M859 100v9M859 124v6M859 163v3M859 352v6M859 367v3M859 376v3M859 382v9M861 91v3M861 349v3M863 61v3M863 88v3M863 352v6M863 364v3M863 370v3M863 385v3M863 391v14M865 340v3M865 370v3M865 391v3M867 61v3M867 364v6M867 379v3M867 385v3M867 400v3M869 94v3M869 112v6M869 316v3M869 403v2M871 61v3M871 88v3M871 109v3M871 121v3M871 157v3M871 163v3M871 307v3M871 316v3M871 331v6M871 373v3M871 379v3M871 385v3M871 397v3M873 127v3M873 139v3M877 208v3M877 220v3M877 226v3M879 163v9M879 271v3M879 292v3M879 346v18M879 370v3M879 388v3M879 400v5M881 292v3M881 328v6M881 340v3M881 352v3M881 361v6M881 391v3M881 403v2M883 79v3M883 292v3M883 328v3M883 379v3M885 391v3M887 292v3M887 316v3M887 400v3M889 283v3M889 310v3M889 328v3M889 376v3M889 397v3M889 403v2M891 310v3M891 385v6M891 400v3M893 280v3M893 379v3M893 391v3M893 400v5M895 280v3M895 307v3M895 325v3M895 373v9M897 280v3M897 319v3M897 391v6M899 322v3M899 382v6M899 394v3M901 328v3M903 307v3M903 319v3M903 331v3M903 337v3M903 385v3M905 280v3M905 373v3M907 307v3M907 322v9M907 379v6M907 403v2M909 325v3M909 331v3M909 337v6M909 376v9M909 388v3M909 400v3M911 388v3M913 328v6M913 343v3M913 358v3M913 379v3M915 337v3M915 349v3M915 373v6M917 295v3M917 301v3M917 337v3M917 343v3M917 364v3M917 373v6M919 322v3M919 340v3M919 352v6M923 343v3M923 367v3M925 352v3M925 370v3M925 382v3M943 349v3M947 355v3M951 370v3"/>
<path stroke="#00ff64" stroke-width="2" d="M465 52v3M465 61v3M465 313v3M467 64v3M467 292v9M467 331v3M467 367v3M467 373v6M469 85v3M469 259v3M469 292v3M469 298v3M469 370v3M471 295v3M471 304v6M471 316v12M473 52v9M473 82v3M473 289v3M473 325v3M475 94v3M475 229v3M475 241v3M475 262v3M477 52v6M477 250v3M477 274v3M479 61v3M479 94v3M479 100v6M479 235v3M479 241v6M479 271v3M479 286v3M481 55v3M481 253v3M481 259v3M483 241v6M483 253v3M485 58v6M485 259v3M487 241v3M487 250v6M489 250v3M491 67v3M491 268v3M491 319v6M493 250v6M493 259v3M493 265v3M493 271v6M493 325v6M493 358v6M495 226v3M495 265v6M495 316v3M497 244v6M497 271v6M497 286v6M497 328v3M499 70v3M499 220v3M499 265v6M499 280v3M501 238v3M501 247v3M501 253v3M501 274v3M501 316v9M503 313v3M505 61v6M505 262v3M507 232v6M507 259v3M507 265v6M507 319v3M509 319v9M511 307v3M513 331v3M515 256v3M515 262v3M515 307v3M515 313v3M515 379v3M515 391v3M517 247v3M517 268v6M517 307v3M517 313v3M517 367v6M519 244v3M521 244v3M521 343v3M523 79v3M523 250v3M525 73v3M525 241v3M525 247v3M527 235v3M529 238v6M529 307v6M529 367v3M529 403v2M531 238v3M531 244v3M531 307v3M531 325v3M531 367v3M531 376v3M531 388v3M533 220v3M535 73v3M537 223v3M539 79v3M539 220v3M541 76v3M543 238v3M545 241v3M547 241v3M551 229v3M553 67v3M553 220v3M561 235v3M563 214v3M563 235v3M565 229v3M569 247v3M569 310v6M569 322v6M571 250v9M571 274v6M571 334v3M573 244v3M573 259v3M573 271v3M573 328v3M575 247v3M575 253v3M575 283v3M575 289v6M575 298v3M575 325v3M575 343v9M575 361v6M575 370v9M577 292v3M577 304v3M577 346v3M577 355v3M579 301v3M579 340v3M581 283v3M581 337v3M583 238v3M583 244v3M583 265v6M583 277v3M583 310v3M583 319v3M583 325v3M583 334v3M587 232v3M589 226v6M591 232v3M593 229v3M595 223v3M595 232v3M601 235v3M603 241v3M605 277v3M607 262v3M607 298v3M607 376v3M607 400v3M611 331v6M611 346v3M611 376v6M611 385v3M621 70v3M621 367v3M621 388v6M625 367v3M625 388v9M627 370v3M627 385v3M635 385v3M635 391v3M637 76v6M637 328v3M637 340v3M637 349v3M637 358v3M647 394v3M649 394v6M651 361v3M653 307v3M653 343v3M655 391v6M655 403v2M683 376v3M683 382v3M685 82v3M691 394v3M705 364v3M705 379v3M705 403v2M709 70v3M749 391v3M759 352v3M759 358v6M767 79v3M775 58v3M775 70v3M777 70v3M779 76v3M785 79v3M787 67v3M787 79v3M791 73v3M793 67v3M795 70v3M799 73v3M801 76v3M805 70v3M809 88v3M811 67v3M813 64v3M813 166v3M815 169v3M815 175v3M817 67v3M817 88v3M817 169v9M819 85v6M821 85v6M823 184v3M825 64v3M827 85v3M829 70v3M829 82v3M831 76v6M831 157v3M831 184v3M833 184v3M833 361v6M835 70v3M835 76v3M835 82v3M835 373v3M835 394v3M837 73v3M837 91v3M837 187v3M837 346v3M837 358v3M837 367v3M839 349v3M839 367v3M841 64v3M841 160v9M841 184v9M841 355v3M841 361v3M843 91v3M843 157v3M843 196v3M843 364v3M843 370v3M843 403v2M845 67v3M845 193v3M845 352v3M845 370v3M847 64v3M847 196v3M847 373v3M847 382v6M847 391v3M849 202v3M849 382v3M849 403v2M851 61v3M851 88v3M851 373v3M853 163v3M853 208v3M853 256v3M853 364v6M853 373v3M853 400v3M855 130v3M855 217v9M855 253v6M855 286v3M855 295v3M855 349v6M857 97v3M857 112v3M857 127v6M857 223v3M857 229v3M857 235v6M857 259v9M857 367v3M857 376v6M859 58v3M859 118v3M859 166v3M859 289v9M859 370v3M859 379v3M859 391v3M861 124v3M861 394v3M863 361v3M863 367v3M863 388v3M865 172v3M865 352v3M865 361v3M865 367v3M865 373v3M865 388v3M865 394v3M865 403v2M867 64v3M867 337v3M867 343v3M867 373v3M867 382v3M867 388v6M869 166v3M869 319v3M869 370v3M871 91v3M871 103v3M871 130v3M871 295v3M871 310v6M871 322v6M871 355v3M871 361v3M871 376v3M871 388v3M871 400v5M873 121v6M875 310v3M877 163v3M877 199v3M877 205v3M877 211v9M879 193v3M879 295v12M879 328v3M879 376v9M879 394v3M881 343v6M881 367v3M883 307v3M883 331v3M883 346v3M883 376v3M885 292v3M885 298v3M885 328v6M885 367v3M885 394v6M885 403v2M887 298v3M887 322v3M887 328v3M887 391v3M889 280v3M889 286v3M889 292v15M889 373v3M889 400v3M891 283v3M891 301v3M891 391v6M891 403v2M893 283v3M893 382v3M895 283v3M895 313v6M895 322v3M895 367v6M897 283v6M897 307v3M897 316v3M897 322v6M899 283v6M899 319v3M899 325v3M899 370v3M899 379v3M899 397v8M903 286v3M903 313v6M903 325v3M903 340v3M903 364v3M903 370v3M903 382v3M905 325v3M905 385v3M905 394v6M907 286v3M907 319v3M907 331v3M907 340v3M907 358v6M907 385v3M909 289v3M909 295v3M909 328v3M909 334v3M909 364v3M909 373v3M909 385v3M909 403v2M911 298v3M911 328v3M911 376v3M913 307v3M913 334v3M913 340v3M913 346v3M913 355v3M913 361v3M913 367v3M913 382v6M915 301v6M915 328v3M915 352v3M915 361v6M915 385v3M917 340v3M917 349v3M917 361v3M919 346v6M919 376v3M919 385v3M921 340v3M921 379v3M923 349v3M923 355v3M923 361v3M925 358v3M927 349v3M927 367v3M929 307v3M929 328v3M929 343v3M931 307v3M931 340v3M933 355v3M951 352v3"/>
<path stroke="#00ff54" stroke-width="2" d="M459 295v3M459 301v3M459 307v3M461 295v3M461 301v3M461 307v3M463 295v3M463 301v3M463 307v3M465 289v3M465 298v3M465 322v9M467 52v6M467 61v3M467 67v3M467 73v6M467 304v3M467 370v3M469 52v3M469 283v6M469 295v3M469 316v3M469 328v3M469 367v3M469 376v3M471 52v6M471 310v6M471 328v3M471 373v6M473 295v3M473 304v3M473 316v6M473 328v3M475 52v3M475 58v3M475 91v3M475 244v6M475 265v3M477 61v3M477 103v3M477 277v6M479 238v3M479 247v3M479 265v3M479 280v6M481 79v3M481 91v3M481 100v3M481 235v3M481 250v3M481 289v3M483 82v3M483 235v3M485 256v3M485 262v3M489 253v3M489 259v6M489 307v6M489 316v3M491 76v3M491 232v6M491 256v3M491 280v3M491 313v3M491 325v3M493 277v6M493 307v3M493 316v6M495 250v3M495 259v6M495 283v6M495 328v3M495 358v3M497 250v3M497 256v3M497 316v3M499 277v3M501 241v3M501 256v3M501 268v6M501 283v3M501 310v6M503 238v6M503 262v3M503 316v3M505 259v3M505 313v3M507 250v6M507 271v6M507 307v6M509 313v3M509 328v3M511 259v6M513 334v3M515 247v3M515 259v3M515 265v3M515 334v3M515 370v9M515 385v3M517 253v6M517 265v3M517 274v3M519 82v3M519 100v3M519 247v3M519 307v3M521 58v3M521 76v3M521 334v3M523 247v3M523 256v3M523 274v3M525 250v3M525 337v3M527 241v3M527 247v3M529 244v3M529 250v3M529 313v3M529 394v3M531 340v6M533 82v3M535 67v3M537 235v3M541 235v3M547 232v3M547 244v3M551 238v3M553 73v3M565 199v3M565 235v3M565 244v3M567 235v6M567 244v6M569 316v3M571 259v6M571 280v6M571 289v3M571 295v3M573 280v3M573 298v3M575 274v3M575 286v3M575 295v3M575 328v3M575 352v3M575 358v3M577 298v3M577 340v3M577 367v3M579 286v9M579 304v3M579 355v3M579 364v3M579 373v6M581 238v3M581 340v6M583 259v3M583 274v3M583 313v3M591 235v3M597 241v9M599 235v3M603 250v3M605 244v3M605 262v3M605 271v3M605 286v3M607 265v3M609 343v3M611 352v3M611 361v3M611 370v6M611 382v3M619 388v3M621 73v3M621 400v3M625 370v3M625 379v3M625 385v3M627 373v3M627 400v5M629 400v3M635 382v3M637 337v3M637 343v3M637 355v3M637 367v3M647 373v6M649 391v3M649 403v2M651 367v3M653 346v3M655 388v3M655 397v3M683 64v3M691 397v3M709 67v3M709 73v3M765 67v3M765 82v6M769 67v3M769 82v3M779 67v9M783 364v3M785 67v3M789 67v3M789 73v9M791 64v3M791 70v3M813 73v3M815 76v3M815 172v3M817 160v9M821 157v3M823 181v3M825 70v3M827 67v6M827 88v3M827 157v3M827 205v3M827 214v3M829 73v3M829 181v3M833 70v3M833 76v6M833 175v9M833 358v3M835 67v3M835 79v3M837 70v3M837 190v3M837 379v3M839 85v3M839 157v3M839 163v3M839 181v12M839 373v3M841 67v6M841 85v3M841 181v3M841 352v3M841 382v3M843 70v3M843 361v3M843 376v3M843 382v3M845 85v3M845 379v3M847 85v3M847 163v3M847 367v3M849 361v3M849 373v3M851 163v3M853 361v3M853 370v3M855 208v6M855 250v3M855 280v3M855 358v3M855 376v3M855 382v3M857 58v3M857 91v6M857 232v3M857 247v3M857 268v3M857 286v3M857 292v15M857 364v3M857 391v6M857 400v3M859 109v3M859 235v6M859 250v9M859 262v27M859 298v9M859 373v3M861 166v3M863 172v3M863 373v3M865 85v3M865 181v3M865 295v3M865 343v3M865 382v6M867 88v3M867 169v6M867 295v3M867 346v3M867 361v3M867 376v3M867 397v3M869 64v3M869 88v3M869 100v3M869 124v3M869 292v6M869 337v3M869 379v3M871 166v3M871 292v3M871 337v3M871 346v3M871 370v3M871 391v3M873 115v3M873 133v3M877 202v3M879 82v3M879 172v3M879 190v3M879 334v9M879 373v3M881 307v3M881 334v3M881 349v3M881 370v3M881 394v3M883 304v3M883 334v3M883 349v3M883 373v3M883 388v3M883 403v2M885 295v3M885 301v6M885 337v9M885 349v3M885 361v3M885 370v3M885 382v3M885 400v3M887 295v3M887 304v3M887 310v3M889 331v3M889 382v3M889 394v3M891 286v9M891 298v3M891 328v3M891 373v6M891 382v3M891 397v3M893 289v3M893 373v3M893 397v3M895 286v3M895 331v3M897 310v6M897 334v3M897 388v3M897 397v3M899 310v3M899 328v6M899 376v3M901 316v3M901 331v3M903 289v3M903 343v3M903 361v3M903 367v3M903 388v3M903 397v3M903 403v2M905 286v3M905 343v3M905 361v6M905 382v3M905 388v3M907 283v3M907 289v9M907 337v3M907 343v3M907 355v3M909 298v3M909 358v3M909 367v6M911 325v3M911 331v3M913 301v3M915 346v3M915 355v3M917 298v3M917 304v3M917 322v3M917 352v3M917 379v6M923 352v3M927 355v3M943 346v3"/>
<path stroke="#00ff44" stroke-width="2" d="M465 301v6M469 61v3M469 73v3M469 301v3M469 364v3M471 331v3M471 379v3M473 76v6M473 301v3M473 322v3M475 79v3M475 280v3M477 118v3M477 286v6M479 52v3M479 262v3M479 268v3M479 274v3M479 289v3M481 52v3M481 64v3M481 85v3M481 262v9M481 292v3M483 52v3M483 85v3M483 247v3M483 262v6M483 283v3M485 55v3M487 256v6M487 265v3M489 313v3M489 319v9M489 358v3M491 271v3M491 277v3M491 307v6M491 316v3M493 262v3M493 289v3M493 322v3M495 256v3M495 313v3M497 331v3M497 358v3M499 322v3M501 262v6M501 307v3M505 268v3M505 307v3M505 316v3M505 325v3M507 262v3M507 313v3M509 256v3M509 265v3M511 268v3M511 310v3M513 337v3M515 253v3M515 268v3M515 340v3M515 382v3M515 400v5M517 277v3M517 340v3M517 373v3M519 106v3M519 250v3M519 268v3M521 70v3M521 250v3M523 262v3M523 268v6M525 364v3M527 238v3M527 250v3M527 265v9M529 400v3M531 241v3M531 247v3M531 328v6M531 397v3M533 232v3M535 226v3M539 235v3M543 223v3M545 244v3M549 244v3M555 232v6M563 229v3M563 238v3M565 238v3M567 226v3M567 241v3M569 244v3M569 250v3M569 319v3M569 328v3M571 292v3M571 298v3M571 337v12M571 352v27M573 292v3M573 316v3M575 340v3M575 355v3M575 367v3M577 358v9M579 295v3M579 334v3M579 358v3M579 367v6M581 346v3M583 328v3M583 337v6M589 235v3M593 235v3M597 238v3M597 250v3M601 88v3M601 238v3M601 244v6M609 352v3M611 343v3M611 358v3M611 364v3M611 391v9M611 403v2M625 376v3M635 388v3M637 364v3M647 382v3M651 364v3M681 403v2M683 76v6M683 379v3M685 61v3M687 70v3M691 73v3M705 397v3M765 70v9M769 61v3M769 70v3M775 73v3M775 79v3M783 76v3M785 76v3M787 73v3M811 70v3M811 76v3M813 70v3M813 76v3M813 169v3M817 79v3M817 85v3M819 82v3M819 160v3M819 169v9M821 82v3M823 67v3M823 82v3M823 157v3M823 178v3M825 181v3M827 73v3M827 181v3M829 76v6M829 157v3M829 178v3M831 160v3M831 181v3M833 172v3M835 181v6M835 376v3M837 85v3M837 160v3M837 184v3M837 370v3M837 376v3M839 166v3M839 403v2M841 169v3M843 163v3M843 349v3M843 373v3M843 385v3M845 70v3M845 163v3M845 187v3M845 361v3M845 373v3M847 67v6M849 358v3M849 367v3M849 388v3M851 199v3M851 361v3M853 61v3M853 91v3M853 220v3M853 226v3M853 349v6M853 358v3M853 388v6M853 397v3M855 58v3M855 160v6M855 214v3M855 247v3M855 277v3M855 355v3M855 361v3M855 373v3M855 403v2M857 220v3M857 226v3M857 250v6M857 358v3M859 61v3M859 88v6M859 169v3M859 220v3M859 229v6M859 241v9M859 259v3M859 364v3M861 61v3M861 88v3M861 112v3M861 232v3M861 298v3M861 352v3M861 361v3M861 373v3M861 382v3M863 85v3M863 175v3M863 298v3M865 64v3M865 175v6M865 184v3M865 376v3M865 400v3M867 178v3M867 349v3M867 394v3M869 85v3M869 121v3M869 136v3M869 163v3M869 298v3M869 331v3M869 364v6M869 376v3M869 382v3M869 394v3M871 85v3M871 235v3M871 241v3M871 262v3M871 280v3M871 289v3M871 298v3M871 343v3M871 349v6M871 358v3M871 364v6M873 70v3M873 85v3M873 106v3M873 145v3M877 166v3M879 175v15M881 337v3M881 382v9M883 295v6M883 325v3M883 352v3M885 346v3M885 364v3M885 385v3M887 301v3M889 340v3M889 355v9M889 385v3M891 280v3M891 295v3M891 304v3M891 319v9M891 370v3M891 379v3M893 286v3M893 313v3M893 319v3M893 328v3M893 394v3M895 289v3M895 364v3M897 331v3M897 400v3M899 289v3M899 316v3M899 337v3M899 367v3M901 283v3M901 319v3M901 334v3M901 340v3M903 292v3M903 346v3M903 400v3M905 295v3M905 331v3M905 346v3M905 367v3M905 376v3M907 400v3M909 343v3M909 355v3M909 361v3M911 358v3M913 304v3M913 322v3M913 352v3M915 340v6M915 358v3M915 382v3M917 325v3M917 367v3M917 403v2M919 358v6M919 373v3M919 391v3M921 370v6M923 358v3M927 358v3M929 358v3M943 355v3"/>
<path stroke="#00ff35" stroke-width="2" d="M459 292v3M459 298v3M459 304v3M461 292v3M461 298v3M461 304v3M463 292v3M463 298v3M463 304v3M465 292v6M467 364v3M469 70v3M469 304v3M469 379v3M469 388v6M471 286v3M471 364v3M473 61v15M473 292v3M473 307v3M473 313v3M473 331v3M475 232v3M475 238v3M475 289v3M477 79v3M477 325v3M479 73v3M479 256v3M479 277v3M479 313v6M479 322v3M481 58v3M481 232v3M481 241v3M481 286v3M481 307v3M481 313v3M483 250v3M483 268v3M483 277v6M483 289v3M485 64v3M485 250v3M485 268v3M485 292v3M487 304v3M487 322v6M487 352v6M489 280v12M489 295v3M489 301v6M489 328v3M489 352v6M491 238v3M491 244v3M491 283v6M491 331v3M493 310v3M493 355v3M495 235v3M495 244v3M495 271v3M495 301v6M497 292v3M497 304v3M497 355v3M497 361v3M499 256v3M501 229v3M501 244v3M501 286v3M501 325v3M503 265v3M505 277v3M505 319v3M507 256v3M507 277v6M507 316v3M507 322v3M509 262v3M509 295v6M509 304v3M509 316v3M511 271v3M511 316v3M513 283v3M513 295v9M513 391v3M513 403v2M515 271v3M515 361v6M515 394v6M517 280v3M517 286v9M517 310v3M517 382v6M519 253v6M519 292v3M521 247v3M523 253v3M523 265v3M523 280v12M523 295v3M525 274v3M525 292v3M527 262v3M527 274v33M529 253v3M531 250v3M531 334v3M531 394v3M531 403v2M533 79v3M533 91v3M533 235v3M533 322v3M533 328v6M535 85v3M541 238v3M545 247v6M551 235v3M553 229v3M555 238v3M559 223v3M561 232v3M561 241v3M563 247v3M565 232v3M567 307v3M569 259v3M569 265v3M569 277v9M571 271v3M571 301v6M571 349v3M573 289v3M573 301v3M573 337v3M575 244v3M575 262v3M575 301v6M581 286v9M581 352v3M583 250v6M583 343v3M587 235v3M589 232v3M589 271v3M589 337v3M591 229v3M591 241v3M591 337v3M593 250v3M593 256v3M593 343v3M595 235v3M595 250v6M597 235v3M597 253v12M599 220v3M599 232v3M599 238v3M601 241v3M601 250v3M603 253v3M603 262v6M603 277v3M603 286v3M605 268v3M605 283v3M611 388v3M611 400v3M621 385v3M621 394v6M627 388v3M635 370v3M635 376v3M637 361v3M637 370v3M653 358v3M685 64v3M685 79v3M759 373v3M775 82v3M777 73v3M783 55v3M787 70v3M803 67v3M811 73v3M819 70v6M819 79v3M819 163v3M821 70v6M823 70v6M825 157v3M825 178v3M829 175v3M831 175v3M833 73v3M833 157v3M835 73v3M835 160v3M835 172v3M835 178v3M837 76v6M837 175v9M837 382v3M837 388v3M839 82v3M839 160v3M839 169v3M839 178v3M841 73v3M841 82v3M841 178v3M843 73v3M843 85v3M843 160v3M843 184v3M843 346v3M845 73v3M845 166v3M845 184v3M845 190v3M845 367v3M847 82v3M847 193v3M849 64v3M849 352v6M849 370v3M849 385v3M851 82v6M851 355v3M853 64v3M853 166v3M853 205v3M853 346v3M855 61v3M855 205v3M855 271v3M855 385v3M855 391v3M857 88v3M857 166v6M857 283v3M859 85v3M859 115v3M859 226v3M859 358v3M861 118v6M861 226v6M861 235v3M861 256v3M861 295v3M861 385v3M861 400v3M863 178v6M863 289v6M863 301v3M865 187v3M865 292v3M865 298v3M865 325v3M865 337v3M865 364v3M867 175v3M867 181v6M867 289v3M867 298v3M869 133v3M869 268v6M869 289v3M869 301v3M871 169v3M871 232v3M871 238v3M871 268v3M871 277v3M871 283v3M871 382v3M871 394v3M873 67v3M873 88v3M873 307v3M875 109v3M877 169v3M877 193v6M881 301v3M881 397v6M883 301v3M883 322v3M883 370v3M883 385v3M885 352v3M885 358v3M885 388v3M887 361v3M887 379v3M889 289v3M889 337v3M889 349v6M889 367v3M889 391v3M891 334v3M891 346v3M893 292v6M893 301v3M893 370v3M895 292v3M895 301v6M895 361v3M897 289v6M897 367v6M897 385v3M899 334v3M899 364v3M901 313v3M901 322v3M901 337v3M901 388v3M901 403v2M903 295v6M903 349v3M903 355v6M903 379v3M903 391v6M905 289v6M905 334v3M905 358v3M905 400v3M907 346v3M907 388v3M907 397v3M909 301v3M911 301v3M911 385v3M913 370v3M915 331v6M917 358v3M919 370v3M921 376v3M943 352v3M943 358v3"/>
<path stroke="#00ff25" stroke-width="2" d="M465 331v3M467 301v3M467 361v3M467 379v3M469 64v6M469 82v3M469 331v3M469 382v6M471 61v3M471 292v3M471 343v3M471 358v6M473 298v3M473 310v3M473 334v3M473 376v6M475 64v3M475 82v3M475 250v3M475 301v3M477 292v3M479 64v3M479 298v3M479 307v6M479 325v3M481 70v3M481 238v3M481 247v3M481 277v3M481 283v3M481 295v3M481 301v6M481 310v3M481 319v6M483 91v3M483 271v3M483 292v3M483 304v3M483 316v9M485 265v3M485 280v3M485 295v3M485 304v3M487 268v3M487 307v3M487 316v6M491 229v3M491 250v6M491 328v3M491 355v9M493 313v3M493 331v3M493 337v3M493 352v3M493 364v3M495 289v3M495 340v3M495 346v3M495 361v6M497 301v3M497 337v6M497 352v3M499 259v3M499 274v3M499 283v3M499 325v3M501 280v3M501 289v3M503 283v3M503 298v3M503 319v3M505 229v3M507 295v3M507 325v3M509 289v3M509 301v3M509 331v3M511 265v3M511 286v3M511 292v3M511 313v3M511 319v3M513 265v6M513 277v6M513 289v6M513 358v3M513 379v3M513 388v3M513 394v9M515 274v3M515 283v3M515 337v3M515 355v3M517 283v3M517 295v6M519 265v3M519 277v3M519 289v3M521 271v3M523 277v3M523 292v3M523 298v3M525 253v3M525 259v3M525 295v6M527 256v3M529 256v3M529 265v6M531 256v6M531 391v3M533 316v3M533 334v9M535 61v3M535 223v3M537 238v3M543 61v3M545 253v3M547 247v6M549 247v3M551 232v3M551 241v3M553 70v3M557 241v3M559 214v3M561 214v3M565 319v3M567 253v3M567 259v9M569 256v3M569 262v3M569 268v6M569 298v3M569 304v3M569 355v3M569 361v3M571 286v3M573 253v3M573 304v3M573 346v3M573 370v6M577 301v3M577 343v3M577 349v3M577 373v6M577 385v3M579 298v3M579 352v3M579 361v3M579 379v3M581 295v3M581 349v3M581 358v3M581 364v6M581 376v3M583 241v3M583 256v3M583 271v3M583 331v3M585 262v3M585 271v3M587 307v6M587 334v3M589 247v3M589 259v3M589 265v6M589 340v3M591 238v3M591 253v9M591 265v9M591 343v6M593 241v6M593 253v3M593 259v3M593 271v3M593 337v6M593 346v6M593 355v6M595 241v3M595 247v3M595 256v3M595 262v3M597 265v9M601 82v3M603 256v6M603 268v3M603 280v3M603 289v3M605 289v3M605 304v3M621 76v3M621 370v3M627 391v3M629 79v3M635 379v3M647 385v3M651 373v3M653 379v3M653 397v8M685 76v3M705 400v3M759 379v3M759 400v3M769 64v3M773 79v3M777 82v3M781 76v3M783 67v3M783 79v3M787 76v3M789 70v3M793 76v3M817 73v6M819 166v3M821 163v3M821 175v3M823 76v6M823 172v3M825 67v3M825 76v3M827 82v3M827 178v3M829 172v3M831 163v3M831 172v3M831 178v3M835 157v3M835 169v3M835 175v3M837 67v3M837 163v3M837 385v3M839 64v3M841 79v3M841 172v3M843 352v6M845 76v3M845 82v3M845 169v3M845 178v6M847 73v6M847 187v3M849 88v3M849 163v3M849 196v3M851 64v3M851 166v3M851 196v3M853 82v9M853 169v3M853 202v3M855 367v3M855 379v3M855 400v3M857 79v6M857 136v3M857 208v12M857 244v3M857 256v3M857 289v3M859 223v3M861 127v3M861 265v9M861 292v3M861 304v3M861 403v2M863 64v3M863 82v3M863 184v3M863 223v6M863 232v3M863 247v9M863 259v6M863 277v3M865 82v3M865 244v6M865 271v6M865 289v3M865 301v3M865 397v3M867 67v3M867 301v3M867 340v3M867 352v3M867 358v3M867 370v3M869 130v3M869 172v3M869 244v3M869 250v6M869 259v9M869 274v9M869 304v3M869 355v3M869 373v3M871 244v6M871 256v6M871 274v3M871 286v3M871 304v3M873 82v3M873 100v3M873 142v3M873 148v3M875 76v3M875 142v6M879 331v3M881 304v3M883 343v3M883 364v3M883 400v3M885 376v3M887 331v3M887 364v3M887 376v3M889 343v3M889 364v3M889 379v3M891 349v3M891 355v3M893 298v3M893 304v3M893 316v3M893 364v3M897 337v3M897 403v2M899 313v3M899 343v3M899 361v3M901 325v3M901 343v3M901 376v3M903 352v3M903 373v3M905 298v6M905 310v6M905 322v3M905 355v3M907 298v3M907 352v3M909 304v3M909 349v3M911 337v3M911 349v3M913 364v3M913 376v3M915 388v3M917 328v3M917 370v3M919 343v3M919 364v3M919 379v3M925 343v3M925 379v3M927 352v3M931 343v3"/>
<path stroke="#00ff15" stroke-width="2" d="M469 79v3M469 265v3M469 337v3M469 355v3M469 394v3M471 355v3M471 385v3M471 391v3M473 337v3M473 346v9M473 373v3M473 382v9M475 61v3M475 73v3M475 88v3M475 235v3M475 283v3M475 292v3M475 298v3M475 322v3M475 331v3M477 310v3M477 322v3M477 328v3M479 67v3M479 301v6M479 319v3M479 328v3M481 61v3M481 67v3M481 76v3M481 271v3M481 280v3M481 316v3M483 70v3M483 76v3M483 274v3M483 286v3M483 313v3M483 325v3M485 298v6M485 307v3M485 313v9M485 325v6M485 349v6M487 328v6M487 349v3M487 358v3M489 298v3M489 331v3M489 346v3M489 361v3M491 241v3M491 352v3M493 334v3M493 343v6M495 241v3M495 247v3M495 295v6M495 343v3M495 349v9M495 367v3M497 298v3M497 334v3M497 343v6M497 364v6M499 235v3M499 271v3M501 277v3M501 328v6M503 268v3M503 304v3M503 325v3M505 286v3M505 310v3M505 322v3M505 328v3M507 301v6M509 280v9M509 292v3M509 334v3M511 277v3M511 283v3M511 289v3M511 295v3M513 286v3M513 340v6M513 355v3M513 361v3M513 367v6M513 382v6M515 343v3M515 352v3M519 271v3M519 286v3M519 295v3M521 259v3M521 298v3M521 304v3M521 349v3M521 373v6M523 259v3M523 304v3M525 256v3M525 265v3M525 277v3M525 289v3M527 253v3M529 259v6M529 271v6M529 280v3M529 325v3M531 253v3M531 262v3M531 274v3M531 400v3M533 238v3M533 244v3M533 307v3M533 325v3M535 217v3M535 256v3M537 247v3M541 79v3M545 256v6M545 286v3M547 253v12M555 241v3M555 247v3M557 247v3M559 217v6M559 238v3M559 244v3M561 244v3M561 250v3M563 244v3M563 259v3M565 256v3M567 250v3M567 256v3M567 268v9M567 280v3M567 289v3M567 295v6M567 310v3M567 334v3M569 274v3M569 286v3M569 337v3M569 343v9M569 358v3M569 364v6M569 376v3M571 379v3M573 256v3M573 286v3M573 295v3M573 331v3M573 355v9M573 379v3M575 379v3M577 382v3M577 388v3M579 382v3M581 298v9M581 355v3M581 361v3M581 373v3M581 379v3M583 247v3M585 232v3M585 268v3M585 310v3M587 244v3M587 262v3M587 271v3M587 313v3M589 238v9M589 250v3M589 307v3M589 334v3M591 250v3M591 274v3M591 331v6M591 340v3M593 238v3M593 334v3M593 352v3M595 244v3M595 265v3M595 334v3M595 343v3M595 349v3M599 274v3M601 253v3M601 259v3M601 271v3M603 271v3M603 283v3M609 346v6M621 379v6M635 373v3M683 67v3M683 82v3M685 73v3M759 376v3M759 382v3M759 397v3M781 64v3M781 79v3M793 73v3M817 70v3M821 76v6M821 160v3M821 166v3M827 166v3M829 163v3M831 169v3M835 382v3M837 166v3M837 172v3M839 88v3M839 370v3M841 175v3M843 88v3M843 178v3M843 187v3M843 193v3M845 172v3M845 385v3M847 79v3M847 166v9M847 184v3M847 190v3M849 349v3M849 397v6M851 79v3M851 169v12M851 193v3M851 358v3M853 172v3M853 382v3M853 394v3M855 79v3M855 91v3M855 166v3M855 202v3M857 61v3M857 133v3M857 172v3M857 205v3M857 241v3M857 403v2M859 79v6M859 172v3M859 217v3M861 85v3M861 169v6M861 250v6M861 262v3M861 280v12M861 301v3M861 367v3M861 376v3M861 397v3M863 187v3M863 220v3M863 229v3M863 235v3M863 241v6M863 256v3M863 265v9M863 280v9M863 295v3M863 304v3M865 190v3M865 223v21M865 250v9M865 262v9M865 277v9M865 304v3M867 187v3M867 226v3M867 232v6M867 241v3M867 247v6M867 256v3M867 274v6M867 283v6M867 292v3M867 304v3M869 67v3M869 127v3M869 232v3M869 241v3M869 247v3M869 256v3M869 283v6M869 334v3M869 400v3M871 172v3M871 226v6M871 253v3M871 271v3M871 301v3M871 340v3M875 58v3M875 73v3M875 79v3M875 148v3M875 154v3M877 73v3M877 172v3M881 298v3M883 361v3M885 334v3M885 355v3M885 379v3M887 334v3M887 373v3M889 346v3M889 388v3M891 331v3M891 358v6M893 322v3M893 340v3M893 346v3M893 355v3M893 361v3M895 295v6M897 301v3M897 343v6M897 379v6M899 292v3M899 340v3M899 349v3M901 352v6M901 394v3M903 301v3M905 307v3M905 319v3M905 379v3M907 304v3M907 334v3M911 304v3M911 343v3M911 355v3M917 319v3M917 331v3M917 388v3M921 358v3"/>
<path stroke="#00ff05" stroke-width="2" d="M459 337v3M459 367v3M459 373v3M459 379v3M461 337v3M461 367v3M461 373v3M461 379v3M463 337v3M463 367v3M463 373v3M463 379v3M467 337v6M467 382v3M469 352v3M471 64v3M471 79v3M471 382v3M471 388v3M473 340v6M473 355v6M473 370v3M473 391v6M475 295v3M477 70v6M477 88v3M477 97v3M477 298v3M477 304v3M481 274v3M483 58v3M483 310v3M483 331v3M485 67v3M485 283v3M485 310v3M485 322v3M487 301v3M487 313v3M487 346v3M487 361v3M489 271v9M489 292v3M489 364v3M491 247v3M491 298v3M491 346v3M491 367v3M493 304v3M493 340v3M493 349v3M493 370v3M495 238v3M495 292v3M495 370v3M497 295v3M499 241v3M499 253v3M499 262v3M501 298v3M503 280v3M503 301v3M505 232v3M505 265v3M505 274v3M507 286v3M507 292v3M507 328v3M509 268v3M509 277v3M511 274v3M511 328v6M511 337v3M513 271v3M513 346v6M513 364v3M513 373v6M515 244v3M515 277v3M515 289v3M515 295v3M515 301v3M515 367v3M519 283v3M519 298v3M521 256v3M521 337v3M525 262v3M525 280v3M525 301v3M525 343v3M529 277v3M531 265v3M531 271v3M531 280v3M533 229v3M533 241v3M533 247v3M533 319v3M535 64v3M535 70v3M535 82v3M535 253v3M537 241v6M537 250v3M539 232v3M539 247v3M539 259v3M541 241v3M541 286v3M543 244v6M543 286v3M545 262v3M545 289v3M547 265v3M547 286v3M549 250v3M549 256v9M551 226v3M553 235v3M557 244v3M557 250v3M559 235v3M561 247v3M563 241v3M563 250v3M565 250v3M565 286v3M565 301v3M565 322v3M567 277v3M567 283v3M567 325v3M567 331v3M567 373v6M569 238v3M569 253v3M569 340v3M569 352v3M569 370v3M571 382v3M573 376v3M575 403v2M577 379v3M579 241v3M579 331v3M579 385v3M579 394v3M581 370v3M583 283v3M583 346v6M585 256v3M587 241v3M587 274v9M587 331v3M587 337v6M587 346v3M589 253v6M589 274v9M589 310v6M589 343v3M591 244v6M591 262v3M591 310v3M591 328v3M591 349v6M593 247v3M593 331v3M593 361v3M595 238v3M595 268v6M595 337v3M597 274v3M597 331v3M601 256v3M601 262v3M601 268v3M601 274v3M603 274v3M603 292v3M605 292v3M605 298v6M621 376v3M651 370v3M653 361v3M653 391v3M685 67v3M759 385v3M781 67v3M783 58v3M783 73v3M785 70v3M793 70v3M821 178v3M823 160v3M823 166v3M823 175v3M825 169v3M825 175v3M827 76v3M827 163v3M827 169v3M831 166v3M833 160v9M835 163v3M835 397v6M843 79v3M843 166v3M845 79v3M845 175v3M847 175v3M847 181v3M849 79v3M849 394v3M851 67v3M851 76v3M851 181v3M851 190v3M853 175v3M853 199v3M853 376v3M855 88v3M855 169v6M857 271v12M857 361v3M857 370v3M859 64v3M859 175v3M859 214v3M861 82v3M861 238v6M861 247v3M861 259v3M861 274v3M863 238v3M865 67v3M865 193v9M865 220v3M865 259v3M865 286v3M867 85v3M867 193v9M867 229v3M867 238v3M867 244v3M867 253v3M867 259v6M867 268v3M867 280v3M869 82v3M869 118v3M869 175v3M869 226v6M869 235v3M869 340v3M869 391v3M871 82v3M871 196v6M871 250v3M871 265v3M873 73v3M875 55v3M875 82v3M875 118v3M875 151v3M877 55v3M877 79v3M877 175v3M881 295v3M883 355v6M885 373v3M887 382v3M889 370v3M891 343v3M891 352v3M891 364v3M893 331v3M893 343v3M893 349v3M893 367v3M895 337v6M897 295v3M897 349v3M903 304v3M905 328v3M905 352v3M905 391v3M907 301v3M907 349v3M909 352v3M911 334v3M911 352v3M911 361v3M911 379v6M917 334v3M921 346v3M921 361v3"/>
<path stroke="#12ff00" stroke-width="2" d="M465 388v3M467 334v3M467 343v3M467 355v6M467 385v6M469 76v3M469 361v3M471 58v3M471 70v6M471 85v3M471 334v6M471 352v3M471 394v3M473 364v6M473 397v3M475 67v3M475 286v3M475 334v6M475 361v3M477 67v3M477 100v3M477 295v3M477 307v3M479 292v3M483 61v3M483 301v3M485 253v3M485 271v9M485 289v3M485 361v3M487 298v3M487 334v6M487 364v3M489 334v6M489 343v3M489 367v3M491 289v3M491 304v3M491 343v3M493 286v3M493 367v3M495 232v3M495 325v3M495 331v3M495 337v3M497 349v3M497 370v3M499 238v3M499 286v3M499 340v3M501 304v3M501 337v3M501 364v3M503 289v6M503 328v6M505 256v3M507 247v3M507 289v3M511 298v3M511 304v3M511 334v3M513 274v3M513 352v3M515 292v3M515 298v3M515 304v3M515 358v3M517 301v3M519 262v3M519 274v3M519 301v3M521 253v3M521 280v3M521 289v3M523 301v3M525 268v3M525 283v3M529 283v3M529 289v6M529 298v3M531 268v3M531 277v3M531 283v3M531 289v3M533 226v3M533 250v6M533 343v3M533 349v3M535 250v3M539 238v6M539 250v3M541 247v3M541 283v3M543 250v3M543 289v3M545 265v6M545 283v3M547 268v3M547 289v3M549 253v3M549 265v6M549 283v3M557 253v3M561 253v3M561 259v3M563 253v6M563 271v3M563 307v3M563 340v3M565 283v3M565 304v6M565 316v3M565 325v3M565 337v3M567 304v3M567 313v3M567 322v3M567 355v3M567 370v3M567 379v3M569 295v3M569 301v3M569 331v6M569 373v3M569 379v3M571 385v6M571 394v3M571 400v5M573 250v3M573 334v3M573 364v3M573 391v3M573 397v3M577 352v3M579 346v3M579 397v8M581 382v3M583 280v3M585 265v3M587 238v3M587 256v6M587 268v3M587 283v3M587 316v3M587 349v3M589 262v3M589 283v3M589 319v3M591 280v3M591 307v3M591 313v6M591 325v3M593 313v3M595 277v3M595 364v3M597 277v3M597 334v9M597 346v6M597 355v6M599 253v3M599 265v3M599 334v3M601 277v3M603 295v3M605 295v3M621 373v3M627 394v3M637 382v6M653 388v3M759 388v9M759 403v2M777 76v3M821 172v3M825 82v3M825 88v3M825 163v6M825 172v3M827 79v3M827 160v3M829 160v3M829 166v6M833 169v3M835 166v3M837 169v3M837 361v6M839 67v3M839 172v6M843 76v3M843 175v3M843 181v3M843 358v3M843 400v3M847 178v3M849 175v6M849 376v3M851 184v6M853 67v3M853 178v3M853 187v3M853 193v3M853 379v3M855 64v3M855 76v3M855 82v6M855 178v3M855 364v3M855 370v3M855 397v3M857 76v3M857 85v3M859 76v3M859 208v6M861 64v3M861 115v3M861 223v3M861 244v3M861 355v3M861 364v3M861 391v3M863 67v3M863 79v3M863 190v12M863 274v3M865 379v3M867 190v3M867 223v3M867 271v3M867 355v3M869 70v3M869 169v3M869 352v3M871 64v3M871 73v3M871 202v6M873 112v3M873 157v3M873 163v3M873 169v3M875 52v3M875 64v3M875 70v3M875 88v3M875 157v3M875 169v6M875 307v3M877 58v6M877 76v3M877 82v3M877 88v3M877 94v3M877 103v3M877 187v3M883 397v3M889 334v3M891 340v3M891 367v3M893 352v3M897 298v3M897 304v3M897 340v3M899 295v6M899 355v6M899 373v3M901 286v3M901 295v9M901 346v6M903 376v3M905 370v3M909 346v3M911 340v3M911 370v3M913 349v3M913 373v3M917 385v3M921 337v3"/>
<path stroke="#2cff00" stroke-width="2" d="M459 334v3M459 364v3M459 370v3M459 376v3M461 334v3M461 364v3M461 370v3M461 376v3M463 334v3M463 364v3M463 370v3M463 376v3M465 70v3M465 382v6M467 79v3M467 346v9M469 343v3M469 358v3M469 397v3M471 67v3M471 349v3M471 367v3M473 361v3M473 403v2M475 346v3M475 376v3M477 64v3M477 331v3M477 379v3M479 253v3M479 295v3M479 343v3M479 358v3M481 73v3M481 325v3M481 331v3M481 346v3M481 352v9M483 55v3M483 73v3M483 79v3M483 295v3M483 307v3M483 328v3M485 346v3M485 388v3M487 271v3M487 277v3M487 289v3M487 295v3M487 340v6M489 340v3M489 349v3M489 370v3M489 382v6M489 391v3M489 403v2M491 265v3M491 292v3M491 340v3M493 292v3M493 298v3M495 385v3M495 400v3M497 382v9M499 328v3M499 334v3M501 292v6M501 301v3M501 334v3M501 340v6M501 358v3M503 286v3M503 334v3M503 355v15M503 394v3M505 235v3M505 253v3M505 280v6M505 289v3M509 337v6M509 349v3M509 385v9M509 397v8M511 301v3M511 322v3M511 367v3M511 379v3M511 397v3M515 280v3M515 286v3M517 304v3M519 280v3M521 262v6M521 274v3M521 286v3M521 301v3M525 286v3M527 259v3M529 295v3M529 304v3M531 292v3M531 304v3M533 223v3M533 256v3M533 280v3M535 229v3M535 247v3M535 268v3M537 253v3M537 298v3M539 223v3M541 289v6M543 253v3M543 280v6M545 277v6M545 292v3M545 301v3M545 328v3M545 340v3M547 271v6M547 280v6M547 292v30M549 274v3M549 286v6M553 232v3M555 256v3M561 256v3M563 310v3M563 316v3M563 334v6M565 247v3M565 253v3M565 277v6M565 292v3M565 298v3M565 310v3M565 328v3M565 340v3M565 370v3M567 292v3M567 337v3M567 358v3M567 364v6M569 241v3M571 391v3M573 241v3M573 283v3M573 340v3M573 352v3M573 382v3M573 388v3M573 400v3M575 382v3M575 394v3M575 400v3M579 391v3M581 385v3M583 286v3M583 295v3M585 238v3M585 280v3M585 313v3M587 247v3M587 301v6M587 322v3M587 343v3M589 292v3M589 304v3M589 316v3M589 328v6M591 277v3M591 283v3M591 295v12M591 319v6M593 268v3M593 274v3M593 280v6M593 295v3M593 307v6M593 319v3M593 364v3M595 259v3M595 286v6M595 361v3M597 310v3M597 343v3M599 331v3M599 337v3M601 265v3M601 280v6M601 331v3M603 298v9M603 328v6M637 376v3M637 394v3M653 364v3M783 61v6M783 70v3M815 67v3M819 76v3M823 169v3M825 79v3M827 172v3M837 82v3M841 76v3M843 82v3M843 169v3M843 190v3M849 67v3M849 73v3M849 85v3M849 166v3M849 181v3M853 181v6M855 196v3M857 64v3M857 175v3M857 202v3M859 67v3M859 178v3M861 67v3M861 79v3M861 277v3M861 358v3M861 370v3M863 202v3M865 79v3M865 202v3M865 217v3M867 202v3M867 220v3M869 73v3M869 202v3M869 223v3M869 349v3M869 361v3M871 220v6M873 76v6M873 103v3M873 160v3M875 67v3M875 85v3M875 103v6M875 115v3M875 121v6M875 136v3M875 160v3M877 67v6M877 97v3M877 130v3M877 139v3M877 190v3M887 337v3M887 343v3M891 337v3M893 334v6M895 343v6M897 352v3M899 301v9M899 352v3M901 289v3M901 358v3M905 349v3M911 346v3M917 346v3M917 355v3M919 367v3M921 343v3M921 364v3"/>
<path stroke="#45ff00" stroke-width="2" d="M465 58v3M465 361v3M465 391v3M467 394v9M471 91v3M471 289v3M471 346v3M471 370v3M471 397v3M473 400v3M475 313v3M475 328v3M475 367v3M475 391v3M477 76v3M477 301v3M477 319v3M477 370v6M477 397v3M477 403v2M479 331v3M479 337v6M479 361v6M479 385v6M481 328v3M481 334v12M481 349v3M481 370v3M483 298v3M483 337v6M483 346v3M483 388v3M483 394v3M485 337v3M485 364v3M485 379v3M485 391v12M487 274v3M487 283v3M487 292v3M489 376v6M489 388v3M489 394v6M491 334v3M491 349v3M491 370v3M491 379v3M493 301v3M493 373v3M493 382v3M493 394v3M495 274v3M495 373v3M495 388v9M497 373v9M497 394v11M499 247v3M499 313v3M499 370v3M501 346v9M501 361v3M501 388v3M503 235v3M503 352v3M503 391v3M505 271v3M505 331v3M507 364v3M507 370v3M509 343v3M509 355v9M509 373v6M509 382v3M509 394v3M511 280v3M511 325v3M511 352v15M511 376v3M511 385v9M511 400v5M513 304v3M525 271v3M529 286v3M531 295v3M531 301v3M533 259v3M533 295v6M533 346v3M533 394v3M535 220v3M535 244v3M535 322v3M535 331v3M537 283v3M537 292v3M539 262v3M539 268v3M539 274v6M541 244v3M541 280v3M541 298v3M543 241v3M543 316v6M543 337v3M545 271v6M545 304v12M545 319v3M545 325v3M545 331v9M547 277v3M547 322v3M547 328v3M549 271v3M549 280v3M549 292v9M549 304v3M549 319v6M551 334v3M555 259v3M555 292v3M555 301v6M557 313v3M559 226v3M559 259v3M561 262v3M561 283v3M561 289v3M561 295v6M563 289v6M563 322v6M563 349v3M565 274v3M565 289v3M565 295v3M565 334v3M567 328v3M567 340v3M567 352v3M567 361v3M569 235v3M571 397v3M573 367v3M573 403v2M575 385v3M575 397v3M577 391v3M579 337v3M579 349v3M581 388v6M583 292v3M583 355v3M583 361v3M583 367v6M583 379v3M585 247v3M585 277v3M585 286v3M585 307v3M585 322v3M587 250v3M587 286v3M587 292v9M587 325v6M587 352v3M589 286v6M589 358v3M591 286v9M591 355v3M593 265v3M593 298v3M593 304v3M593 322v3M593 367v3M593 373v3M593 382v3M595 283v3M595 331v3M595 346v3M595 367v6M597 292v3M597 298v12M597 313v6M597 352v3M597 364v6M599 241v6M599 262v3M599 271v3M599 340v3M601 316v9M601 328v3M605 331v3M637 373v3M637 379v3M637 388v3M683 73v3M689 73v3M777 79v3M815 70v3M823 163v3M825 73v3M827 175v3M839 70v3M839 79v3M843 172v3M849 76v3M849 169v3M849 184v3M849 391v3M851 70v6M853 76v3M853 190v3M853 196v3M853 385v3M855 73v3M855 175v3M855 193v3M855 388v3M855 394v3M857 178v3M857 373v3M859 184v9M859 196v3M859 202v3M861 76v3M861 196v6M861 214v3M861 220v3M863 76v3M863 205v3M865 70v9M865 205v3M865 211v3M867 70v6M867 82v3M869 178v3M869 199v3M869 238v3M869 397v3M871 79v3M871 175v6M871 193v3M871 208v3M873 91v9M873 109v3M873 118v3M873 151v6M873 187v3M875 61v3M875 94v3M875 127v6M875 163v3M877 64v3M877 85v3M877 91v3M877 100v3M877 106v6M877 121v3M877 181v6M883 394v3M887 307v3M887 367v3M893 358v3M897 373v3M901 292v3M901 361v3M905 403v2M907 394v3M921 367v3"/>
<path stroke="#5fff00" stroke-width="2" d="M465 343v3M465 355v3M465 403v2M467 403v2M475 70v3M475 316v3M475 325v3M475 340v6M475 397v3M477 313v6M477 358v3M479 70v3M479 334v3M479 346v6M479 367v6M479 394v9M481 376v3M481 382v3M483 343v3M483 358v3M483 373v9M483 391v3M483 397v6M485 286v3M485 343v3M485 355v6M485 403v2M487 367v9M489 268v3M489 400v3M491 364v3M493 295v3M493 379v3M497 391v3M499 292v3M501 382v6M501 394v6M501 403v2M503 271v3M503 343v3M503 370v3M503 379v9M503 397v3M505 238v3M505 292v6M505 304v3M505 373v3M507 334v3M507 367v3M507 391v3M507 403v2M509 271v3M509 370v3M511 370v3M511 382v3M511 394v3M525 304v3M531 286v3M531 298v3M533 265v3M533 283v3M533 352v3M533 382v6M535 259v3M535 286v3M537 265v3M537 280v3M537 295v3M537 325v6M539 265v3M539 271v3M539 307v6M541 250v3M541 274v3M541 304v3M541 316v3M541 328v3M543 259v3M543 265v3M543 277v3M543 292v6M543 313v3M543 322v6M543 334v3M545 295v6M545 316v3M545 322v3M547 325v3M547 331v3M549 277v3M549 328v3M549 337v3M551 244v6M551 262v3M551 295v3M551 307v3M551 313v3M551 322v3M551 331v3M551 337v3M555 250v6M555 262v3M555 271v6M555 280v3M555 307v9M557 289v6M557 298v12M557 316v6M557 334v3M559 229v3M559 247v3M559 289v9M559 334v3M561 271v3M561 280v3M561 343v6M563 265v3M563 283v6M563 295v3M563 304v3M563 319v3M563 331v3M563 346v3M565 262v3M565 313v3M565 331v3M565 343v6M565 355v3M565 382v3M567 286v3M567 346v3M567 382v3M567 388v3M567 394v6M569 289v3M569 382v3M569 391v3M581 394v3M583 298v9M583 364v3M583 373v6M585 235v3M585 244v3M585 319v3M585 352v3M587 265v3M587 355v3M589 295v3M589 301v3M589 346v3M589 376v3M591 379v3M593 262v3M593 277v3M593 292v3M593 316v3M593 328v3M593 370v3M593 376v6M595 274v3M595 280v3M595 295v3M595 307v9M595 319v3M595 328v3M595 358v3M597 286v6M597 319v3M597 370v3M599 289v3M599 298v3M599 343v9M601 286v6M601 313v3M601 325v3M603 307v3M603 334v3M605 328v3M685 70v3M689 70v3M775 76v3M785 73v3M821 169v3M825 85v3M825 160v3M849 172v3M849 193v3M849 364v3M853 70v3M853 79v3M855 190v3M855 199v3M857 181v21M859 73v3M859 181v3M859 193v3M859 199v3M859 205v3M861 175v12M861 193v3M861 202v3M861 208v3M863 70v6M863 208v12M865 208v3M865 214v3M867 205v3M867 217v3M867 265v3M869 76v3M869 181v6M869 196v3M869 205v3M869 211v3M869 217v6M871 67v6M871 181v3M871 187v6M871 211v3M871 217v3M873 166v3M873 172v6M873 181v3M873 229v3M875 91v3M875 112v3M875 175v3M877 112v9M877 127v3M877 133v6M901 307v3M901 382v3M901 397v3M905 337v3M911 364v3M923 364v3"/>
<path stroke="#78ff00" stroke-width="2" d="M459 343v3M459 349v3M459 355v3M459 361v3M459 385v3M459 391v3M459 397v3M459 403v2M461 343v3M461 349v3M461 355v3M461 361v3M461 385v3M461 391v3M461 397v3M461 403v2M463 343v3M463 349v3M463 355v3M463 361v3M463 385v3M463 391v3M463 397v3M463 403v2M465 337v6M465 400v3M467 391v3M469 400v3M471 88v3M475 319v3M475 349v9M475 364v3M475 379v3M475 403v2M477 91v3M477 352v3M477 376v3M477 388v3M479 259v3M479 355v3M479 373v6M479 382v3M479 391v3M481 361v9M481 373v3M483 67v3M483 361v3M483 385v3M483 403v2M485 331v3M485 367v12M485 382v6M487 286v3M487 379v3M487 397v3M489 373v3M491 262v3M491 274v3M491 301v3M491 337v3M491 391v3M491 397v3M491 403v2M493 388v6M493 397v3M495 229v3M495 277v3M495 334v3M495 376v3M495 382v3M495 397v3M495 403v2M499 304v3M499 319v3M499 331v3M499 337v3M499 373v3M501 367v3M501 376v3M501 400v3M503 295v3M503 340v3M503 373v6M503 403v2M505 241v12M505 334v6M505 376v3M505 388v3M505 397v3M505 403v2M507 331v3M507 373v6M507 397v3M509 346v3M509 352v3M509 367v3M509 379v3M511 349v3M511 373v3M519 304v3M521 292v3M533 268v6M533 292v3M533 301v6M533 388v3M535 289v3M535 319v3M535 325v6M537 268v6M537 277v3M537 304v6M537 334v3M539 304v3M541 277v3M541 295v3M541 313v3M541 325v3M541 337v3M541 343v3M543 256v3M543 268v9M543 301v3M543 307v3M543 328v3M543 343v3M545 343v6M547 334v6M547 343v6M549 307v3M549 331v6M551 289v3M551 304v3M551 319v3M551 325v3M555 283v6M557 283v3M557 310v3M559 262v3M561 277v3M561 313v6M561 331v3M561 340v3M563 274v3M563 280v3M563 343v3M563 373v3M565 367v3M565 373v6M565 394v3M565 403v2M569 388v3M573 394v3M577 400v3M581 397v3M583 382v6M585 274v3M585 298v3M585 334v3M587 289v3M589 298v3M589 349v3M589 361v3M589 370v3M589 379v6M591 370v3M591 382v6M593 286v3M593 301v3M593 325v3M595 292v3M595 304v3M595 322v3M595 340v3M595 355v3M595 373v3M595 382v3M597 280v3M597 295v3M597 325v6M597 373v3M599 259v3M599 268v3M599 286v3M599 301v3M599 313v3M599 358v3M601 292v6M601 301v6M603 322v6M603 337v3M605 334v3M637 391v3M637 400v5M651 376v3M653 367v12M653 385v3M839 73v3M855 187v3M857 67v3M857 73v3M861 190v3M867 76v6M867 211v3M869 385v3M871 184v3M873 184v3M873 196v3M873 253v6M875 100v3M875 139v3M875 166v3M877 52v3M877 178v3M887 355v3M887 385v3M893 325v3M895 349v3M897 364v3M905 304v3M905 316v3M911 373v3M921 355v3"/>
<path stroke="#92ff00" stroke-width="2" d="M465 364v3M465 397v3M469 334v3M469 340v3M471 76v3M471 340v3M475 76v3M475 307v3M475 400v3M477 85v3M477 364v3M477 391v3M477 400v3M479 352v3M479 379v3M479 403v2M481 244v3M483 334v3M485 340v3M487 376v3M487 400v5M491 295v3M491 400v3M493 376v3M493 400v3M495 280v3M499 244v3M499 250v3M499 307v6M499 316v3M499 379v6M499 403v2M501 355v3M501 373v3M503 274v6M503 349v3M505 298v3M505 340v3M505 352v6M505 391v3M507 298v3M507 358v6M507 382v6M509 364v3M519 259v3M529 301v3M533 262v3M533 286v6M533 355v3M533 367v6M533 379v3M535 232v3M535 262v3M535 271v3M535 343v3M535 355v3M537 256v3M537 262v3M537 274v3M537 316v3M539 244v3M539 283v3M539 313v3M539 319v3M541 253v3M541 301v3M541 307v3M543 310v3M543 340v3M545 349v3M547 340v3M547 349v3M547 364v6M549 301v3M549 316v3M549 325v3M549 346v6M549 355v3M551 271v3M551 283v3M551 301v3M551 316v3M551 328v3M551 340v3M553 238v3M553 244v3M555 244v3M555 298v3M555 358v3M557 256v3M557 337v6M557 355v6M557 364v6M559 232v3M559 241v3M559 280v3M559 301v3M559 337v3M561 238v3M561 292v3M561 337v3M563 262v3M563 301v3M563 328v3M563 367v6M563 376v3M563 382v3M565 259v3M565 265v3M565 349v6M565 358v3M565 364v3M565 379v3M567 343v3M567 385v3M567 400v3M569 292v3M569 394v3M577 394v6M577 403v2M579 343v3M581 403v2M585 253v3M585 259v3M585 289v3M585 316v3M585 337v3M587 253v3M587 367v3M587 382v3M589 373v3M589 385v3M591 367v3M591 376v3M593 289v3M593 385v3M595 301v3M595 325v3M595 352v3M595 385v3M597 376v3M599 277v3M599 292v6M599 307v6M599 352v3M599 364v3M601 298v3M601 307v6M603 313v3M603 319v3M637 397v3M781 73v3M815 73v3M839 76v3M849 82v3M849 187v6M849 379v3M853 73v3M855 67v6M855 181v6M859 70v3M861 187v3M861 205v3M861 217v3M861 379v3M861 388v3M867 208v3M867 214v3M869 193v3M869 343v6M869 358v3M869 388v3M871 214v3M873 178v3M873 190v6M873 199v3M873 235v3M873 283v3M875 133v3M875 196v3M875 205v3M877 124v3M883 367v3M887 388v3M897 376v3M901 304v3M901 310v3M901 367v9M901 379v3M901 385v3M901 391v3M901 400v3M905 340v3M907 391v3M911 367v3M921 349v6"/>
<path stroke="#abff00" stroke-width="2" d="M459 340v3M459 346v3M459 352v3M459 358v3M459 382v3M459 388v3M459 394v3M459 400v3M461 340v3M461 346v3M461 352v3M461 358v3M461 382v3M461 388v3M461 394v3M461 400v3M463 340v3M463 346v3M463 352v3M463 358v3M463 382v3M463 388v3M463 394v3M463 400v3M465 349v3M465 358v3M465 379v3M469 403v2M471 82v3M471 403v2M475 85v3M475 358v3M475 370v6M475 382v3M475 394v3M477 340v3M477 355v3M477 394v3M481 298v3M483 64v3M483 349v3M483 355v3M483 367v6M487 310v3M489 265v3M493 385v3M493 403v2M499 343v3M499 349v3M499 364v6M499 385v3M499 397v3M501 370v3M501 391v3M503 322v3M503 337v3M503 388v3M505 379v9M507 337v3M507 379v3M511 346v3M515 349v3M521 268v3M521 295v3M533 274v3M533 391v3M535 235v3M535 241v3M535 274v3M535 280v3M535 310v3M535 316v3M537 286v3M537 319v3M537 337v3M539 322v3M539 331v3M539 343v3M539 352v3M541 268v3M541 310v3M541 340v3M541 355v3M543 298v3M543 346v3M545 376v3M545 391v3M547 355v9M547 370v3M549 340v6M549 358v12M551 274v3M551 292v3M551 298v3M551 310v3M553 307v3M555 277v3M555 316v3M555 325v9M555 352v6M555 361v9M557 271v6M557 280v3M557 295v3M557 343v3M557 361v3M557 370v3M559 286v3M559 310v3M559 325v3M561 265v6M561 286v3M561 301v3M561 334v3M561 349v12M561 403v2M563 364v3M563 403v2M565 385v3M565 400v3M567 319v3M567 403v2M569 397v3M579 388v3M583 289v3M585 250v3M585 292v3M587 358v3M587 376v3M589 322v3M589 364v6M591 364v3M591 373v3M593 388v3M593 397v3M593 403v2M595 388v3M597 322v3M597 361v3M597 379v3M597 385v3M599 280v3M599 316v3M603 316v3M605 310v6M605 325v3M605 337v3M651 379v3M653 394v3M781 70v3M857 70v3M861 70v6M869 187v6M871 76v3M873 202v3M873 208v3M873 238v3M875 97v3M875 199v6M883 337v6M887 346v3M895 355v3M901 364v3"/>
<path stroke="#c5ff00" stroke-width="2" d="M465 367v3M465 376v3M475 385v3M477 334v3M477 349v3M477 367v3M477 382v3M481 388v3M487 382v3M487 388v3M491 376v3M495 379v3M503 346v3M503 400v3M505 343v3M505 358v3M507 355v3M507 388v3M515 346v3M521 277v3M533 358v3M533 376v3M533 397v6M535 292v6M535 307v3M535 352v3M535 361v3M537 301v3M537 322v3M537 349v3M539 280v3M539 286v3M539 334v3M539 346v3M541 271v3M541 319v3M541 331v6M543 262v3M543 349v3M543 355v12M545 358v3M545 364v12M547 373v6M549 313v3M549 352v3M549 370v3M551 265v3M551 280v3M553 241v3M553 331v3M555 268v3M555 295v3M555 319v3M555 337v3M557 268v3M557 322v3M557 328v6M557 352v3M559 256v3M559 367v3M561 274v3M561 310v3M561 319v3M561 328v3M561 373v6M561 397v6M563 361v3M563 379v3M563 385v12M565 268v6M565 391v3M567 301v3M567 316v3M567 349v3M573 343v3M573 385v3M581 400v3M583 352v3M583 358v3M583 388v6M585 346v3M585 355v3M587 361v6M587 370v3M589 388v3M591 361v3M591 388v3M593 400v3M595 379v3M595 400v3M597 397v3M599 247v3M599 283v3M599 361v3M601 334v3M601 364v3M603 352v3M603 361v3M603 367v3M683 70v3M849 70v3M861 211v3M869 79v3M869 208v3M869 214v3M873 205v3M873 211v3M873 232v3M873 244v6M875 208v9M875 223v3M877 247v6M877 268v3M877 280v3M887 370v3M895 334v3M895 358v3"/>
<path stroke="#deff00" stroke-width="2" d="M465 370v6M475 304v3M475 310v3M477 343v3M481 379v3M481 391v3M481 403v2M485 334v3M487 280v3M491 394v3M499 376v3M499 394v3M501 379v3M505 400v3M507 352v3M507 400v3M509 274v3M533 313v3M533 403v2M535 313v3M535 346v3M535 358v3M537 340v3M537 346v3M537 352v3M539 298v3M539 325v6M539 349v3M539 355v3M541 256v3M541 265v3M541 358v3M543 376v3M543 385v3M545 352v3M545 385v3M545 394v3M547 352v3M547 385v3M547 391v3M549 373v3M551 343v3M553 247v3M555 265v3M555 346v3M557 259v3M559 298v3M559 307v3M559 316v6M559 376v3M561 361v3M561 367v3M561 388v3M561 394v3M563 298v3M563 355v3M563 397v6M565 361v3M565 397v3M569 385v3M569 400v5M573 349v3M575 391v3M583 397v6M585 241v3M585 283v3M585 301v3M585 379v3M587 319v3M587 373v3M587 385v3M589 352v3M591 358v3M593 391v6M595 316v3M595 391v3M595 403v2M597 382v3M597 388v9M597 400v5M599 250v3M599 319v3M601 337v3M601 346v3M603 310v3M605 340v6M651 382v3M651 391v9M653 382v3M873 214v6M873 250v3M873 259v3M873 289v3M873 301v3M875 178v3M875 190v3M877 292v3M887 340v3M887 349v6M887 358v3M897 355v3M899 346v3"/>
<path stroke="#f8ff00" stroke-width="2" d="M465 334v3M465 394v3M469 346v3M471 400v3M475 388v3M481 397v3M483 364v3M491 373v3M491 382v6M499 289v3M505 301v3M505 349v3M507 283v3M511 343v3M533 310v3M533 364v3M535 238v3M535 277v3M535 298v3M535 304v3M535 373v3M535 379v3M537 361v3M539 316v3M539 340v3M541 346v9M543 304v3M543 370v6M543 379v3M543 388v3M543 394v3M547 394v3M549 376v6M549 388v3M551 259v3M551 268v3M551 346v3M553 310v3M553 334v3M553 349v3M555 289v3M555 349v3M557 262v3M557 349v3M557 391v3M557 403v2M559 253v3M559 265v9M559 277v3M559 304v3M559 322v3M559 370v3M561 379v3M563 268v3M563 277v3M563 352v3M565 388v3M585 325v9M585 376v3M585 382v9M587 379v3M589 355v3M589 391v3M591 391v3M599 325v6M601 367v3M603 346v6M603 355v3M605 307v3M651 385v6M651 400v5M873 220v9M873 241v3M873 265v6M873 280v3M873 286v3M873 292v3M875 187v3M875 217v6M875 226v3M877 232v6M877 241v3M877 370v3M897 361v3"/>
<path stroke="#fff700" stroke-width="2" d="M477 337v3M477 346v3M481 400v3M483 352v3M487 394v3M491 388v3M499 295v9M505 346v3M521 283v3M533 361v3M535 283v3M535 337v3M535 349v3M535 367v3M535 376v3M535 382v6M537 343v3M537 358v3M539 253v6M539 301v3M539 379v3M541 364v3M541 373v3M541 391v6M543 352v3M543 382v3M545 355v3M545 397v3M547 379v6M547 388v3M549 382v3M551 277v3M551 286v3M553 250v3M555 334v3M555 343v3M555 370v3M557 373v3M557 379v3M557 385v6M557 397v6M559 340v3M559 364v3M559 373v3M559 382v3M561 307v3M561 391v3M567 391v3M583 394v3M585 340v6M589 394v6M591 394v3M591 400v3M595 394v3M599 256v3M601 343v3M601 349v3M601 355v3M601 361v3M601 373v3M603 358v3M873 262v3M873 274v3M873 295v6M875 181v3M875 193v3M877 244v3M877 262v3M877 358v3M877 364v3M895 352v3M897 358v3"/>
<path stroke="#ffec00" stroke-width="2" d="M469 349v3M477 361v3M499 358v6M499 388v3M505 394v3M533 373v3M535 370v3M535 391v3M537 289v3M537 355v3M537 370v3M537 382v3M539 337v3M539 388v3M541 259v3M543 367v3M545 379v3M545 388v3M545 400v3M549 385v3M549 391v3M553 361v6M555 391v6M555 403v2M557 286v3M557 325v3M557 382v3M557 394v3M559 250v3M559 313v3M559 379v3M559 388v3M559 400v3M561 385v3M563 313v3M585 364v3M585 370v3M585 400v3M587 388v3M589 325v3M589 403v2M591 403v2M595 298v3M599 355v3M601 352v3M601 370v3M601 376v6M603 340v3M603 364v3M603 373v3M605 319v3M605 349v3M605 367v3M873 271v3M873 277v3M873 304v3M875 184v3M877 238v3M877 259v3M877 274v6M877 289v3M877 298v6M877 394v3"/>
<path stroke="#ffe000" stroke-width="2" d="M465 346v3M465 352v3M481 394v3M487 391v3M499 355v3M505 364v6M533 277v3M535 265v3M535 388v3M537 376v3M537 400v3M539 382v6M539 391v6M541 262v3M543 397v3M545 361v3M549 394v3M551 250v3M551 256v3M551 373v6M551 394v3M551 403v2M553 355v3M553 391v3M555 340v3M555 385v3M555 400v3M557 265v3M559 274v3M559 331v3M559 343v9M559 355v3M559 361v3M559 391v3M561 304v3M575 388v3M585 373v3M589 400v3M591 397v3M601 394v3M603 343v3M603 376v3M603 403v2M605 316v3M875 238v3M877 229v3M877 265v3M877 286v3M877 385v3"/>
<path stroke="#ffd500" stroke-width="2" d="M481 385v3M483 382v3M487 385v3M499 346v3M499 352v3M535 301v3M535 334v3M535 364v3M535 394v3M537 259v3M537 367v3M537 379v3M539 358v3M539 373v3M541 361v3M541 367v3M541 376v3M541 397v3M543 331v3M545 382v3M545 403v2M547 397v6M549 310v3M549 397v3M549 403v2M551 349v3M551 355v3M551 388v3M553 352v3M553 358v3M553 367v3M555 322v3M555 373v3M555 379v6M555 388v3M555 397v3M557 277v3M559 283v3M559 352v3M561 364v3M561 382v3M585 304v3M585 349v3M587 397v3M597 283v3M599 304v3M601 385v3M601 397v3M603 370v3M603 397v3M605 352v3M605 370v3M877 253v6M877 271v3M877 295v3"/>
<path stroke="#ffca00" stroke-width="2" d="M477 385v3M499 400v3M511 340v3M535 340v3M537 310v3M537 373v3M537 388v6M539 289v3M539 400v3M541 403v2M543 400v3M547 403v2M551 253v3M553 253v3M553 370v3M553 397v3M557 376v3M559 358v3M585 358v3M585 391v3M587 400v5M595 376v3M599 322v3M599 367v3M599 388v3M601 400v3M603 400v3M605 346v3M605 403v2M875 235v3M875 259v3M877 328v3M877 400v3"/>
<path stroke="#ffbf00" stroke-width="2" d="M499 391v3M505 361v3M505 370v3M507 340v12M507 394v3M535 403v2M537 313v3M537 331v3M537 364v3M539 292v6M539 361v3M539 376v3M539 403v2M541 322v3M541 388v3M541 400v3M549 400v3M551 379v3M551 397v3M553 256v51M553 313v12M553 328v3M553 373v3M557 346v3M559 394v3M559 403v2M561 325v3M563 358v3M585 295v3M585 367v3M587 391v6M601 340v3M601 358v3M601 403v2M605 322v3M605 376v3M605 400v3M875 244v3M875 250v3M875 262v3M875 277v3M877 304v3M877 373v3M877 379v3"/>
<path stroke="#ffb400" stroke-width="2" d="M537 403v2M539 367v3M551 352v3M551 364v3M551 382v6M551 391v3M551 400v3M553 325v3M553 385v6M555 376v3M559 385v3M585 394v6M595 397v3M599 400v5M601 388v3M603 382v3M605 361v3M605 373v3M605 385v3M605 391v3M605 397v3M875 229v3M875 241v3M875 253v3M875 298v3M875 304v3M877 343v3M877 361v3M877 388v6"/>
<path stroke="#ffa800" stroke-width="2" d="M537 385v3M537 397v3M539 364v3M539 370v3M539 397v3M541 370v3M543 391v3M551 358v3M553 337v3M553 403v2M561 322v3M561 370v3M585 403v2M601 391v3M603 379v3M605 358v3M605 394v3M875 232v3M875 256v3M875 265v3M877 325v3M877 340v3M877 349v3M877 376v3M877 382v3"/>
<path stroke="#ff9d00" stroke-width="2" d="M541 379v3M543 403v2M551 367v3M553 340v9M553 382v3M559 328v3M585 361v3M599 370v9M603 394v3M875 247v3M875 271v6M875 280v15M877 397v3M877 403v2"/>
<path stroke="#ff9200" stroke-width="2" d="M535 400v3M537 394v3M541 385v3M551 361v3M553 394v3M605 388v3M875 268v3M875 295v3M877 283v3M877 337v3M877 346v3M877 355v3M877 367v3"/>
<path stroke="#ff8700" stroke-width="2" d="M541 382v3M559 397v3M583 403v2M599 379v3M605 355v3M605 364v3M605 382v3M877 319v3M877 331v6M877 352v3"/>
<path stroke="#ff7b00" stroke-width="2" d="M551 370v3M553 400v3M599 382v3M877 316v3"/>
<path stroke="#ff7000" stroke-width="2" d="M535 397v3M599 385v3M605 379v3M875 301v3M877 313v3"/>
<path stroke="#ff6500" stroke-width="2" d="M553 376v3M599 391v9M601 382v3M873 316v3M875 328v3"/>
<path stroke="#ff5a00" stroke-width="2" d="M603 385v3M873 337v3M873 343v3M875 319v3M875 331v6M877 322v3"/>
<path stroke="#ff4f00" stroke-width="2" d="M553 379v3M873 322v3M873 346v3M873 394v3M875 322v6M875 337v6M875 355v3M875 367v3M875 379v3"/>
<path stroke="#ff4300" stroke-width="2" d="M603 388v6M873 313v3M873 319v3M873 349v3M873 355v3M873 367v3M873 373v3M873 391v3M873 397v3M873 403v2M875 343v3M875 349v3M875 358v3M875 388v3M875 403v2"/>
<path stroke="#ff3800" stroke-width="2" d="M873 325v3M873 364v3M873 370v3M873 376v15M873 400v3M875 346v3M875 364v3M875 370v9M875 382v6M875 397v3"/>
<path stroke="#ff2d00" stroke-width="2" d="M873 328v3M873 334v3M873 340v3M873 352v3M875 313v3M875 352v3M875 394v3M875 400v3"/>
<path stroke="#ff2200" stroke-width="2" d="M873 331v3M873 358v6M875 316v3M875 391v3"/>
<path stroke="#ff1600" stroke-width="2" d="M875 361v3"/>
</g>
<rect x="458" y="306" width="496" height="6" fill="#fff"/>
<g shape-rendering="crispEdges" fill="none">
<path stroke="#00d6ff" stroke-width="7" d="M668 431.5h2M672 431.5h2M680 431.5h6M690 431.5h2M704 431.5h2M710 431.5h2M714 431.5h6M732 431.5h2M924 431.5h2M932 431.5h2M942 431.5h4M948 431.5h2"/>
<path stroke="#00d6ff" stroke-width="10" d="M642 440h2M918 440h2M942 440h2M948 440h2M920 481h2M924 481h2"/>
<path stroke="#00f6ff" stroke-width="7" d="M626 431.5h6M634 431.5h10M666 431.5h2M670 431.5h2M674 431.5h2M694 431.5h4M702 431.5h2M706 431.5h4M712 431.5h2M722 431.5h4M914 431.5h2M918 431.5h4M926 431.5h4M936 431.5h4M946 431.5h2M950 431.5h3"/>
<path stroke="#00f6ff" stroke-width="10" d="M620 440h4M626 440h2M630 440h2M634 440h2M646 440h2M914 440h4M920 440h2M924 440h10M946 440h2M950 440h3M948 450h2M916 481h4M926 481h2M930 481h4"/>
<path stroke="#00f6ff" stroke-width="11" d="M948 470.5h2"/>
<path stroke="#00fff4" stroke-width="7" d="M632 431.5h2M644 431.5h2M676 431.5h4M686 431.5h4M692 431.5h2M698 431.5h4M720 431.5h2M726 431.5h2M812 431.5h2M916 431.5h2M922 431.5h2M930 431.5h2M934 431.5h2M940 431.5h2"/>
<path stroke="#00fff4" stroke-width="10" d="M628 440h2M632 440h2M636 440h6M644 440h2M650 440h4M682 440h4M922 440h2M934 440h8M944 440h2M942 450h2M914 481h2M922 481h2M928 481h2"/>
<path stroke="#00fff4" stroke-width="11" d="M896 470.5h2"/>
<path stroke="#00ffe4" stroke-width="7" d="M646 431.5h2M664 431.5h2M796 431.5h2M816 431.5h2"/>
<path stroke="#00ffe4" stroke-width="10" d="M618 440h2M624 440h2M648 440h2"/>
<path stroke="#00ffd4" stroke-width="7" d="M622 431.5h2M652 431.5h2M744 431.5h2M804 431.5h2"/>
<path stroke="#00ffd4" stroke-width="10" d="M654 440h2M664 440h2M672 440h2M680 440h2M912 440h2M924 450h2M896 460h2M914 460h4M910 481h4M934 481h4M942 481h2"/>
<path stroke="#00ffd4" stroke-width="11" d="M942 470.5h2"/>
<path stroke="#00ffc4" stroke-width="7" d="M620 431.5h2M624 431.5h2M662 431.5h2M728 431.5h4M760 431.5h2M806 431.5h2M910 431.5h4"/>
<path stroke="#00ffc4" stroke-width="10" d="M656 440h2M690 440h2M696 440h2M702 440h2M896 440h2M910 440h2M914 450h8M924 460h2M948 460h2M948 481h2M952 481h1"/>
<path stroke="#00ffc4" stroke-width="11" d="M914 470.5h2"/>
<path stroke="#00ffb4" stroke-width="7" d="M526 431.5h2M648 431.5h2M654 431.5h2M658 431.5h2M746 431.5h2M754 431.5h2M896 431.5h2"/>
<path stroke="#00ffb4" stroke-width="10" d="M616 440h2M660 440h2M666 440h6M674 440h2M694 440h2M714 440h2M896 450h2M938 450h2M950 450h2M902 460h2M918 460h4M932 460h2M936 460h4M942 460h6M952 460h1M896 481h2M938 481h2M950 481h2"/>
<path stroke="#00ffb4" stroke-width="11" d="M898 470.5h2M916 470.5h4M928 470.5h2M938 470.5h2M944 470.5h2"/>
<path stroke="#00ffa4" stroke-width="7" d="M660 431.5h2M738 431.5h2M742 431.5h2M758 431.5h2M770 431.5h2M802 431.5h2M808 431.5h2M814 431.5h2M822 431.5h2M904 431.5h2"/>
<path stroke="#00ffa4" stroke-width="10" d="M676 440h2M688 440h2M704 440h2M796 440h2M908 440h2M684 450h2M710 450h2M714 450h2M906 450h2M910 450h2M926 450h2M932 450h2M946 450h2M952 450h1M912 460h2M922 460h2M926 460h2M908 481h2M944 481h2"/>
<path stroke="#00ffa4" stroke-width="11" d="M902 470.5h2M912 470.5h2M922 470.5h6M930 470.5h4M936 470.5h2M946 470.5h2M950 470.5h3"/>
<path stroke="#00ff94" stroke-width="7" d="M650 431.5h2M740 431.5h2M748 431.5h6M798 431.5h2M898 431.5h2M902 431.5h2M908 431.5h2"/>
<path stroke="#00ff94" stroke-width="10" d="M614 440h2M658 440h2M698 440h2M710 440h2M898 440h2M906 440h2M668 450h2M702 450h2M716 450h2M898 450h2M904 450h2M912 450h2M922 450h2M930 450h2M936 450h2M944 450h2M684 460h2M904 460h2M910 460h2M930 460h2M898 481h2M902 481h2M906 481h2"/>
<path stroke="#00ff94" stroke-width="11" d="M904 470.5h6M920 470.5h2"/>
<path stroke="#00ff84" stroke-width="7" d="M616 431.5h4M656 431.5h2M736 431.5h2M780 431.5h2M834 431.5h2M906 431.5h2"/>
<path stroke="#00ff84" stroke-width="10" d="M686 440h2M692 440h2M700 440h2M732 440h2M770 440h2M834 440h2M672 450h2M928 450h2M682 460h2M898 460h2M906 460h4M928 460h2M950 460h2M900 481h2M940 481h2M946 481h2"/>
<path stroke="#00ff84" stroke-width="11" d="M892 470.5h2M900 470.5h2"/>
<path stroke="#00ff74" stroke-width="7" d="M734 431.5h2M756 431.5h2M772 431.5h8M840 431.5h2M856 431.5h2M900 431.5h2"/>
<path stroke="#00ff74" stroke-width="10" d="M678 440h2M716 440h2M816 440h2M900 440h2M904 440h2M682 450h2M704 450h2M718 450h2M892 450h2M900 450h4M908 450h2M680 460h2M900 460h2M934 460h2M904 481h2"/>
<path stroke="#00ff74" stroke-width="11" d="M910 470.5h2"/>
<path stroke="#00ff64" stroke-width="7" d="M610 431.5h2M614 431.5h2M762 431.5h2M782 431.5h2M788 431.5h2M794 431.5h2M800 431.5h2M818 431.5h4M824 431.5h2"/>
<path stroke="#00ff64" stroke-width="10" d="M662 440h2M706 440h2M722 440h2M744 440h4M760 440h2M766 440h2M804 440h2M822 440h4M892 440h2M630 450h2M642 450h2M934 450h2M940 450h2"/>
<path stroke="#00ff64" stroke-width="11" d="M934 470.5h2M940 470.5h2"/>
<path stroke="#00ff54" stroke-width="7" d="M846 431.5h6"/>
<path stroke="#00ff54" stroke-width="10" d="M718 440h2M750 440h2M778 440h8M812 440h2M840 440h2M890 440h2M636 450h2M664 450h2M676 450h2M680 450h2M696 450h2M712 450h2M732 450h2M890 450h2M892 460h2M940 460h2M892 481h2"/>
<path stroke="#00ff44" stroke-width="7" d="M606 431.5h2M810 431.5h2M826 431.5h2M830 431.5h2M852 431.5h2M890 431.5h4"/>
<path stroke="#00ff44" stroke-width="10" d="M526 440h2M730 440h2M738 440h4M754 440h2M772 440h2M788 440h2M794 440h2M808 440h2M894 440h2M902 440h2M628 450h2M634 450h2M640 450h2M670 450h2M688 450h2M722 450h2M704 460h2M714 460h2"/>
<path stroke="#00ff35" stroke-width="7" d="M608 431.5h2M766 431.5h4M784 431.5h2M790 431.5h2M836 431.5h2M844 431.5h2M894 431.5h2"/>
<path stroke="#00ff35" stroke-width="10" d="M708 440h2M712 440h2M720 440h2M724 440h4M736 440h2M742 440h2M748 440h2M752 440h2M758 440h2M762 440h2M798 440h2M806 440h2M814 440h2M818 440h2M632 450h2M660 450h2M666 450h2M674 450h2M690 450h2M708 450h2M894 450h2M672 460h2M688 460h2M890 460h2M890 481h2M948 491h2"/>
<path stroke="#00ff35" stroke-width="11" d="M890 470.5h2"/>
<path stroke="#00ff25" stroke-width="7" d="M612 431.5h2M828 431.5h2M832 431.5h2M838 431.5h2M854 431.5h2M886 431.5h2"/>
<path stroke="#00ff25" stroke-width="10" d="M774 440h4M790 440h4M802 440h2M820 440h2M856 440h2M626 450h2M638 450h2M644 450h4M656 450h4M678 450h2M686 450h2M694 450h2M720 450h2M724 450h4M630 460h2M710 460h4M716 460h2M894 460h2M894 481h2M914 491h2"/>
<path stroke="#00ff15" stroke-width="7" d="M524 431.5h2M528 431.5h4M792 431.5h2M862 431.5h4"/>
<path stroke="#00ff15" stroke-width="10" d="M612 440h2M734 440h2M756 440h2M800 440h2M846 440h4M620 450h2M652 450h2M662 450h2M692 450h2M698 450h2M706 450h2M744 450h2M664 460h2M686 460h2M690 460h2M702 460h2M892 491h2M896 491h2M920 491h2"/>
<path stroke="#00ff15" stroke-width="11" d="M894 470.5h2"/>
<path stroke="#00ff05" stroke-width="7" d="M522 431.5h2M764 431.5h2M858 431.5h2"/>
<path stroke="#00ff05" stroke-width="10" d="M828 440h2M852 440h2M738 450h2M634 460h2M668 460h2M674 460h2M678 460h2M718 460h2M918 491h2M926 491h2M936 491h2M942 491h2M952 491h1"/>
<path stroke="#12ff00" stroke-width="10" d="M606 440h2M764 440h2M768 440h2M826 440h2M836 440h2M850 440h2M854 440h2M864 440h2M622 450h2M654 450h2M700 450h2M730 450h2M626 460h2M642 460h2M660 460h2M670 460h2M696 460h2M922 491h4M932 491h2M938 491h2M944 491h2M950 491h2"/>
<path stroke="#2cff00" stroke-width="7" d="M860 431.5h2M888 431.5h2"/>
<path stroke="#2cff00" stroke-width="10" d="M524 440h2M610 440h2M728 440h2M786 440h2M810 440h2M886 440h2M648 450h2M740 450h4M834 450h2M886 450h2M632 460h2M644 460h4M658 460h2M676 460h2M694 460h2M698 460h2M706 460h4M834 460h2M890 491h2M900 491h2M910 491h2M916 491h2M930 491h2"/>
<path stroke="#2cff00" stroke-width="11" d="M710 470.5h2M732 470.5h2M886 470.5h2"/>
<path stroke="#45ff00" stroke-width="7" d="M460 431.5h2"/>
<path stroke="#45ff00" stroke-width="8" d="M948 500h2"/>
<path stroke="#45ff00" stroke-width="10" d="M830 440h4M838 440h2M844 440h2M728 450h2M734 450h4M770 450h2M796 450h2M840 450h2M638 460h2M666 460h2M886 460h2M898 491h2M906 491h4M946 491h2"/>
<path stroke="#45ff00" stroke-width="11" d="M702 470.5h2"/>
<path stroke="#5fff00" stroke-width="7" d="M786 431.5h2"/>
<path stroke="#5fff00" stroke-width="8" d="M918 500h2"/>
<path stroke="#5fff00" stroke-width="10" d="M528 440h2M858 440h2M862 440h2M616 450h4M624 450h2M650 450h2M746 450h2M760 450h2M766 450h2M816 450h2M628 460h2M636 460h2M640 460h2M652 460h2M692 460h2M732 460h2M886 481h2M904 491h2M912 491h2M928 491h2"/>
<path stroke="#5fff00" stroke-width="11" d="M704 470.5h2M714 470.5h2"/>
<path stroke="#78ff00" stroke-width="7" d="M842 431.5h2M866 431.5h2"/>
<path stroke="#78ff00" stroke-width="8" d="M892 500h2M896 500h2M924 500h2M932 500h2M938 500h2M944 500h4M952 500h1"/>
<path stroke="#78ff00" stroke-width="10" d="M608 440h2M888 440h2M526 450h2M606 450h2M614 450h2M808 450h2M620 460h2M654 460h4M720 460h2M724 460h2M812 460h2M704 481h2M894 491h2M902 491h2M934 491h2M940 491h2"/>
<path stroke="#78ff00" stroke-width="11" d="M684 470.5h2M712 470.5h2M840 470.5h2"/>
<path stroke="#92ff00" stroke-width="7" d="M468 431.5h2"/>
<path stroke="#92ff00" stroke-width="8" d="M890 500h2M912 500h4M920 500h2M926 500h2M942 500h2"/>
<path stroke="#92ff00" stroke-width="10" d="M522 440h2M530 440h2M610 450h2M778 450h4M812 450h4M822 450h2M846 450h2M888 450h2M622 460h2M648 460h2M662 460h2M700 460h2M722 460h2M726 460h2M744 460h2M684 481h2M710 481h2"/>
<path stroke="#92ff00" stroke-width="11" d="M526 470.5h2M672 470.5h2M680 470.5h2M706 470.5h2M716 470.5h2M888 470.5h2"/>
<path stroke="#abff00" stroke-width="7" d="M518 431.5h2M532 431.5h2M880 431.5h2"/>
<path stroke="#abff00" stroke-width="8" d="M902 500h2"/>
<path stroke="#abff00" stroke-width="10" d="M842 440h2M460 450h2M612 450h2M748 450h4M768 450h2M772 450h2M806 450h2M616 460h4M650 460h2M760 460h2M796 460h2M850 460h2M856 460h2M888 481h2"/>
<path stroke="#abff00" stroke-width="11" d="M682 470.5h2M708 470.5h2M744 470.5h2M822 470.5h4M846 470.5h2"/>
<path stroke="#c5ff00" stroke-width="7" d="M470 431.5h2M512 431.5h2M520 431.5h2"/>
<path stroke="#c5ff00" stroke-width="8" d="M908 500h2M916 500h2M922 500h2M930 500h2M936 500h2M950 500h2"/>
<path stroke="#c5ff00" stroke-width="10" d="M860 440h2M866 440h2M608 450h2M774 450h2M782 450h4M788 450h2M802 450h2M460 460h2M614 460h2M746 460h2M766 460h2M804 460h2M808 460h2M824 460h2M862 460h2M888 460h2M682 481h2M886 491h2"/>
<path stroke="#c5ff00" stroke-width="11" d="M696 470.5h2M770 470.5h2M796 470.5h2"/>
<path stroke="#deff00" stroke-width="7" d="M464 431.5h2"/>
<path stroke="#deff00" stroke-width="8" d="M898 500h2M906 500h2M934 500h2"/>
<path stroke="#deff00" stroke-width="10" d="M460 440h2M520 440h2M524 450h2M752 450h4M804 450h2M856 450h4M864 450h2M526 460h2M730 460h2M754 460h2M770 460h2M806 460h2M840 460h2M864 460h2M688 481h2M696 481h2M702 481h2"/>
<path stroke="#deff00" stroke-width="11" d="M616 470.5h2M630 470.5h2M664 470.5h2M668 470.5h2M718 470.5h2M746 470.5h2M772 470.5h2M812 470.5h2M834 470.5h2"/>
<path stroke="#f8ff00" stroke-width="7" d="M462 431.5h2M466 431.5h2M514 431.5h4M582 431.5h2"/>
<path stroke="#f8ff00" stroke-width="8" d="M900 500h2M904 500h2M910 500h2M928 500h2"/>
<path stroke="#f8ff00" stroke-width="10" d="M762 450h2M824 450h2M836 450h4M844 450h2M852 450h2M606 460h2M610 460h4M624 460h2M738 460h2M750 460h2M758 460h2M778 460h2M814 460h4M846 460h2M852 460h2M858 460h2M680 481h2M704 491h2"/>
<path stroke="#f8ff00" stroke-width="11" d="M512 470.5h2M606 470.5h2M622 470.5h2M660 470.5h2M676 470.5h2M688 470.5h4M700 470.5h2M724 470.5h4M730 470.5h2M736 470.5h4M760 470.5h2M766 470.5h2M816 470.5h2"/>
<path stroke="#fff700" stroke-width="7" d="M458 431.5h2M502 431.5h2"/>
<path stroke="#fff700" stroke-width="8" d="M940 500h2"/>
<path stroke="#fff700" stroke-width="10" d="M518 440h2M582 440h2M758 450h2M810 450h2M818 450h2M830 450h2M848 450h2M860 450h2M866 450h2M516 460h2M522 460h2M740 460h2M748 460h2M752 460h2M772 460h2M836 460h4M634 481h2M690 481h2M712 481h2M796 481h2M834 481h2M888 491h2"/>
<path stroke="#fff700" stroke-width="11" d="M514 470.5h2M524 470.5h2M614 470.5h2M636 470.5h2M646 470.5h2M662 470.5h2M666 470.5h2M670 470.5h2M694 470.5h2M698 470.5h2M722 470.5h2M734 470.5h2M740 470.5h4M752 470.5h2M798 470.5h2M814 470.5h2M818 470.5h2"/>
<path stroke="#ffec00" stroke-width="7" d="M498 431.5h2M882 431.5h2"/>
<path stroke="#ffec00" stroke-width="10" d="M462 450h2M776 450h2M792 450h4M798 450h2M842 450h2M850 450h2M854 450h2M462 460h2M518 460h4M524 460h2M608 460h2M728 460h2M742 460h2M794 460h2M798 460h2M802 460h2M822 460h2M844 460h2M848 460h2M630 481h2M636 481h2M698 481h4M708 481h2M714 481h4M822 481h4M680 491h2M684 491h2M716 491h2"/>
<path stroke="#ffec00" stroke-width="11" d="M516 470.5h4M522 470.5h2M530 470.5h2M626 470.5h4M634 470.5h2M642 470.5h4M658 470.5h2M674 470.5h2M678 470.5h2M686 470.5h2M692 470.5h2M748 470.5h2M778 470.5h2M850 470.5h2"/>
<path stroke="#ffe000" stroke-width="7" d="M482 431.5h2M486 431.5h2M508 431.5h2M878 431.5h2"/>
<path stroke="#ffe000" stroke-width="8" d="M894 500h2"/>
<path stroke="#ffe000" stroke-width="10" d="M458 440h2M462 440h2M502 440h2M880 440h2M530 450h2M764 450h2M820 450h2M828 450h2M832 450h2M862 450h2M880 450h2M762 460h4M780 460h2M854 460h2M866 460h2M640 481h4M652 481h2M672 481h2M686 481h2M694 481h2M706 481h2"/>
<path stroke="#ffe000" stroke-width="11" d="M508 470.5h2M610 470.5h4M620 470.5h2M632 470.5h2M640 470.5h2M720 470.5h2M762 470.5h2M780 470.5h2M820 470.5h2M836 470.5h4M844 470.5h2M864 470.5h2"/>
<path stroke="#ffd500" stroke-width="7" d="M578 431.5h2M884 431.5h2"/>
<path stroke="#ffd500" stroke-width="10" d="M498 440h2M516 440h2M458 450h2M522 450h2M756 450h2M790 450h2M800 450h2M878 450h2M734 460h4M756 460h2M774 460h4M818 460h4M826 460h6M860 460h2M632 481h2M664 481h2M692 481h2M744 481h4M766 481h2M770 481h2M840 481h2M846 481h2M710 491h2"/>
<path stroke="#ffd500" stroke-width="11" d="M520 470.5h2M608 470.5h2M618 470.5h2M652 470.5h2M728 470.5h2M750 470.5h2M754 470.5h2M768 470.5h2M774 470.5h4M782 470.5h2M794 470.5h2M802 470.5h4M852 470.5h2"/>
<path stroke="#ffca00" stroke-width="7" d="M472 431.5h2M476 431.5h2M484 431.5h2M500 431.5h2"/>
<path stroke="#ffca00" stroke-width="10" d="M508 440h2M512 440h2M576 440h4M584 440h2M878 440h2M884 440h2M520 450h2M528 450h2M826 450h2M458 460h2M464 460h2M512 460h2M768 460h2M782 460h4M788 460h2M800 460h2M832 460h2M512 481h2M524 481h4M606 481h2M668 481h2M674 481h2M772 481h2M816 481h2M848 481h2M460 491h2M682 491h2M702 491h2M714 491h2M718 491h2M834 491h2"/>
<path stroke="#ffca00" stroke-width="11" d="M510 470.5h2M624 470.5h2M784 470.5h2M800 470.5h2M806 470.5h4M848 470.5h2M854 470.5h4"/>
<path stroke="#ffbf00" stroke-width="7" d="M494 431.5h2M506 431.5h2M510 431.5h2M584 431.5h2M868 431.5h2"/>
<path stroke="#ffbf00" stroke-width="10" d="M532 440h2M548 440h2M464 450h2M502 450h2M512 450h2M516 450h4M514 460h2M530 460h2M880 460h2M610 481h2M628 481h2M646 481h2M658 481h2M670 481h2M676 481h2M718 481h2M732 481h2M740 481h2M748 481h2M760 481h2M832 481h2M838 481h2M462 491h2M634 491h2M672 491h6M688 491h2M706 491h2M712 491h2"/>
<path stroke="#ffbf00" stroke-width="11" d="M460 470.5h2M528 470.5h2M638 470.5h2M654 470.5h4M758 470.5h2M764 470.5h2M826 470.5h6"/>
<path stroke="#ffb400" stroke-width="7" d="M474 431.5h2M480 431.5h2M488 431.5h2M496 431.5h2M572 431.5h4M586 431.5h4"/>
<path stroke="#ffb400" stroke-width="10" d="M464 440h2M514 440h2M582 450h2M882 450h2M528 460h2M582 460h2M460 481h2M508 481h2M522 481h2M612 481h6M620 481h2M654 481h4M660 481h2M666 481h2M678 481h2M722 481h2M738 481h2M750 481h2M778 481h4M798 481h2M812 481h2M818 481h2M850 481h4M694 491h4M708 491h2M732 491h2"/>
<path stroke="#ffb400" stroke-width="11" d="M582 470.5h2M648 470.5h2M792 470.5h2M832 470.5h2M862 470.5h2"/>
<path stroke="#ffa800" stroke-width="7" d="M490 431.5h4M534 431.5h2M580 431.5h2M600 431.5h2"/>
<path stroke="#ffa800" stroke-width="8" d="M710 500h2M714 500h2M888 500h2"/>
<path stroke="#ffa800" stroke-width="10" d="M468 440h2M572 440h2M868 440h2M882 440h2M570 450h2M786 450h2M884 450h2M482 460h2M502 460h2M578 460h2M790 460h4M842 460h2M462 481h2M468 481h2M502 481h2M516 481h4M622 481h2M626 481h2M638 481h2M644 481h2M650 481h2M720 481h2M724 481h4M804 481h2M814 481h2M836 481h2M630 491h2M664 491h2M690 491h4M796 491h2"/>
<path stroke="#ffa800" stroke-width="11" d="M462 470.5h2M790 470.5h2M842 470.5h2M866 470.5h2M880 470.5h2"/>
<path stroke="#ff9d00" stroke-width="7" d="M576 431.5h2M592 431.5h2M604 431.5h2"/>
<path stroke="#ff9d00" stroke-width="8" d="M704 500h2M712 500h2M716 500h2M886 500h2"/>
<path stroke="#ff9d00" stroke-width="10" d="M470 440h2M482 440h4M494 440h2M560 440h2M586 440h4M870 440h2M466 450h2M486 450h2M868 450h2M466 460h2M476 460h2M498 460h2M532 460h2M570 460h2M810 460h2M884 460h2M464 481h4M476 481h2M498 481h2M530 481h2M618 481h2M648 481h2M730 481h2M742 481h2M754 481h2M802 481h2M826 481h4M844 481h2M856 481h2M632 491h2M678 491h2M698 491h2M722 491h2M812 491h2M816 491h2M856 491h2"/>
<path stroke="#ff9d00" stroke-width="11" d="M470 470.5h2M476 470.5h2M482 470.5h2M756 470.5h2M788 470.5h2M810 470.5h2"/>
<path stroke="#ff9200" stroke-width="7" d="M478 431.5h2M596 431.5h2"/>
<path stroke="#ff9200" stroke-width="8" d="M702 500h2M834 500h2"/>
<path stroke="#ff9200" stroke-width="10" d="M500 440h2M570 440h2M574 440h2M580 440h2M592 440h2M596 440h2M482 450h4M488 450h2M494 450h2M498 450h2M514 450h2M532 450h2M560 450h2M596 450h2M468 460h2M486 460h2M508 460h2M574 460h2M480 481h8M494 481h2M662 481h2M752 481h2M768 481h2M776 481h2M800 481h2M820 481h2M464 491h2M468 491h2M494 491h2M604 491h2M636 491h4M642 491h2M652 491h2M700 491h2M720 491h2M744 491h2M822 491h2M840 491h2M846 491h2M864 491h2"/>
<path stroke="#ff9200" stroke-width="11" d="M458 470.5h2M466 470.5h2M650 470.5h2M858 470.5h4M882 470.5h2"/>
<path stroke="#ff8700" stroke-width="7" d="M540 431.5h2M548 431.5h2M560 431.5h2M570 431.5h2M598 431.5h2M870 431.5h2"/>
<path stroke="#ff8700" stroke-width="10" d="M476 440h2M480 440h2M486 440h2M510 440h2M534 440h2M544 440h2M564 440h2M568 440h2M604 440h2M468 450h4M508 450h2M572 450h2M584 450h2M592 450h2M870 450h2M480 460h2M484 460h2M488 460h2M588 460h2M878 460h2M470 481h2M488 481h2M520 481h2M528 481h2M608 481h2M736 481h2M758 481h2M784 481h2M794 481h2M808 481h2M830 481h2M862 481h4M458 491h2M466 491h2M512 491h2M646 491h2M686 491h2M824 491h2"/>
<path stroke="#ff8700" stroke-width="11" d="M484 470.5h2M488 470.5h2M494 470.5h2M498 470.5h2M502 470.5h2M532 470.5h4M574 470.5h2M578 470.5h2M584 470.5h2"/>
<path stroke="#ff7b00" stroke-width="7" d="M504 431.5h2M536 431.5h2M544 431.5h2M566 431.5h4M594 431.5h2M876 431.5h2"/>
<path stroke="#ff7b00" stroke-width="8" d="M582 500h2M684 500h2M708 500h2M796 500h2"/>
<path stroke="#ff7b00" stroke-width="10" d="M466 440h2M488 440h2M504 440h4M550 440h2M480 450h2M496 450h2M510 450h2M580 450h2M586 450h4M494 460h2M510 460h2M572 460h2M600 460h2M882 460h2M458 481h2M510 481h2M514 481h2M762 481h4M774 481h2M782 481h2M788 481h2M854 481h2M866 481h2M884 481h2M498 491h2M524 491h4M582 491h2M606 491h2M610 491h2M628 491h2M640 491h2M660 491h2M670 491h2M724 491h2M730 491h2M738 491h4M746 491h4M802 491h4M828 491h2M850 491h2M862 491h2M866 491h2"/>
<path stroke="#ff7b00" stroke-width="11" d="M468 470.5h2M472 470.5h2M480 470.5h2M496 470.5h2M586 470.5h4M876 470.5h2M884 470.5h2"/>
<path stroke="#ff7000" stroke-width="7" d="M538 431.5h2M550 431.5h2M554 431.5h2M564 431.5h2"/>
<path stroke="#ff7000" stroke-width="8" d="M482 500h2M600 500h2M630 500h2M634 500h4M706 500h2M718 500h2M840 500h2"/>
<path stroke="#ff7000" stroke-width="10" d="M492 440h2M496 440h2M558 440h2M562 440h2M566 440h2M876 440h2M476 450h2M500 450h2M534 450h2M568 450h2M574 450h4M594 450h2M604 450h2M470 460h2M496 460h2M500 460h2M584 460h2M604 460h2M876 460h2M492 481h2M496 481h2M582 481h2M604 481h2M624 481h2M806 481h2M858 481h2M880 481h4M470 491h4M476 491h2M496 491h2M508 491h2M516 491h2M608 491h2M614 491h2M626 491h2M644 491h2M650 491h2M654 491h2M658 491h2M668 491h2M726 491h2M734 491h4M742 491h2M750 491h2M770 491h4M780 491h2M806 491h2M848 491h2M852 491h2M860 491h2"/>
<path stroke="#ff7000" stroke-width="11" d="M464 470.5h2M486 470.5h2M500 470.5h2M600 470.5h2M604 470.5h2"/>
<path stroke="#ff6500" stroke-width="7" d="M552 431.5h2M562 431.5h2M602 431.5h2"/>
<path stroke="#ff6500" stroke-width="8" d="M604 500h2M632 500h2M668 500h2M732 500h2M874 500h2"/>
<path stroke="#ff6500" stroke-width="10" d="M546 440h2M556 440h2M594 440h2M598 440h2M578 450h2M598 450h4M872 450h2M876 450h2M490 460h4M568 460h2M576 460h2M580 460h2M868 460h2M472 481h2M500 481h2M506 481h2M532 481h2M570 481h2M598 481h2M734 481h2M756 481h2M790 481h2M474 491h2M522 491h2M530 491h2M572 491h2M616 491h2M620 491h4M648 491h2M656 491h2M778 491h2M798 491h4M808 491h2M814 491h2M818 491h4M832 491h2M836 491h2M854 491h2M880 491h2"/>
<path stroke="#ff6500" stroke-width="11" d="M506 470.5h2M570 470.5h4M580 470.5h2M786 470.5h2M878 470.5h2"/>
<path stroke="#ff5a00" stroke-width="7" d="M556 431.5h4M590 431.5h2M872 431.5h2"/>
<path stroke="#ff5a00" stroke-width="8" d="M486 500h2M494 500h2M588 500h2M596 500h2M640 500h2M660 500h2M672 500h2M680 500h4M696 500h2M722 500h2M804 500h2M824 500h2M856 500h2M876 500h2M884 500h2"/>
<path stroke="#ff5a00" stroke-width="10" d="M472 440h2M490 440h2M552 440h4M590 440h2M600 440h2M872 440h2M472 450h4M490 450h2M506 450h2M544 450h2M558 450h2M564 450h4M590 450h2M472 460h2M506 460h2M534 460h2M564 460h4M596 460h2M786 460h2M872 460h2M490 481h2M534 481h2M560 481h2M792 481h2M810 481h2M860 481h2M478 491h6M486 491h2M492 491h2M502 491h2M514 491h2M518 491h4M588 491h2M592 491h2M596 491h2M600 491h2M612 491h2M618 491h2M666 491h2M754 491h2M760 491h2M776 491h2M838 491h2M858 491h2M876 491h2"/>
<path stroke="#ff5a00" stroke-width="11" d="M478 470.5h2M548 470.5h2M576 470.5h2M592 470.5h2M596 470.5h2"/>
<path stroke="#ff4f00" stroke-width="7" d="M546 431.5h2"/>
<path stroke="#ff4f00" stroke-width="8" d="M476 500h2M484 500h2M512 500h2M526 500h2M592 500h2M606 500h2M642 500h2M652 500h2M664 500h2M698 500h2M720 500h2M738 500h2M750 500h2M812 500h6M822 500h2M850 500h2M864 500h2M880 500h2"/>
<path stroke="#ff4f00" stroke-width="10" d="M478 440h2M540 440h2M492 450h2M536 450h2M548 450h2M562 450h2M540 460h2M548 460h4M560 460h2M586 460h2M592 460h4M874 460h2M478 481h2M548 481h2M572 481h2M588 481h2M594 481h2M600 481h2M728 481h2M872 481h2M876 481h4M484 491h2M488 491h2M560 491h2M598 491h2M752 491h2M766 491h2M794 491h2M844 491h2M872 491h2"/>
<path stroke="#ff4f00" stroke-width="11" d="M490 470.5h4M504 470.5h2M560 470.5h2M598 470.5h2M868 470.5h6"/>
<path stroke="#ff4300" stroke-width="7" d="M542 431.5h2"/>
<path stroke="#ff4300" stroke-width="8" d="M468 500h2M480 500h2M524 500h2M534 500h2M598 500h2M614 500h2M628 500h2M638 500h2M700 500h2M744 500h2M828 500h2M846 500h4M862 500h2"/>
<path stroke="#ff4300" stroke-width="10" d="M536 440h2M542 440h2M478 450h2M540 450h2M874 450h2M474 460h2M504 460h2M598 460h2M474 481h2M504 481h2M566 481h2M592 481h2M596 481h2M786 481h2M842 481h2M528 491h2M534 491h2M548 491h2M578 491h2M728 491h2M774 491h2M782 491h4M788 491h2M810 491h2M830 491h2M870 491h2M874 491h2M882 491h4"/>
<path stroke="#ff4300" stroke-width="11" d="M474 470.5h2M544 470.5h2M602 470.5h2"/>
<path stroke="#ff3800" stroke-width="8" d="M460 500h2M466 500h2M470 500h2M488 500h2M498 500h2M502 500h2M516 500h4M530 500h2M578 500h2M594 500h2M610 500h2M616 500h2M644 500h4M650 500h2M656 500h4M676 500h2M690 500h2M726 500h2M730 500h2M736 500h2M746 500h2M802 500h2M818 500h2M832 500h2M836 500h2M852 500h4M866 500h2M870 500h4M882 500h2"/>
<path stroke="#ff3800" stroke-width="10" d="M474 440h2M874 440h2M478 460h2M536 460h2M544 460h2M870 460h2M540 481h2M556 481h4M564 481h2M578 481h2M586 481h2M602 481h2M868 481h4M874 481h2M500 491h2M510 491h2M532 491h2M562 491h2M568 491h4M574 491h4M594 491h2M602 491h2M624 491h2M758 491h2M762 491h2M826 491h2"/>
<path stroke="#ff3800" stroke-width="11" d="M536 470.5h2M540 470.5h2M552 470.5h2M594 470.5h2"/>
<path stroke="#ff2d00" stroke-width="7" d="M874 431.5h2"/>
<path stroke="#ff2d00" stroke-width="8" d="M472 500h2M496 500h2M508 500h2M532 500h2M574 500h2M584 500h4M602 500h2M666 500h2M686 500h4M694 500h2M728 500h2M740 500h2M748 500h2M754 500h2M760 500h2M798 500h2M808 500h2M838 500h2"/>
<path stroke="#ff2d00" stroke-width="10" d="M538 440h2M504 450h2M546 450h2M556 450h2M562 460h2M536 481h2M550 481h4M576 481h2M490 491h2M552 491h2M556 491h4M564 491h4M586 491h2M662 491h2M790 491h4M868 491h2"/>
<path stroke="#ff2d00" stroke-width="11" d="M562 470.5h8M874 470.5h2"/>
<path stroke="#ff2200" stroke-width="8" d="M462 500h4M492 500h2M514 500h2M540 500h2M570 500h4M576 500h2M618 500h6M626 500h2M670 500h2M674 500h2M724 500h2M742 500h2M752 500h2M766 500h2M770 500h2M794 500h2M806 500h2M860 500h2M868 500h2"/>
<path stroke="#ff2200" stroke-width="10" d="M602 440h2M550 450h2M554 450h2M538 460h2M552 460h2M556 460h4M602 460h2M562 481h2M568 481h2M584 481h2M580 491h2M584 491h2M756 491h2M768 491h2M842 491h2M878 491h2"/>
<path stroke="#ff2200" stroke-width="11" d="M538 470.5h2M550 470.5h2M558 470.5h2"/>
<path stroke="#ff1600" stroke-width="8" d="M478 500h2M490 500h2M520 500h4M548 500h2M612 500h2M662 500h2M678 500h2M692 500h2M830 500h2M844 500h2"/>
<path stroke="#ff1600" stroke-width="10" d="M538 450h2M542 450h2M552 450h2M602 450h2M590 460h2M538 481h2M544 481h2M554 481h2M574 481h2M506 491h2M544 491h2M550 491h2M554 491h2M590 491h2"/>
<path stroke="#ff1600" stroke-width="11" d="M546 470.5h2M556 470.5h2M590 470.5h2"/>
<path stroke="#ff0b00" stroke-width="8" d="M510 500h2M550 500h2M560 500h2M580 500h2M648 500h2M654 500h2M734 500h2M782 500h2M800 500h2M820 500h2M878 500h2"/>
<path stroke="#ff0b00" stroke-width="10" d="M546 460h2M554 460h2M580 481h2"/>
<path stroke="#ff0b00" stroke-width="11" d="M554 470.5h2"/>
<path stroke="#ff0000" stroke-width="8" d="M458 500h2M474 500h2M500 500h2M504 500h4M528 500h2M536 500h4M542 500h6M552 500h8M562 500h8M590 500h2M608 500h2M624 500h2M756 500h4M762 500h4M768 500h2M772 500h10M784 500h10M810 500h2M826 500h2M842 500h2M858 500h2"/>
<path stroke="#ff0000" stroke-width="10" d="M542 460h2M542 481h2M546 481h2M590 481h2M504 491h2M536 491h8M546 491h2M764 491h2M786 491h2"/>
<path stroke="#ff0000" stroke-width="11" d="M542 470.5h2"/>
</g>
<g shape-rendering="crispEdges">
<rect x="966" y="52" width="13" height="1" fill="#ff0100"/>
<rect x="966" y="53" width="13" height="1" fill="#ff0300"/>
<rect x="966" y="54" width="13" height="1" fill="#ff0500"/>
<rect x="966" y="55" width="13" height="1" fill="#ff0700"/>
<rect x="966" y="56" width="13" height="1" fill="#ff0900"/>
<rect x="966" y="57" width="13" height="1" fill="#ff0b00"/>
<rect x="966" y="58" width="13" height="1" fill="#ff0d00"/>
<rect x="966" y="59" width="13" height="1" fill="#ff0f00"/>
<rect x="966" y="60" width="13" height="1" fill="#ff1100"/>
<rect x="966" y="61" width="13" height="1" fill="#ff1300"/>
<rect x="966" y="62" width="13" height="1" fill="#ff1500"/>
<rect x="966" y="63" width="13" height="1" fill="#ff1700"/>
<rect x="966" y="64" width="13" height="1" fill="#ff1900"/>
<rect x="966" y="65" width="13" height="1" fill="#ff1b00"/>
<rect x="966" y="66" width="13" height="1" fill="#ff1e00"/>
<rect x="966" y="67" width="13" height="1" fill="#ff2000"/>
<rect x="966" y="68" width="13" height="1" fill="#ff2200"/>
<rect x="966" y="69" width="13" height="1" fill="#ff2400"/>
<rect x="966" y="70" width="13" height="1" fill="#ff2600"/>
<rect x="966" y="71" width="13" height="1" fill="#ff2800"/>
<rect x="966" y="72" width="13" height="1" fill="#ff2a00"/>
<rect x="966" y="73" width="13" height="1" fill="#ff2c00"/>
<rect x="966" y="74" width="13" height="1" fill="#ff2e00"/>
<rect x="966" y="75" width="13" height="1" fill="#ff3000"/>
<rect x="966" y="76" width="13" height="1" fill="#ff3200"/>
<rect x="966" y="77" width="13" height="1" fill="#ff3400"/>
<rect x="966" y="78" width="13" height="1" fill="#ff3600"/>
<rect x="966" y="79" width="13" height="1" fill="#ff3800"/>
<rect x="966" y="80" width="13" height="1" fill="#ff3a00"/>
<rect x="966" y="81" width="13" height="1" fill="#ff3c00"/>
<rect x="966" y="82" width="13" height="1" fill="#ff3e00"/>
<rect x="966" y="83" width="13" height="1" fill="#ff4000"/>
<rect x="966" y="84" width="13" height="1" fill="#ff4200"/>
<rect x="966" y="85" width="13" height="1" fill="#ff4400"/>
<rect x="966" y="86" width="13" height="1" fill="#ff4600"/>
<rect x="966" y="87" width="13" height="1" fill="#ff4800"/>
<rect x="966" y="88" width="13" height="1" fill="#ff4a00"/>
<rect x="966" y="89" width="13" height="1" fill="#ff4c00"/>
<rect x="966" y="90" width="13" height="1" fill="#ff4e00"/>
<rect x="966" y="91" width="13" height="1" fill="#ff5000"/>
<rect x="966" y="92" width="13" height="1" fill="#ff5200"/>
<rect x="966" y="93" width="13" height="1" fill="#ff5400"/>
<rect x="966" y="94" width="13" height="1" fill="#ff5600"/>
<rect x="966" y="95" width="13" height="1" fill="#ff5900"/>
<rect x="966" y="96" width="13" height="1" fill="#ff5b00"/>
<rect x="966" y="97" width="13" height="1" fill="#ff5d00"/>
<rect x="966" y="98" width="13" height="1" fill="#ff5f00"/>
<rect x="966" y="99" width="13" height="1" fill="#ff6100"/>
<rect x="966" y="100" width="13" height="1" fill="#ff6300"/>
<rect x="966" y="101" width="13" height="1" fill="#ff6500"/>
<rect x="966" y="102" width="13" height="1" fill="#ff6700"/>
<rect x="966" y="103" width="13" height="1" fill="#ff6900"/>
<rect x="966" y="104" width="13" height="1" fill="#ff6b00"/>
<rect x="966" y="105" width="13" height="1" fill="#ff6d00"/>
<rect x="966" y="106" width="13" height="1" fill="#ff6f00"/>
<rect x="966" y="107" width="13" height="1" fill="#ff7100"/>
<rect x="966" y="108" width="13" height="1" fill="#ff7300"/>
<rect x="966" y="109" width="13" height="1" fill="#ff7500"/>
<rect x="966" y="110" width="13" height="1" fill="#ff7700"/>
<rect x="966" y="111" width="13" height="1" fill="#ff7900"/>
<rect x="966" y="112" width="13" height="1" fill="#ff7b00"/>
<rect x="966" y="113" width="13" height="1" fill="#ff7d00"/>
<rect x="966" y="114" width="13" height="1" fill="#ff7f00"/>
<rect x="966" y="115" width="13" height="1" fill="#ff8100"/>
<rect x="966" y="116" width="13" height="1" fill="#ff8300"/>
<rect x="966" y="117" width="13" height="1" fill="#ff8500"/>
<rect x="966" y="118" width="13" height="1" fill="#ff8700"/>
<rect x="966" y="119" width="13" height="1" fill="#ff8900"/>
<rect x="966" y="120" width="13" height="1" fill="#ff8b00"/>
<rect x="966" y="121" width="13" height="1" fill="#ff8d00"/>
<rect x="966" y="122" width="13" height="1" fill="#ff8f00"/>
<rect x="966" y="123" width="13" height="1" fill="#ff9100"/>
<rect x="966" y="124" width="13" height="1" fill="#ff9400"/>
<rect x="966" y="125" width="13" height="1" fill="#ff9600"/>
<rect x="966" y="126" width="13" height="1" fill="#ff9800"/>
<rect x="966" y="127" width="13" height="1" fill="#ff9a00"/>
<rect x="966" y="128" width="13" height="1" fill="#ff9c00"/>
<rect x="966" y="129" width="13" height="1" fill="#ff9e00"/>
<rect x="966" y="130" width="13" height="1" fill="#ffa000"/>
<rect x="966" y="131" width="13" height="1" fill="#ffa200"/>
<rect x="966" y="132" width="13" height="1" fill="#ffa400"/>
<rect x="966" y="133" width="13" height="1" fill="#ffa600"/>
<rect x="966" y="134" width="13" height="1" fill="#ffa800"/>
<rect x="966" y="135" width="13" height="1" fill="#ffaa00"/>
<rect x="966" y="136" width="13" height="1" fill="#ffac00"/>
<rect x="966" y="137" width="13" height="1" fill="#ffae00"/>
<rect x="966" y="138" width="13" height="1" fill="#ffb000"/>
<rect x="966" y="139" width="13" height="1" fill="#ffb200"/>
<rect x="966" y="140" width="13" height="1" fill="#ffb400"/>
<rect x="966" y="141" width="13" height="1" fill="#ffb600"/>
<rect x="966" y="142" width="13" height="1" fill="#ffb800"/>
<rect x="966" y="143" width="13" height="1" fill="#ffba00"/>
<rect x="966" y="144" width="13" height="1" fill="#ffbc00"/>
<rect x="966" y="145" width="13" height="1" fill="#ffbe00"/>
<rect x="966" y="146" width="13" height="1" fill="#ffc000"/>
<rect x="966" y="147" width="13" height="1" fill="#ffc200"/>
<rect x="966" y="148" width="13" height="1" fill="#ffc400"/>
<rect x="966" y="149" width="13" height="1" fill="#ffc600"/>
<rect x="966" y="150" width="13" height="1" fill="#ffc800"/>
<rect x="966" y="151" width="13" height="1" fill="#ffca00"/>
<rect x="966" y="152" width="13" height="1" fill="#ffcd00"/>
<rect x="966" y="153" width="13" height="1" fill="#ffcf00"/>
<rect x="966" y="154" width="13" height="1" fill="#ffd100"/>
<rect x="966" y="155" width="13" height="1" fill="#ffd300"/>
<rect x="966" y="156" width="13" height="1" fill="#ffd500"/>
<rect x="966" y="157" width="13" height="1" fill="#ffd700"/>
<rect x="966" y="158" width="13" height="1" fill="#ffd900"/>
<rect x="966" y="159" width="13" height="1" fill="#ffdb00"/>
<rect x="966" y="160" width="13" height="1" fill="#ffdd00"/>
<rect x="966" y="161" width="13" height="1" fill="#ffdf00"/>
<rect x="966" y="162" width="13" height="1" fill="#ffe100"/>
<rect x="966" y="163" width="13" height="1" fill="#ffe300"/>
<rect x="966" y="164" width="13" height="1" fill="#ffe500"/>
<rect x="966" y="165" width="13" height="1" fill="#ffe700"/>
<rect x="966" y="166" width="13" height="1" fill="#ffe900"/>
<rect x="966" y="167" width="13" height="1" fill="#ffeb00"/>
<rect x="966" y="168" width="13" height="1" fill="#ffed00"/>
<rect x="966" y="169" width="13" height="1" fill="#ffef00"/>
<rect x="966" y="170" width="13" height="1" fill="#fff100"/>
<rect x="966" y="171" width="13" height="1" fill="#fff300"/>
<rect x="966" y="172" width="13" height="1" fill="#fff500"/>
<rect x="966" y="173" width="13" height="1" fill="#fff700"/>
<rect x="966" y="174" width="13" height="1" fill="#fff900"/>
<rect x="966" y="175" width="13" height="1" fill="#fffb00"/>
<rect x="966" y="176" width="13" height="1" fill="#fffd00"/>
<rect x="966" y="177" width="13" height="1" fill="#feff00"/>
<rect x="966" y="178" width="13" height="1" fill="#faff00"/>
<rect x="966" y="179" width="13" height="1" fill="#f5ff00"/>
<rect x="966" y="180" width="13" height="1" fill="#f0ff00"/>
<rect x="966" y="181" width="13" height="1" fill="#ecff00"/>
<rect x="966" y="182" width="13" height="1" fill="#e7ff00"/>
<rect x="966" y="183" width="13" height="1" fill="#e2ff00"/>
<rect x="966" y="184" width="13" height="1" fill="#deff00"/>
<rect x="966" y="185" width="13" height="1" fill="#d9ff00"/>
<rect x="966" y="186" width="13" height="1" fill="#d4ff00"/>
<rect x="966" y="187" width="13" height="1" fill="#d0ff00"/>
<rect x="966" y="188" width="13" height="1" fill="#cbff00"/>
<rect x="966" y="189" width="13" height="1" fill="#c7ff00"/>
<rect x="966" y="190" width="13" height="1" fill="#c2ff00"/>
<rect x="966" y="191" width="13" height="1" fill="#bdff00"/>
<rect x="966" y="192" width="13" height="1" fill="#b9ff00"/>
<rect x="966" y="193" width="13" height="1" fill="#b4ff00"/>
<rect x="966" y="194" width="13" height="1" fill="#afff00"/>
<rect x="966" y="195" width="13" height="1" fill="#abff00"/>
<rect x="966" y="196" width="13" height="1" fill="#a6ff00"/>
<rect x="966" y="197" width="13" height="1" fill="#a2ff00"/>
<rect x="966" y="198" width="13" height="1" fill="#9dff00"/>
<rect x="966" y="199" width="13" height="1" fill="#98ff00"/>
<rect x="966" y="200" width="13" height="1" fill="#94ff00"/>
<rect x="966" y="201" width="13" height="1" fill="#8fff00"/>
<rect x="966" y="202" width="13" height="1" fill="#8aff00"/>
<rect x="966" y="203" width="13" height="1" fill="#86ff00"/>
<rect x="966" y="204" width="13" height="1" fill="#81ff00"/>
<rect x="966" y="205" width="13" height="1" fill="#7cff00"/>
<rect x="966" y="206" width="13" height="1" fill="#78ff00"/>
<rect x="966" y="207" width="13" height="1" fill="#73ff00"/>
<rect x="966" y="208" width="13" height="1" fill="#6fff00"/>
<rect x="966" y="209" width="13" height="1" fill="#6aff00"/>
<rect x="966" y="210" width="13" height="1" fill="#65ff00"/>
<rect x="966" y="211" width="13" height="1" fill="#61ff00"/>
<rect x="966" y="212" width="13" height="1" fill="#5cff00"/>
<rect x="966" y="213" width="13" height="1" fill="#57ff00"/>
<rect x="966" y="214" width="13" height="1" fill="#53ff00"/>
<rect x="966" y="215" width="13" height="1" fill="#4eff00"/>
<rect x="966" y="216" width="13" height="1" fill="#4aff00"/>
<rect x="966" y="217" width="13" height="1" fill="#45ff00"/>
<rect x="966" y="218" width="13" height="1" fill="#40ff00"/>
<rect x="966" y="219" width="13" height="1" fill="#3cff00"/>
<rect x="966" y="220" width="13" height="1" fill="#37ff00"/>
<rect x="966" y="221" width="13" height="1" fill="#32ff00"/>
<rect x="966" y="222" width="13" height="1" fill="#2eff00"/>
<rect x="966" y="223" width="13" height="1" fill="#29ff00"/>
<rect x="966" y="224" width="13" height="1" fill="#25ff00"/>
<rect x="966" y="225" width="13" height="1" fill="#20ff00"/>
<rect x="966" y="226" width="13" height="1" fill="#1bff00"/>
<rect x="966" y="227" width="13" height="1" fill="#17ff00"/>
<rect x="966" y="228" width="13" height="1" fill="#12ff00"/>
<rect x="966" y="229" width="13" height="1" fill="#0dff00"/>
<rect x="966" y="230" width="13" height="1" fill="#09ff00"/>
<rect x="966" y="231" width="13" height="1" fill="#04ff00"/>
<rect x="966" y="232" width="13" height="1" fill="#00ff00"/>
<rect x="966" y="233" width="13" height="1" fill="#00ff03"/>
<rect x="966" y="234" width="13" height="1" fill="#00ff06"/>
<rect x="966" y="235" width="13" height="1" fill="#00ff09"/>
<rect x="966" y="236" width="13" height="1" fill="#00ff0c"/>
<rect x="966" y="237" width="13" height="1" fill="#00ff0f"/>
<rect x="966" y="238" width="13" height="1" fill="#00ff12"/>
<rect x="966" y="239" width="13" height="1" fill="#00ff15"/>
<rect x="966" y="240" width="13" height="1" fill="#00ff17"/>
<rect x="966" y="241" width="13" height="1" fill="#00ff1a"/>
<rect x="966" y="242" width="13" height="1" fill="#00ff1d"/>
<rect x="966" y="243" width="13" height="1" fill="#00ff20"/>
<rect x="966" y="244" width="13" height="1" fill="#00ff23"/>
<rect x="966" y="245" width="13" height="1" fill="#00ff26"/>
<rect x="966" y="246" width="13" height="1" fill="#00ff29"/>
<rect x="966" y="247" width="13" height="1" fill="#00ff2c"/>
<rect x="966" y="248" width="13" height="1" fill="#00ff2f"/>
<rect x="966" y="249" width="13" height="1" fill="#00ff31"/>
<rect x="966" y="250" width="13" height="1" fill="#00ff34"/>
<rect x="966" y="251" width="13" height="1" fill="#00ff37"/>
<rect x="966" y="252" width="13" height="1" fill="#00ff3a"/>
<rect x="966" y="253" width="13" height="1" fill="#00ff3d"/>
<rect x="966" y="254" width="13" height="1" fill="#00ff40"/>
<rect x="966" y="255" width="13" height="1" fill="#00ff43"/>
<rect x="966" y="256" width="13" height="1" fill="#00ff46"/>
<rect x="966" y="257" width="13" height="1" fill="#00ff49"/>
<rect x="966" y="258" width="13" height="1" fill="#00ff4b"/>
<rect x="966" y="259" width="13" height="1" fill="#00ff4e"/>
<rect x="966" y="260" width="13" height="1" fill="#00ff51"/>
<rect x="966" y="261" width="13" height="1" fill="#00ff54"/>
<rect x="966" y="262" width="13" height="1" fill="#00ff57"/>
<rect x="966" y="263" width="13" height="1" fill="#00ff5a"/>
<rect x="966" y="264" width="13" height="1" fill="#00ff5d"/>
<rect x="966" y="265" width="13" height="1" fill="#00ff60"/>
<rect x="966" y="266" width="13" height="1" fill="#00ff63"/>
<rect x="966" y="267" width="13" height="1" fill="#00ff65"/>
<rect x="966" y="268" width="13" height="1" fill="#00ff68"/>
<rect x="966" y="269" width="13" height="1" fill="#00ff6b"/>
<rect x="966" y="270" width="13" height="1" fill="#00ff6e"/>
<rect x="966" y="271" width="13" height="1" fill="#00ff71"/>
<rect x="966" y="272" width="13" height="1" fill="#00ff74"/>
<rect x="966" y="273" width="13" height="1" fill="#00ff77"/>
<rect x="966" y="274" width="13" height="1" fill="#00ff7a"/>
<rect x="966" y="275" width="13" height="1" fill="#00ff7d"/>
<rect x="966" y="276" width="13" height="1" fill="#00ff7f"/>
<rect x="966" y="277" width="13" height="1" fill="#00ff82"/>
<rect x="966" y="278" width="13" height="1" fill="#00ff85"/>
<rect x="966" y="279" width="13" height="1" fill="#00ff88"/>
<rect x="966" y="280" width="13" height="1" fill="#00ff8b"/>
<rect x="966" y="281" width="13" height="1" fill="#00ff8e"/>
<rect x="966" y="282" width="13" height="1" fill="#00ff91"/>
<rect x="966" y="283" width="13" height="1" fill="#00ff94"/>
<rect x="966" y="284" width="13" height="1" fill="#00ff97"/>
<rect x="966" y="285" width="13" height="1" fill="#00ff99"/>
<rect x="966" y="286" width="13" height="1" fill="#00ff9c"/>
<rect x="966" y="287" width="13" height="1" fill="#00ff9f"/>
<rect x="966" y="288" width="13" height="1" fill="#00ffa2"/>
<rect x="966" y="289" width="13" height="1" fill="#00ffa5"/>
<rect x="966" y="290" width="13" height="1" fill="#00ffa8"/>
<rect x="966" y="291" width="13" height="1" fill="#00ffab"/>
<rect x="966" y="292" width="13" height="1" fill="#00ffae"/>
<rect x="966" y="293" width="13" height="1" fill="#00ffb1"/>
<rect x="966" y="294" width="13" height="1" fill="#00ffb3"/>
<rect x="966" y="295" width="13" height="1" fill="#00ffb6"/>
<rect x="966" y="296" width="13" height="1" fill="#00ffb9"/>
<rect x="966" y="297" width="13" height="1" fill="#00ffbc"/>
<rect x="966" y="298" width="13" height="1" fill="#00ffbf"/>
<rect x="966" y="299" width="13" height="1" fill="#00ffc2"/>
<rect x="966" y="300" width="13" height="1" fill="#00ffc5"/>
<rect x="966" y="301" width="13" height="1" fill="#00ffc8"/>
<rect x="966" y="302" width="13" height="1" fill="#00ffcb"/>
<rect x="966" y="303" width="13" height="1" fill="#00ffcd"/>
<rect x="966" y="304" width="13" height="1" fill="#00ffd0"/>
<rect x="966" y="305" width="13" height="1" fill="#00ffd3"/>
<rect x="966" y="306" width="13" height="1" fill="#00ffd6"/>
<rect x="966" y="307" width="13" height="1" fill="#00ffd9"/>
<rect x="966" y="308" width="13" height="1" fill="#00ffdc"/>
<rect x="966" y="309" width="13" height="1" fill="#00ffdf"/>
<rect x="966" y="310" width="13" height="1" fill="#00ffe2"/>
<rect x="966" y="311" width="13" height="1" fill="#00ffe5"/>
<rect x="966" y="312" width="13" height="1" fill="#00ffe7"/>
<rect x="966" y="313" width="13" height="1" fill="#00ffea"/>
<rect x="966" y="314" width="13" height="1" fill="#00ffed"/>
<rect x="966" y="315" width="13" height="1" fill="#00fff0"/>
<rect x="966" y="316" width="13" height="1" fill="#00fff3"/>
<rect x="966" y="317" width="13" height="1" fill="#00fff6"/>
<rect x="966" y="318" width="13" height="1" fill="#00fff9"/>
<rect x="966" y="319" width="13" height="1" fill="#00fffc"/>
<rect x="966" y="320" width="13" height="1" fill="#00ffff"/>
<rect x="966" y="321" width="13" height="1" fill="#00faff"/>
<rect x="966" y="322" width="13" height="1" fill="#00f4ff"/>
<rect x="966" y="323" width="13" height="1" fill="#00eeff"/>
<rect x="966" y="324" width="13" height="1" fill="#00e9ff"/>
<rect x="966" y="325" width="13" height="1" fill="#00e3ff"/>
<rect x="966" y="326" width="13" height="1" fill="#00ddff"/>
<rect x="966" y="327" width="13" height="1" fill="#00d7ff"/>
<rect x="966" y="328" width="13" height="1" fill="#00d2ff"/>
<rect x="966" y="329" width="13" height="1" fill="#00ccff"/>
<rect x="966" y="330" width="13" height="1" fill="#00c6ff"/>
<rect x="966" y="331" width="13" height="1" fill="#00c0ff"/>
<rect x="966" y="332" width="13" height="1" fill="#00baff"/>
<rect x="966" y="333" width="13" height="1" fill="#00b5ff"/>
<rect x="966" y="334" width="13" height="1" fill="#00afff"/>
<rect x="966" y="335" width="13" height="1" fill="#00a9ff"/>
<rect x="966" y="336" width="13" height="1" fill="#00a3ff"/>
<rect x="966" y="337" width="13" height="1" fill="#009eff"/>
<rect x="966" y="338" width="13" height="1" fill="#0098ff"/>
<rect x="966" y="339" width="13" height="1" fill="#0092ff"/>
<rect x="966" y="340" width="13" height="1" fill="#008cff"/>
<rect x="966" y="341" width="13" height="1" fill="#0086ff"/>
<rect x="966" y="342" width="13" height="1" fill="#0081ff"/>
<rect x="966" y="343" width="13" height="1" fill="#007bff"/>
<rect x="966" y="344" width="13" height="1" fill="#0075ff"/>
<rect x="966" y="345" width="13" height="1" fill="#006fff"/>
<rect x="966" y="346" width="13" height="1" fill="#006aff"/>
<rect x="966" y="347" width="13" height="1" fill="#0064ff"/>
<rect x="966" y="348" width="13" height="1" fill="#005eff"/>
<rect x="966" y="349" width="13" height="1" fill="#0058ff"/>
<rect x="966" y="350" width="13" height="1" fill="#0052ff"/>
<rect x="966" y="351" width="13" height="1" fill="#004dff"/>
<rect x="966" y="352" width="13" height="1" fill="#0047ff"/>
<rect x="966" y="353" width="13" height="1" fill="#0041ff"/>
<rect x="966" y="354" width="13" height="1" fill="#003bff"/>
<rect x="966" y="355" width="13" height="1" fill="#0036ff"/>
<rect x="966" y="356" width="13" height="1" fill="#0030ff"/>
<rect x="966" y="357" width="13" height="1" fill="#002aff"/>
<rect x="966" y="358" width="13" height="1" fill="#0024ff"/>
<rect x="966" y="359" width="13" height="1" fill="#001eff"/>
<rect x="966" y="360" width="13" height="1" fill="#0019ff"/>
<rect x="966" y="361" width="13" height="1" fill="#0013ff"/>
<rect x="966" y="362" width="13" height="1" fill="#000dff"/>
<rect x="966" y="363" width="13" height="1" fill="#0007ff"/>
<rect x="966" y="364" width="13" height="1" fill="#0001ff"/>
<rect x="966" y="365" width="13" height="1" fill="#0000fd"/>
<rect x="966" y="366" width="13" height="1" fill="#0000fa"/>
<rect x="966" y="367" width="13" height="1" fill="#0000f6"/>
<rect x="966" y="368" width="13" height="1" fill="#0000f3"/>
<rect x="966" y="369" width="13" height="1" fill="#0000f0"/>
<rect x="966" y="370" width="13" height="1" fill="#0000ed"/>
<rect x="966" y="371" width="13" height="1" fill="#0000ea"/>
<rect x="966" y="372" width="13" height="1" fill="#0000e7"/>
<rect x="966" y="373" width="13" height="1" fill="#0000e3"/>
<rect x="966" y="374" width="13" height="1" fill="#0000e0"/>
<rect x="966" y="375" width="13" height="1" fill="#0000dd"/>
<rect x="966" y="376" width="13" height="1" fill="#0000da"/>
<rect x="966" y="377" width="13" height="1" fill="#0000d7"/>
<rect x="966" y="378" width="13" height="1" fill="#0000d4"/>
<rect x="966" y="379" width="13" height="1" fill="#0000d0"/>
<rect x="966" y="380" width="13" height="1" fill="#0000cd"/>
<rect x="966" y="381" width="13" height="1" fill="#0000ca"/>
<rect x="966" y="382" width="13" height="1" fill="#0000c7"/>
<rect x="966" y="383" width="13" height="1" fill="#0000c4"/>
<rect x="966" y="384" width="13" height="1" fill="#0000c1"/>
<rect x="966" y="385" width="13" height="1" fill="#0000be"/>
<rect x="966" y="386" width="13" height="1" fill="#0000ba"/>
<rect x="966" y="387" width="13" height="1" fill="#0000b7"/>
<rect x="966" y="388" width="13" height="1" fill="#0000b4"/>
<rect x="966" y="389" width="13" height="1" fill="#0000b1"/>
<rect x="966" y="390" width="13" height="1" fill="#0000ae"/>
<rect x="966" y="391" width="13" height="1" fill="#0000ab"/>
<rect x="966" y="392" width="13" height="1" fill="#0000a7"/>
<rect x="966" y="393" width="13" height="1" fill="#0000a4"/>
<rect x="966" y="394" width="13" height="1" fill="#0000a1"/>
<rect x="966" y="395" width="13" height="1" fill="#00009e"/>
<rect x="966" y="396" width="13" height="1" fill="#00009b"/>
<rect x="966" y="397" width="13" height="1" fill="#000098"/>
<rect x="966" y="398" width="13" height="1" fill="#000095"/>
<rect x="966" y="399" width="13" height="1" fill="#000091"/>
<rect x="966" y="400" width="13" height="1" fill="#00008e"/>
<rect x="966" y="401" width="13" height="1" fill="#00008b"/>
<rect x="966" y="402" width="13" height="1" fill="#000088"/>
<rect x="966" y="403" width="13" height="1" fill="#000085"/>
<rect x="966" y="404" width="13" height="1" fill="#000082"/>
<rect x="966" y="429" width="13" height="1" fill="#ff0500"/>
<rect x="966" y="430" width="13" height="1" fill="#ff0e00"/>
<rect x="966" y="431" width="13" height="1" fill="#ff1800"/>
<rect x="966" y="432" width="13" height="1" fill="#ff2100"/>
<rect x="966" y="433" width="13" height="1" fill="#ff2b00"/>
<rect x="966" y="434" width="13" height="1" fill="#ff3400"/>
<rect x="966" y="435" width="13" height="1" fill="#ff3d00"/>
<rect x="966" y="436" width="13" height="1" fill="#ff4700"/>
<rect x="966" y="437" width="13" height="1" fill="#ff5000"/>
<rect x="966" y="438" width="13" height="1" fill="#ff5a00"/>
<rect x="966" y="439" width="13" height="1" fill="#ff6300"/>
<rect x="966" y="440" width="13" height="1" fill="#ff6d00"/>
<rect x="966" y="441" width="13" height="1" fill="#ff7600"/>
<rect x="966" y="442" width="13" height="1" fill="#ff8000"/>
<rect x="966" y="443" width="13" height="1" fill="#ff8900"/>
<rect x="966" y="444" width="13" height="1" fill="#ff9200"/>
<rect x="966" y="445" width="13" height="1" fill="#ff9c00"/>
<rect x="966" y="446" width="13" height="1" fill="#ffa500"/>
<rect x="966" y="447" width="13" height="1" fill="#ffaf00"/>
<rect x="966" y="448" width="13" height="1" fill="#ffb800"/>
<rect x="966" y="449" width="13" height="1" fill="#ffc200"/>
<rect x="966" y="450" width="13" height="1" fill="#ffcb00"/>
<rect x="966" y="451" width="13" height="1" fill="#ffd500"/>
<rect x="966" y="452" width="13" height="1" fill="#ffde00"/>
<rect x="966" y="453" width="13" height="1" fill="#ffe800"/>
<rect x="966" y="454" width="13" height="1" fill="#fff100"/>
<rect x="966" y="455" width="13" height="1" fill="#fffa00"/>
<rect x="966" y="456" width="13" height="1" fill="#f4ff00"/>
<rect x="966" y="457" width="13" height="1" fill="#deff00"/>
<rect x="966" y="458" width="13" height="1" fill="#c9ff00"/>
<rect x="966" y="459" width="13" height="1" fill="#b3ff00"/>
<rect x="966" y="460" width="13" height="1" fill="#9eff00"/>
<rect x="966" y="461" width="13" height="1" fill="#88ff00"/>
<rect x="966" y="462" width="13" height="1" fill="#73ff00"/>
<rect x="966" y="463" width="13" height="1" fill="#5dff00"/>
<rect x="966" y="464" width="13" height="1" fill="#48ff00"/>
<rect x="966" y="465" width="13" height="1" fill="#32ff00"/>
<rect x="966" y="466" width="13" height="1" fill="#1dff00"/>
<rect x="966" y="467" width="13" height="1" fill="#07ff00"/>
<rect x="966" y="468" width="13" height="1" fill="#00ff09"/>
<rect x="966" y="469" width="13" height="1" fill="#00ff16"/>
<rect x="966" y="470" width="13" height="1" fill="#00ff24"/>
<rect x="966" y="471" width="13" height="1" fill="#00ff31"/>
<rect x="966" y="472" width="13" height="1" fill="#00ff3f"/>
<rect x="966" y="473" width="13" height="1" fill="#00ff4c"/>
<rect x="966" y="474" width="13" height="1" fill="#00ff59"/>
<rect x="966" y="475" width="13" height="1" fill="#00ff67"/>
<rect x="966" y="476" width="13" height="1" fill="#00ff74"/>
<rect x="966" y="477" width="13" height="1" fill="#00ff82"/>
<rect x="966" y="478" width="13" height="1" fill="#00ff8f"/>
<rect x="966" y="479" width="13" height="1" fill="#00ff9d"/>
<rect x="966" y="480" width="13" height="1" fill="#00ffaa"/>
<rect x="966" y="481" width="13" height="1" fill="#00ffb7"/>
<rect x="966" y="482" width="13" height="1" fill="#00ffc5"/>
<rect x="966" y="483" width="13" height="1" fill="#00ffd2"/>
<rect x="966" y="484" width="13" height="1" fill="#00ffe0"/>
<rect x="966" y="485" width="13" height="1" fill="#00ffed"/>
<rect x="966" y="486" width="13" height="1" fill="#00fffa"/>
<rect x="966" y="487" width="13" height="1" fill="#00edff"/>
<rect x="966" y="488" width="13" height="1" fill="#00d2ff"/>
<rect x="966" y="489" width="13" height="1" fill="#00b7ff"/>
<rect x="966" y="490" width="13" height="1" fill="#009dff"/>
<rect x="966" y="491" width="13" height="1" fill="#0082ff"/>
<rect x="966" y="492" width="13" height="1" fill="#0067ff"/>
<rect x="966" y="493" width="13" height="1" fill="#004cff"/>
<rect x="966" y="494" width="13" height="1" fill="#0031ff"/>
<rect x="966" y="495" width="13" height="1" fill="#0016ff"/>
<rect x="966" y="496" width="13" height="1" fill="#0000fd"/>
<rect x="966" y="497" width="13" height="1" fill="#0000ee"/>
<rect x="966" y="498" width="13" height="1" fill="#0000df"/>
<rect x="966" y="499" width="13" height="1" fill="#0000d1"/>
<rect x="966" y="500" width="13" height="1" fill="#0000c2"/>
<rect x="966" y="501" width="13" height="1" fill="#0000b3"/>
<rect x="966" y="502" width="13" height="1" fill="#0000a5"/>
<rect x="966" y="503" width="13" height="1" fill="#000096"/>
<rect x="966" y="504" width="13" height="1" fill="#000087"/>
</g>
<polyline points="460,196.3 485,196.2 509,196 530,195 545,193.8 565,192.3 582,190.8 610,187 644,182 675,176 706,170 728,164 748.5,157.7 772,149.5 794.6,140 812,131.5 830,121.5 848,110.5 865.5,98.8 884,83.5 901,68.3 916,59 931.4,52.3" fill="none" stroke="#ff00f0" stroke-width="2" stroke-linejoin="round"/>
<path d="M90 51.5L954 51.5M90 405.5L954 405.5M90.5 51L90.5 406M953.5 51L953.5 406M90 427.5L954 427.5M90 504.5L954 504.5M90.5 427L90.5 505M953.5 427L953.5 505M81 111.5L90 111.5M86 81.5L90 81.5M86 64.5L90 64.5M86 52.5L90 52.5M81 209.5L90 209.5M86 179.5L90 179.5M86 162.5L90 162.5M86 150.5L90 150.5M86 141.5L90 141.5M86 133.5L90 133.5M86 126.5L90 126.5M86 120.5L90 120.5M86 115.5L90 115.5M81 307.5L90 307.5M86 277.5L90 277.5M86 260.5L90 260.5M86 248.5L90 248.5M86 239.5L90 239.5M86 231.5L90 231.5M86 224.5L90 224.5M86 218.5L90 218.5M86 213.5L90 213.5M81 405.5L90 405.5M86 375.5L90 375.5M86 358.5L90 358.5M86 346.5L90 346.5M86 337.5L90 337.5M86 329.5L90 329.5M86 322.5L90 322.5M86 316.5L90 316.5M86 311.5L90 311.5M81 427.5L90 427.5M81 470.5L90 470.5M86 430.5L90 430.5M86 432.5L90 432.5M86 435.5L90 435.5M86 437.5L90 437.5M86 441.5L90 441.5M86 445.5L90 445.5M86 450.5L90 450.5M86 457.5L90 457.5M86 472.5L90 472.5M86 475.5L90 475.5M86 478.5L90 478.5M86 481.5L90 481.5M86 486.5L90 486.5M86 491.5L90 491.5M86 498.5L90 498.5M107.5 505L107.5 509.5M139.5 505L139.5 509.5M170.5 505L170.5 514M202.5 505L202.5 509.5M233.5 505L233.5 509.5M265.5 505L265.5 509.5M296.5 505L296.5 514M328.5 505L328.5 509.5M359.5 505L359.5 509.5M390.5 505L390.5 509.5M422.5 505L422.5 514M453.5 505L453.5 509.5M485.5 505L485.5 509.5M516.5 505L516.5 509.5M548.5 505L548.5 514M579.5 505L579.5 509.5M611.5 505L611.5 509.5M642.5 505L642.5 509.5M674.5 505L674.5 514M705.5 505L705.5 509.5M736.5 505L736.5 509.5M768.5 505L768.5 509.5M799.5 505L799.5 514M831.5 505L831.5 509.5M862.5 505L862.5 509.5M894.5 505L894.5 509.5M925.5 505L925.5 514M979.5 52L979.5 405M979.5 429L979.5 505M979 52.5L989 52.5M979 87.5L984 87.5M979 122.5L989 122.5M979 158.5L984 158.5M979 193.5L989 193.5M979 228.5L984 228.5M979 263.5L989 263.5M979 299.5L984 299.5M979 334.5L989 334.5M979 369.5L984 369.5M979 404.5L989 404.5M979 428.5L984 428.5M979 436.5L984 436.5M979 443.5L984 443.5M979 451.5L984 451.5M979 458.5L989 458.5M979 466.5L984 466.5M979 473.5L984 473.5M979 481.5L984 481.5M979 488.5L984 488.5M979 496.5L989 496.5M979 503.5L984 503.5" stroke="#000" stroke-width="1" fill="none" shape-rendering="crispEdges"/>
<text x="521.3" y="30.8" font-size="13" text-anchor="middle" textLength="484.5" lengthAdjust="spacing">DE 1/PWI-SFC&#160; Spin Plane E-Field Spectra, 200 meter antenna, 104 Hz to 409 kHz</text>
<text x="523.2" y="44" font-size="9.6" text-anchor="middle" textLength="126.5" lengthAdjust="spacing" stroke="#000" stroke-width="0.25">(Magenta Line: Fce in Hz)</text>
<text x="521.8" y="418.7" font-size="13" text-anchor="middle" textLength="479.2" lengthAdjust="spacing">DE 1/PWI-LFC&#160; Spin Plane E-Field Spectra, 200 meter antenna, 1.78 Hz to 100 Hz</text>
<text x="55.7" y="118.9" font-size="12.9">10<tspan dx="0" dy="-6" font-size="12">5</tspan></text>
<text x="55.7" y="216.9" font-size="12.9">10<tspan dx="0" dy="-6" font-size="12">4</tspan></text>
<text x="55.7" y="314.9" font-size="12.9">10<tspan dx="0" dy="-6" font-size="12">3</tspan></text>
<text x="55.7" y="412.9" font-size="12.9">10<tspan dx="0" dy="-6" font-size="12">2</tspan></text>
<text x="55.7" y="435.1" font-size="12.9">10<tspan dx="0" dy="-6" font-size="12">2</tspan></text>
<text x="55.7" y="477.9" font-size="12.9">10<tspan dx="0" dy="-6" font-size="12">1</tspan></text>
<text transform="translate(47.2,228.5) rotate(-90)" font-size="12.9" text-anchor="middle">Frequency (Hz)</text>
<text transform="translate(46.6,466) rotate(-90)" font-size="12.9" text-anchor="middle">Freq (Hz)</text>
<text x="992" y="60" font-size="12.9">10<tspan dx="0.3" dy="-6" font-size="12">-6</tspan></text>
<text x="992" y="130.5" font-size="12.9">10<tspan dx="0.3" dy="-6" font-size="12">-8</tspan></text>
<text x="992" y="201" font-size="12.9">10<tspan dx="0.3" dy="-6" font-size="12">-10</tspan></text>
<text x="992" y="271.5" font-size="12.9">10<tspan dx="0.3" dy="-6" font-size="12">-12</tspan></text>
<text x="992" y="342" font-size="12.9">10<tspan dx="0.3" dy="-6" font-size="12">-14</tspan></text>
<text x="992" y="412.5" font-size="12.9">10<tspan dx="0.3" dy="-6" font-size="12">-16</tspan></text>
<text x="992" y="466.2" font-size="12.9">10<tspan dx="0.3" dy="-6" font-size="12">-10</tspan></text>
<text x="992" y="503.7" font-size="12.9">10<tspan dx="0.3" dy="-6" font-size="12">-15</tspan></text>
<text transform="translate(1049.5,228.2) rotate(-90)" font-size="12.9" text-anchor="middle" textLength="100.5" lengthAdjust="spacing">Ex (V<tspan dy="-7" font-size="12">2</tspan><tspan dy="7"> m</tspan><tspan dy="-7" font-size="12">-2</tspan><tspan dy="7"> Hz</tspan><tspan dy="-7" font-size="12">-1</tspan><tspan dy="7">)</tspan></text>
<text transform="translate(1041.5,466) rotate(-90)" font-size="12.9" text-anchor="middle">LFC Ex</text>
<text x="169.5" y="529.3" font-size="12.9" text-anchor="middle">13:00</text>
<text x="295.5" y="529.3" font-size="12.9" text-anchor="middle">14:00</text>
<text x="421.5" y="529.3" font-size="12.9" text-anchor="middle">15:00</text>
<text x="547.5" y="529.3" font-size="12.9" text-anchor="middle">16:00</text>
<text x="673.5" y="529.3" font-size="12.9" text-anchor="middle">17:00</text>
<text x="798.5" y="529.3" font-size="12.9" text-anchor="middle">18:00</text>
<text x="924.5" y="529.3" font-size="12.9" text-anchor="middle">19:00</text>
<text x="563.7" y="545.1" font-size="12.9" text-anchor="end">4.645</text>
<text x="563.7" y="561.1" font-size="12.9" text-anchor="end">11.131</text>
<text x="563.7" y="577.1" font-size="12.9" text-anchor="end">3.039</text>
<text x="563.7" y="593.1" font-size="12.9" text-anchor="end">50.007</text>
<text x="689.7" y="545.1" font-size="12.9" text-anchor="end">4.229</text>
<text x="689.7" y="561.1" font-size="12.9" text-anchor="end">22.590</text>
<text x="689.7" y="577.1" font-size="12.9" text-anchor="end">2.569</text>
<text x="689.7" y="593.1" font-size="12.9" text-anchor="end">63.852</text>
<text x="814.7" y="545.1" font-size="12.9" text-anchor="end">3.147</text>
<text x="814.7" y="561.1" font-size="12.9" text-anchor="end">****</text>
<text x="814.7" y="577.1" font-size="12.9" text-anchor="end">23.236</text>
<text x="814.7" y="593.1" font-size="12.9" text-anchor="end">82.575</text>
<text x="940.7" y="545.1" font-size="12.9" text-anchor="end">1.286</text>
<text x="940.7" y="561.1" font-size="12.9" text-anchor="end">1.394</text>
<text x="940.7" y="577.1" font-size="12.9" text-anchor="end">15.760</text>
<text x="940.7" y="593.1" font-size="12.9" text-anchor="end">12.679</text>
<text x="59.5" y="544.5" font-size="12.9" text-anchor="end">R<tspan dy="3.5" font-size="8">e</tspan></text>
<text x="59.5" y="560.5" font-size="12.9" text-anchor="end">L</text>
<text x="59.5" y="576.5" font-size="12.9" text-anchor="end">M<tspan dy="3.5" font-size="8">LT</tspan></text>
<text x="59.5" y="592.5" font-size="12.9" text-anchor="end">M<tspan dy="3.5" font-size="8">LAT</tspan></text>
<text x="521.8" y="611" font-size="12.9" text-anchor="middle" textLength="183.5" lengthAdjust="spacing">1982-01-02 (002) 12:22 to 19:13</text>
</svg>
</body></html>
